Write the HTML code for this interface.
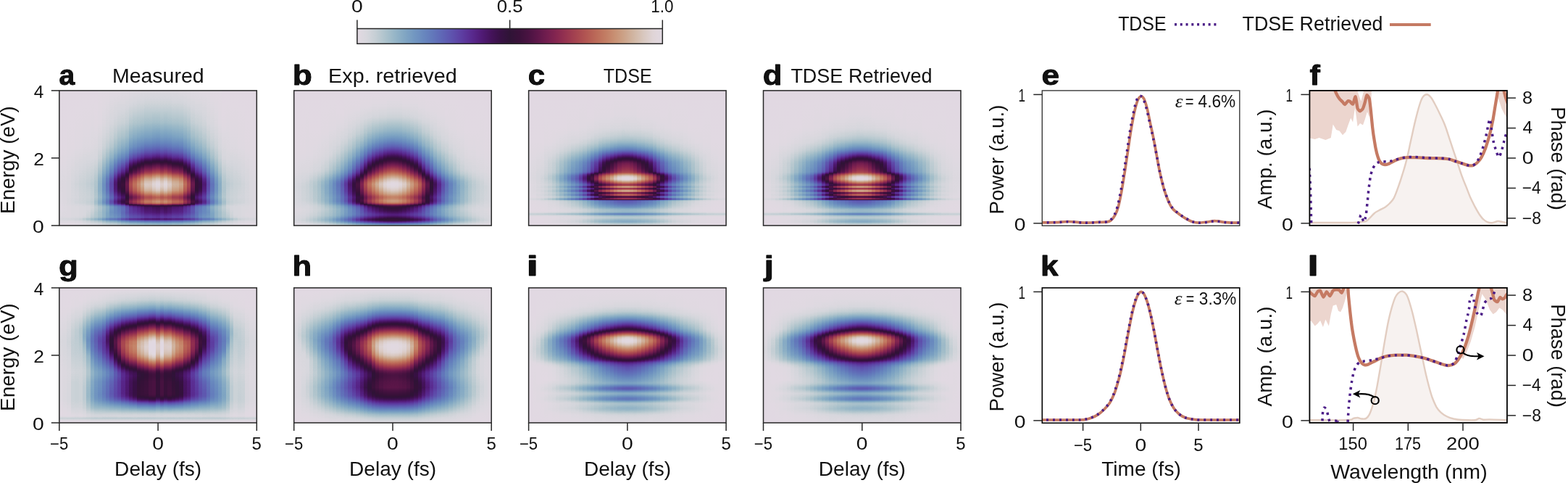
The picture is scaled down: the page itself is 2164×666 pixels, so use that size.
<!DOCTYPE html>
<html><head><meta charset="utf-8"><title>Figure</title>
<style>
html,body{margin:0;padding:0;background:#fff}
#fig{position:relative;width:2164px;height:666px;overflow:hidden;background:#fff;font-family:"Liberation Sans",sans-serif}
#fig svg{position:absolute;left:0;top:0}
.hm{position:absolute;overflow:hidden;background:#e2d9e2}
.hc{position:absolute;top:0;height:100%;filter:url(#tw)}
.hc i{position:absolute;top:0;height:100%;width:5.64px}
text{font-family:"Liberation Sans",sans-serif;fill:#111}
.p0{background:linear-gradient(#000,#010101 41.7%,#050505 69.1%,#040404 82.8%,#030303 86.8%,#050505 93.5%,#080808 95.2%,#040404 97%,#010101)}
.p1{background:linear-gradient(#000,#010101 41.7%,#050505 68.8%,#050505 83.3%,#040404 86.6%,#050505 93.5%,#090909 95.2%,#040404 97%,#010101)}
.p2{background:linear-gradient(#000,#020202 41.7%,#060606 67.5%,#060606 79%,#070707 82.5%,#050505 86%,#050505 93%,#060606 94.1%,#0a0a0a 95.2%,#040404 97%,#010101)}
.p3{background:linear-gradient(#000,#020202 42.2%,#090909 69.4%,#080808 79%,#090909 82.8%,#060606 86%,#060606 93%,#070707 94.1%,#0b0b0b 95.2%,#040404 97%,#010101)}
.p4{background:linear-gradient(#000,#030303 41.9%,#0b0b0b 69.1%,#090909 79%,#0b0b0b 82.8%,#060606 86%,#060606 93%,#080808 94.1%,#0c0c0c 95.2%,#0b0b0b 95.7%,#050505 97%,#020202)}
.p5{background:linear-gradient(#000,#030303 41.7%,#0d0d0d 69.1%,#0b0b0b 79%,#0c0c0c 82.8%,#070707 86%,#070707 93%,#090909 94.1%,#0e0e0e 95.2%,#0d0d0d 95.7%,#060606 97%,#020202)}
.p6{background:linear-gradient(#000,#040404 41.7%,#0e0e0e 69.1%,#0c0c0c 79%,#0d0d0d 82.8%,#080808 86%,#080808 91.9%,#0a0a0a 93.8%,#111 94.9%,#121212 95.4%,#090909 97%,#030303)}
.p7{background:linear-gradient(#000,#040404 41.7%,#101010 69.1%,#0d0d0d 79%,#0f0f0f 82.8%,#0e0e0e 83.9%,#090909 85.8%,#090909 87.9%,#0d0d0d 93.5%,#0f0f0f 94.1%,#161616 94.9%,#171717 95.4%,#0c0c0c 97%,#040404)}
.p8{background:linear-gradient(#000,#050505 41.7%,#080808 49.7%,#121212 69.1%,#0f0f0f 79%,#111 82.8%,#101010 83.9%,#0c0c0c 85.5%,#0b0b0b 86.6%,#121212 93.5%,#141414 94.1%,#1d1d1d 95.2%,#1b1b1b 95.7%,#131313 96.5%,#0e0e0e 97.3%,#050505)}
.p9{background:linear-gradient(#000,#020202 24.2%,#060606 41.7%,#090909 50.3%,#161616 67.5%,#171717 73.9%,#151515 79%,#1a1a1a 82.5%,#191919 83.9%,#121212 85.5%,#111 86.8%,#151515 90.6%,#161616 93.5%,#181818 94.1%,#222 95.2%,#202020 95.7%,#161616 96.5%,#101010 97.3%,#0b0b0b 98.4%,#060606)}
.p10{background:linear-gradient(#010101,#030303 24.2%,#090909 42.2%,#0e0e0e 50%,#191919 60.2%,#202020 65.3%,#232323 69.1%,#232323 74.2%,#1f1f1f 79%,#252525 82.8%,#232323 83.9%,#181818 85.8%,#171717 87.4%,#1a1a1a 90.3%,#1b1b1b 93.5%,#1d1d1d 94.1%,#282828 95.2%,#282828 95.4%,#252525 95.7%,#1a1a1a 96.5%,#131313 97.3%,#0d0d0d 98.4%,#070707)}
.p11{background:linear-gradient(#010101,#050505 24.2%,#0d0d0d 41.9%,#151515 49.7%,#252525 60.2%,#2f2f2f 65.3%,#333 69.9%,#323232 74.2%,#2c2c2c 79%,#323232 82%,#333 82.8%,#2f2f2f 83.9%,#212121 85.5%,#1f1f1f 86%,#1e1e1e 86.8%,#212121 90.3%,#212121 93.5%,#242424 94.1%,#303030 95.2%,#303030 95.4%,#2e2e2e 95.7%,#212121 96.5%,#181818 97.3%,#111 98.4%,#090909)}
.p12{background:linear-gradient(#010101,#070707 23.9%,#0c0c0c 34.7%,#111 41.7%,#1b1b1b 49.5%,#2f2f2f 60.2%,#3d3d3d 65.3%,#424242 69.6%,#404040 74.2%,#373737 79%,#3f3f3f 82%,#3f3f3f 82.8%,#3d3d3d 83.6%,#3b3b3b 83.9%,#292929 85.5%,#262626 86%,#252525 86.8%,#292929 90.9%,#292929 93.5%,#2b2b2b 94.1%,#363636 94.9%,#393939 95.2%,#383838 95.4%,#353535 95.7%,#262626 96.5%,#1c1c1c 97.3%,#131313 98.4%,#0a0a0a)}
.p13{background:linear-gradient(#020202,#090909 23.9%,#0f0f0f 34.7%,#151515 41.7%,#222 49.5%,#3c3c3c 60.2%,#4d4d4d 65.3%,#525252 68%,#535353 69.6%,#515151 74.2%,#464646 79%,#474747 79.8%,#505050 82%,#505050 82.8%,#4d4d4d 83.6%,#4b4b4b 83.9%,#343434 85.5%,#303030 86%,#2f2f2f 86.6%,#323232 90.3%,#2e2e2e 93.5%,#303030 94.1%,#3c3c3c 94.9%,#3e3e3e 95.2%,#3e3e3e 95.4%,#3b3b3b 95.7%,#2a2a2a 96.5%,#1f1f1f 97.3%,#151515 98.4%,#0b0b0b)}
.p14{background:linear-gradient(#020202,#0b0b0b 23.9%,#131313 34.7%,#1b1b1b 41.7%,#222 45.7%,#2b2b2b 49.5%,#4c4c4c 60.2%,#626262 65.3%,#696969 68%,#6a6a6a 69.6%,#676767 74.2%,#585858 79%,#595959 79.8%,#626262 82%,#626262 82.8%,#5e5e5e 83.6%,#5b5b5b 83.9%,#3e3e3e 85.5%,#393939 86%,#373737 86.6%,#373737 90.3%,#323232 93.5%,#333 94.1%,#3f3f3f 94.9%,#414141 95.2%,#414141 95.4%,#3e3e3e 95.7%,#2c2c2c 96.5%,#212121 97.3%,#161616 98.4%,#0b0b0b)}
.p15{background:linear-gradient(#020202,#0d0d0d 23.9%,#171717 34.7%,#202020 41.7%,#282828 45.7%,#333 49.5%,#595959 60.2%,#676767 62.9%,#727272 65.3%,#797979 67.7%,#7b7b7b 69.4%,#7a7a7a 71.5%,#757575 74.2%,#636363 79%,#646464 79.8%,#6e6e6e 82%,#6d6d6d 82.8%,#696969 83.6%,#656565 83.9%,#494949 85.2%,#444 85.5%,#3f3f3f 86%,#3d3d3d 86.6%,#3b3b3b 90.3%,#363636 93.5%,#383838 94.1%,#454545 94.9%,#484848 95.2%,#474747 95.4%,#444 95.7%,#2d2d2d 96.8%,#252525 97.3%,#191919 98.4%,#0d0d0d)}
.p16{background:linear-gradient(#030303,#060606 8.9%,#0e0e0e 23.9%,#191919 34.7%,#242424 41.7%,#2d2d2d 45.7%,#383838 49.5%,#636363 60.2%,#727272 62.9%,#7e7e7e 65.3%,#858585 67.7%,#888 69.4%,#868686 71.5%,#818181 74.2%,#6c6c6c 79%,#6e6e6e 79.8%,#787878 82%,#787878 82.8%,#737373 83.6%,#6f6f6f 83.9%,#505050 85.2%,#4b4b4b 85.5%,#454545 86%,#434343 86.6%,#424242 87.9%,#444 90.6%,#3f3f3f 93.5%,#414141 94.1%,#4e4e4e 94.9%,#515151 95.2%,#515151 95.4%,#4d4d4d 95.7%,#333 96.8%,#2b2b2b 97.3%,#1d1d1d 98.4%,#0f0f0f)}
.p17{background:linear-gradient(#030303,#070707 8.9%,#101010 23.9%,#1c1c1c 34.7%,#282828 41.7%,#323232 45.7%,#3f3f3f 49.5%,#595959 54.8%,#707070 60.2%,#828282 62.9%,#909090 65.3%,#999 68%,#9b9b9b 69.6%,#999 71.8%,#959595 74.2%,#8e8e8e 75.8%,#818181 78.2%,#7e7e7e 79%,#808080 79.8%,#8d8d8d 82%,#8c8c8c 82.8%,#878787 83.6%,#828282 83.9%,#5e5e5e 85.2%,#585858 85.5%,#515151 86%,#4f4f4f 86.6%,#4d4d4d 87.9%,#4e4e4e 90.3%,#464646 93.5%,#474747 94.1%,#545454 94.9%,#575757 95.2%,#575757 95.4%,#525252 95.7%,#373737 96.8%,#2a2a2a 97.6%,#1c1c1c 98.7%,#101010)}
.p18{background:linear-gradient(#040404,#080808 8.9%,#141414 23.9%,#232323 34.7%,#313131 41.7%,#3e3e3e 45.7%,#4e4e4e 49.5%,#6d6d6d 54.8%,#898989 60.2%,#8e8e8e 61%,#9f9f9f 62.9%,#afafaf 65.3%,#b9b9b9 67.7%,#bcbcbc 69.4%,#bababa 71.5%,#b3b3b3 74.2%,#ababab 75.8%,#9a9a9a 78.2%,#969696 79%,#989898 79.8%,#a7a7a7 82%,#a6a6a6 82.8%,#9f9f9f 83.6%,#999 83.9%,#919191 84.1%,#6e6e6e 85.2%,#676767 85.5%,#5f5f5f 86%,#5a5a5a 87.1%,#575757 90.3%,#4d4d4d 93.5%,#4e4e4e 94.1%,#525252 94.4%,#5c5c5c 94.9%,#5f5f5f 95.2%,#5e5e5e 95.4%,#5a5a5a 95.7%,#434343 96.5%,#3c3c3c 96.8%,#2e2e2e 97.6%,#1e1e1e 98.7%,#111)}
.p19{background:linear-gradient(#040404,#090909 8.9%,#161616 23.9%,#262626 34.7%,#353535 41.7%,#434343 45.7%,#545454 49.5%,#757575 54.8%,#949494 60.2%,#999 61%,#ababab 62.9%,#bcbcbc 65.3%,#c7c7c7 67.7%,#cacaca 69.4%,#c8c8c8 71.5%,#c0c0c0 74.2%,#b7b7b7 75.8%,#a4a4a4 78.2%,#a0a0a0 79%,#a2a2a2 79.8%,#b0b0b0 82%,#afafaf 82.8%,#a8a8a8 83.6%,#a1a1a1 83.9%,#999 84.1%,#737373 85.2%,#6c6c6c 85.5%,#646464 86%,#5f5f5f 87.1%,#5a5a5a 90.3%,#4f4f4f 93.5%,#505050 94.1%,#535353 94.4%,#5d5d5d 94.9%,#606060 95.2%,#5f5f5f 95.4%,#5b5b5b 95.7%,#444 96.5%,#3d3d3d 96.8%,#2e2e2e 97.6%,#1f1f1f 98.7%,#121212)}
.p20{background:linear-gradient(#040404,#0a0a0a 8.9%,#171717 23.9%,#282828 34.4%,#383838 41.4%,#474747 45.7%,#5a5a5a 49.5%,#7d7d7d 54.8%,#9d9d9d 60.2%,#a3a3a3 61%,#b5b5b5 62.9%,#c8c8c8 65.3%,#d3d3d3 67.7%,#d7d7d7 69.4%,#d4d4d4 71.5%,#ccc 74.2%,#c1c1c1 75.8%,#adadad 78.2%,#a9a9a9 79%,#ababab 79.8%,#bababa 82%,#b9b9b9 82.8%,#b0b0b0 83.6%,#aaa 83.9%,#a1a1a1 84.1%,#797979 85.2%,#727272 85.5%,#696969 86%,#636363 87.1%,#5e5e5e 90.3%,#515151 93.5%,#525252 94.1%,#555 94.4%,#5f5f5f 94.9%,#626262 95.2%,#626262 95.4%,#5d5d5d 95.7%,#464646 96.5%,#3f3f3f 96.8%,#303030 97.6%,#202020 98.7%,#121212)}
.p21{background:linear-gradient(#050505,#0a0a0a 8.9%,#181818 23.9%,#2a2a2a 34.4%,#323232 38.2%,#3b3b3b 41.4%,#4b4b4b 45.7%,#5f5f5f 49.5%,#848484 54.8%,#a6a6a6 60.2%,#acacac 61%,#c0c0c0 62.9%,#d3d3d3 65.3%,#dfdfdf 67.7%,#e3e3e3 69.4%,#e0e0e0 71.2%,#d8d8d8 73.9%,#ccc 75.8%,#b7b7b7 78.2%,#b2b2b2 79%,#b4b4b4 79.8%,#c4c4c4 82%,#c4c4c4 82.3%,#c2c2c2 82.8%,#bababa 83.6%,#b2b2b2 83.9%,#a9a9a9 84.1%,#7f7f7f 85.2%,#777 85.5%,#6e6e6e 86%,#6b6b6b 86.3%,#686868 87.1%,#626262 90.3%,#555 93.5%,#555 94.1%,#595959 94.4%,#636363 94.9%,#666 95.2%,#656565 95.4%,#606060 95.7%,#484848 96.5%,#424242 96.8%,#323232 97.6%,#212121 98.7%,#131313)}
.p22{background:linear-gradient(#050505,#0b0b0b 8.9%,#1a1a1a 23.9%,#2c2c2c 34.4%,#353535 38.2%,#3f3f3f 41.4%,#505050 45.7%,#646464 49.5%,#8c8c8c 54.8%,#afafaf 60.2%,#b6b6b6 61%,#cbcbcb 62.9%,#e0e0e0 65.3%,#ececec 67.7%,#f0f0f0 69.4%,#eee 71.2%,#e5e5e5 73.9%,#d8d8d8 75.8%,#c1c1c1 78.2%,#bcbcbc 79%,#bebebe 79.8%,#cfcfcf 82%,#cfcfcf 82.3%,#cdcdcd 82.8%,#c4c4c4 83.6%,#bdbdbd 83.9%,#b2b2b2 84.1%,#868686 85.2%,#7e7e7e 85.5%,#747474 86%,#717171 86.3%,#6e6e6e 87.1%,#676767 90.3%,#5e5e5e 92.2%,#595959 93.5%,#595959 94.1%,#5d5d5d 94.4%,#676767 94.9%,#6a6a6a 95.2%,#696969 95.4%,#646464 95.7%,#4c4c4c 96.5%,#454545 96.8%,#343434 97.6%,#232323 98.7%,#141414)}
.p23{background:linear-gradient(#050505,#0b0b0b 8.9%,#1a1a1a 23.9%,#2c2c2c 34.4%,#353535 38.2%,#3f3f3f 41.4%,#505050 45.7%,#626262 49.2%,#8b8b8b 54.8%,#afafaf 60.2%,#b6b6b6 61%,#cacaca 62.9%,#dfdfdf 65.3%,#ececec 67.7%,#efefef 69.4%,#ededed 71.2%,#e4e4e4 73.9%,#d7d7d7 75.8%,#c0c0c0 78.2%,#bbb 79%,#bdbdbd 79.8%,#cecece 82%,#cecece 82.3%,#ccc 82.8%,#c3c3c3 83.6%,#bcbcbc 83.9%,#b1b1b1 84.1%,#868686 85.2%,#7d7d7d 85.5%,#737373 86%,#717171 86.3%,#6d6d6d 87.1%,#676767 90.3%,#5d5d5d 92.2%,#585858 93.5%,#585858 94.1%,#5c5c5c 94.4%,#666 94.9%,#686868 95.2%,#686868 95.4%,#636363 95.7%,#4b4b4b 96.5%,#444 96.8%,#343434 97.6%,#222 98.7%,#131313)}
.p24{background:linear-gradient(#050505,#0b0b0b 8.9%,#1b1b1b 23.9%,#2e2e2e 34.4%,#373737 38.2%,#414141 41.4%,#525252 45.7%,#666 49.2%,#909090 54.8%,#b5b5b5 60.2%,#bcbcbc 61%,#d1d1d1 62.9%,#e6e6e6 65.3%,#f3f3f3 67.7%,#f7f7f7 69.4%,#f4f4f4 71.2%,#ebebeb 73.9%,#dedede 75.8%,#c6c6c6 78.2%,#c1c1c1 79%,#c1c1c1 79.3%,#c3c3c3 79.8%,#d4d4d4 82%,#d5d5d5 82.3%,#d2d2d2 82.8%,#c9c9c9 83.6%,#c1c1c1 83.9%,#b7b7b7 84.1%,#8a8a8a 85.2%,#818181 85.5%,#777 86%,#747474 86.3%,#707070 87.1%,#696969 90.3%,#606060 92.2%,#5a5a5a 93.5%,#5a5a5a 94.1%,#5e5e5e 94.4%,#686868 94.9%,#6b6b6b 95.2%,#6a6a6a 95.4%,#656565 95.7%,#4c4c4c 96.5%,#454545 96.8%,#353535 97.6%,#232323 98.7%,#141414)}
.p25{background:linear-gradient(#050505,#0b0b0b 8.9%,#1b1b1b 23.9%,#2f2f2f 34.4%,#383838 38.2%,#424242 41.4%,#545454 45.7%,#686868 49.2%,#7d7d7d 52.2%,#939393 54.8%,#b8b8b8 60.2%,#bfbfbf 61%,#d5d5d5 62.9%,#ebebeb 65.3%,#f8f8f8 67.7%,#fcfcfc 69.4%,#f9f9f9 71.2%,#f0f0f0 73.9%,#e2e2e2 75.8%,#cacaca 78.2%,#c5c5c5 79%,#c4c4c4 79.3%,#c7c7c7 79.8%,#d8d8d8 82%,#d9d9d9 82.3%,#d6d6d6 82.8%,#cdcdcd 83.6%,#c5c5c5 83.9%,#bababa 84.1%,#8c8c8c 85.2%,#838383 85.5%,#797979 86%,#767676 86.3%,#727272 87.1%,#6b6b6b 90.3%,#616161 92.2%,#5c5c5c 93.5%,#5c5c5c 94.1%,#5f5f5f 94.4%,#696969 94.9%,#6c6c6c 95.2%,#6b6b6b 95.4%,#666 95.7%,#4d4d4d 96.5%,#464646 96.8%,#363636 97.6%,#242424 98.7%,#141414)}
.p26{background:linear-gradient(#050505,#0b0b0b 8.9%,#1a1a1a 23.9%,#2d2d2d 34.4%,#363636 38.2%,#404040 41.4%,#515151 45.7%,#646464 49.2%,#8e8e8e 54.8%,#b2b2b2 60.2%,#b9b9b9 61%,#cecece 62.9%,#e3e3e3 65.3%,#efefef 67.7%,#f3f3f3 69.4%,#f1f1f1 71.2%,#e7e7e7 73.9%,#dadada 75.8%,#c3c3c3 78.2%,#bebebe 79%,#c0c0c0 79.8%,#d1d1d1 82%,#d1d1d1 82.3%,#cfcfcf 82.8%,#c6c6c6 83.6%,#bebebe 83.9%,#b4b4b4 84.1%,#878787 85.2%,#7f7f7f 85.5%,#757575 86%,#727272 86.3%,#6f6f6f 87.1%,#676767 90.3%,#5e5e5e 92.2%,#585858 93.5%,#595959 94.1%,#5c5c5c 94.4%,#656565 94.9%,#686868 95.2%,#676767 95.4%,#636363 95.7%,#4b4b4b 96.5%,#444 96.8%,#343434 97.6%,#222 98.7%,#131313)}
.p27{background:linear-gradient(#050505,#0b0b0b 8.9%,#1b1b1b 23.9%,#2e2e2e 34.4%,#373737 38.2%,#414141 41.4%,#535353 45.7%,#676767 49.2%,#919191 54.8%,#b7b7b7 60.2%,#bebebe 61%,#d3d3d3 62.9%,#e9e9e9 65.3%,#f6f6f6 67.7%,#fafafa 69.4%,#f7f7f7 71.2%,#eee 73.9%,#e0e0e0 75.8%,#c9c9c9 78.2%,#c3c3c3 79%,#c3c3c3 79.3%,#c5c5c5 79.8%,#d6d6d6 82%,#d7d7d7 82.3%,#d5d5d5 82.8%,#cbcbcb 83.6%,#c3c3c3 83.9%,#b9b9b9 84.1%,#8b8b8b 85.2%,#828282 85.5%,#787878 86%,#757575 86.3%,#727272 87.1%,#6b6b6b 90.3%,#616161 92.2%,#5b5b5b 93.5%,#5b5b5b 94.1%,#5f5f5f 94.4%,#696969 94.9%,#6c6c6c 95.2%,#6b6b6b 95.4%,#666 95.7%,#4d4d4d 96.5%,#464646 96.8%,#353535 97.6%,#232323 98.7%,#141414)}
.p28{background:linear-gradient(#050505,#0b0b0b 8.9%,#1a1a1a 23.9%,#2d2d2d 34.4%,#363636 38.2%,#3f3f3f 41.4%,#505050 45.7%,#636363 49.2%,#8c8c8c 54.8%,#b0b0b0 60.2%,#b7b7b7 61%,#ccc 62.9%,#e1e1e1 65.3%,#ededed 67.7%,#f1f1f1 69.4%,#efefef 71.2%,#e6e6e6 73.9%,#d9d9d9 75.8%,#c2c2c2 78.2%,#bdbdbd 79%,#bfbfbf 79.8%,#cfcfcf 82%,#d0d0d0 82.3%,#cecece 82.8%,#c5c5c5 83.6%,#bdbdbd 83.9%,#b3b3b3 84.1%,#878787 85.2%,#7e7e7e 85.5%,#747474 86%,#727272 86.3%,#6e6e6e 87.1%,#686868 90.3%,#5e5e5e 92.2%,#595959 93.5%,#595959 94.1%,#5c5c5c 94.4%,#666 94.9%,#696969 95.2%,#696969 95.4%,#646464 95.7%,#4b4b4b 96.5%,#444 96.8%,#343434 97.6%,#232323 98.7%,#141414)}
.p29{background:linear-gradient(#050505,#0a0a0a 8.9%,#191919 23.9%,#2b2b2b 34.4%,#333 38.2%,#3c3c3c 41.4%,#4d4d4d 45.7%,#606060 49.5%,#868686 54.8%,#a8a8a8 60.2%,#afafaf 61%,#c3c3c3 62.9%,#d7d7d7 65.3%,#e3e3e3 67.7%,#e6e6e6 69.4%,#e4e4e4 71.2%,#dcdcdc 73.9%,#cfcfcf 75.8%,#b9b9b9 78.2%,#b4b4b4 79%,#b7b7b7 79.8%,#c6c6c6 82%,#c7c7c7 82.3%,#c5c5c5 82.8%,#bcbcbc 83.6%,#b5b5b5 83.9%,#ababab 84.1%,#818181 85.2%,#797979 85.5%,#6f6f6f 86%,#6d6d6d 86.3%,#6a6a6a 87.1%,#636363 90.3%,#555 93.5%,#565656 94.1%,#595959 94.4%,#636363 94.9%,#666 95.2%,#656565 95.4%,#606060 95.7%,#494949 96.5%,#424242 96.8%,#323232 97.6%,#212121 98.7%,#131313)}
.p30{background:linear-gradient(#050505,#0a0a0a 8.9%,#191919 23.9%,#2a2a2a 34.4%,#333 38.2%,#3c3c3c 41.4%,#4c4c4c 45.7%,#606060 49.5%,#858585 54.8%,#a8a8a8 60.2%,#aeaeae 61%,#c2c2c2 62.9%,#d6d6d6 65.3%,#e2e2e2 67.7%,#e5e5e5 69.4%,#e3e3e3 71.2%,#dbdbdb 73.9%,#cecece 75.8%,#b9b9b9 78.2%,#b4b4b4 79%,#b6b6b6 79.8%,#c6c6c6 82%,#c6c6c6 82.3%,#c4c4c4 82.8%,#bcbcbc 83.6%,#b5b5b5 83.9%,#ababab 84.1%,#818181 85.2%,#797979 85.5%,#6f6f6f 86%,#6d6d6d 86.3%,#696969 87.1%,#636363 90.3%,#565656 93.5%,#565656 94.1%,#5a5a5a 94.4%,#646464 94.9%,#676767 95.2%,#666 95.4%,#616161 95.7%,#494949 96.5%,#424242 96.8%,#323232 97.6%,#222 98.7%,#131313)}
.p31{background:linear-gradient(#040404,#0a0a0a 8.9%,#181818 23.9%,#292929 34.4%,#3a3a3a 41.4%,#4a4a4a 45.7%,#5d5d5d 49.5%,#828282 54.8%,#a3a3a3 60.2%,#a9a9a9 61%,#bcbcbc 62.9%,#d0d0d0 65.3%,#dbdbdb 67.7%,#dfdfdf 69.4%,#dcdcdc 71.5%,#d3d3d3 74.2%,#c9c9c9 75.8%,#b4b4b4 78.2%,#afafaf 79%,#b1b1b1 79.8%,#c1c1c1 82%,#c2c2c2 82.3%,#c0c0c0 82.8%,#b7b7b7 83.6%,#b0b0b0 83.9%,#a7a7a7 84.1%,#7e7e7e 85.2%,#767676 85.5%,#6d6d6d 86%,#6a6a6a 86.3%,#676767 87.1%,#626262 90.3%,#545454 93.5%,#555 94.1%,#595959 94.4%,#636363 94.9%,#666 95.2%,#656565 95.4%,#616161 95.7%,#484848 96.5%,#424242 96.8%,#323232 97.6%,#212121 98.7%,#131313)}
.p32{background:linear-gradient(#040404,#090909 8.9%,#161616 23.9%,#262626 34.7%,#353535 41.7%,#434343 45.7%,#545454 49.5%,#757575 54.8%,#939393 60.2%,#999 61%,#aaa 62.9%,#bcbcbc 65.3%,#c7c7c7 67.7%,#cacaca 69.4%,#c7c7c7 71.5%,#c0c0c0 74.2%,#b6b6b6 75.8%,#a4a4a4 78.2%,#9f9f9f 79%,#a1a1a1 79.8%,#b0b0b0 82%,#afafaf 82.8%,#a7a7a7 83.6%,#a1a1a1 83.9%,#989898 84.1%,#737373 85.2%,#6c6c6c 85.5%,#636363 86%,#5f5f5f 87.1%,#5a5a5a 90.3%,#4e4e4e 93.5%,#4f4f4f 94.1%,#535353 94.4%,#5d5d5d 94.9%,#606060 95.2%,#5f5f5f 95.4%,#5a5a5a 95.7%,#434343 96.5%,#3d3d3d 96.8%,#2e2e2e 97.6%,#1f1f1f 98.7%,#111)}
.p33{background:linear-gradient(#040404,#080808 8.9%,#141414 23.9%,#222 34.7%,#303030 41.7%,#3d3d3d 45.7%,#4c4c4c 49.5%,#6b6b6b 54.8%,#868686 60.2%,#8c8c8c 61%,#9c9c9c 62.9%,#acacac 65.3%,#b6b6b6 67.7%,#b9b9b9 69.4%,#b7b7b7 71.5%,#b0b0b0 74.2%,#a8a8a8 75.8%,#979797 78.2%,#939393 79%,#959595 79.8%,#a3a3a3 82%,#a3a3a3 82.8%,#9c9c9c 83.6%,#969696 83.9%,#8e8e8e 84.1%,#6b6b6b 85.2%,#656565 85.5%,#5d5d5d 86%,#595959 87.1%,#565656 90.3%,#4b4b4b 93.5%,#4d4d4d 94.1%,#5a5a5a 94.9%,#5d5d5d 95.2%,#5c5c5c 95.4%,#585858 95.7%,#414141 96.5%,#3b3b3b 96.8%,#2d2d2d 97.6%,#1e1e1e 98.7%,#111)}
.p34{background:linear-gradient(#030303,#070707 8.9%,#101010 23.9%,#1c1c1c 34.7%,#292929 41.7%,#333 45.7%,#404040 49.5%,#5a5a5a 54.8%,#717171 60.2%,#838383 62.9%,#919191 65.3%,#9a9a9a 68%,#9c9c9c 69.6%,#9a9a9a 71.8%,#969696 74.2%,#8f8f8f 75.8%,#828282 78.2%,#7f7f7f 79%,#818181 79.8%,#8e8e8e 82%,#8e8e8e 82.8%,#888 83.6%,#838383 83.9%,#5e5e5e 85.2%,#595959 85.5%,#525252 86%,#505050 86.6%,#4e4e4e 87.9%,#4e4e4e 90.3%,#464646 93.5%,#484848 94.1%,#555 94.9%,#585858 95.2%,#575757 95.4%,#535353 95.7%,#383838 96.8%,#2a2a2a 97.6%,#1c1c1c 98.7%,#101010)}
.p35{background:linear-gradient(#030303,#060606 8.9%,#0e0e0e 23.9%,#191919 34.7%,#232323 41.7%,#2c2c2c 45.7%,#373737 49.5%,#606060 60.2%,#707070 62.9%,#7b7b7b 65.3%,#828282 67.7%,#848484 69.4%,#838383 71.5%,#7e7e7e 74.2%,#6a6a6a 79%,#6b6b6b 79.8%,#767676 82%,#757575 82.8%,#707070 83.6%,#6c6c6c 83.9%,#4e4e4e 85.2%,#494949 85.5%,#444 86%,#424242 86.6%,#414141 87.9%,#424242 90.6%,#3e3e3e 93.5%,#404040 94.1%,#4c4c4c 94.9%,#4f4f4f 95.2%,#4f4f4f 95.4%,#4b4b4b 95.7%,#323232 96.8%,#2a2a2a 97.3%,#1c1c1c 98.4%,#0f0f0f)}
.p36{background:linear-gradient(#020202,#0d0d0d 23.9%,#161616 34.7%,#202020 41.7%,#282828 45.7%,#323232 49.5%,#595959 60.2%,#676767 62.9%,#727272 65.3%,#787878 67.7%,#7a7a7a 69.4%,#797979 71.5%,#757575 74.2%,#626262 79%,#636363 79.8%,#6d6d6d 82%,#6d6d6d 82.8%,#686868 83.6%,#646464 83.9%,#484848 85.2%,#444 85.5%,#3f3f3f 86%,#3d3d3d 86.6%,#3b3b3b 90.3%,#363636 93.5%,#383838 94.1%,#444 94.9%,#474747 95.2%,#474747 95.4%,#434343 95.7%,#2d2d2d 96.8%,#252525 97.3%,#191919 98.4%,#0d0d0d)}
.p37{background:linear-gradient(#020202,#0b0b0b 23.9%,#131313 34.7%,#1b1b1b 41.7%,#222 45.7%,#2a2a2a 49.5%,#4b4b4b 60.2%,#616161 65.3%,#676767 68%,#696969 69.6%,#656565 74.2%,#575757 79%,#585858 79.8%,#616161 82%,#616161 82.8%,#5d5d5d 83.6%,#5a5a5a 83.9%,#3d3d3d 85.5%,#383838 86%,#373737 86.6%,#363636 90.3%,#313131 93.5%,#333 94.1%,#3e3e3e 94.9%,#414141 95.2%,#404040 95.4%,#3d3d3d 95.7%,#2c2c2c 96.5%,#212121 97.3%,#161616 98.4%,#0b0b0b)}
.p38{background:linear-gradient(#020202,#080808 23.9%,#0f0f0f 34.7%,#151515 41.7%,#222 49.5%,#3c3c3c 60.2%,#4d4d4d 65.3%,#525252 68%,#535353 69.6%,#505050 74.2%,#454545 79%,#474747 79.8%,#4f4f4f 82%,#4f4f4f 82.8%,#4d4d4d 83.6%,#4a4a4a 83.9%,#343434 85.5%,#303030 86%,#2f2f2f 86.6%,#323232 90.3%,#2e2e2e 93.5%,#303030 94.1%,#3c3c3c 94.9%,#3e3e3e 95.2%,#3e3e3e 95.4%,#3a3a3a 95.7%,#2a2a2a 96.5%,#1f1f1f 97.3%,#151515 98.4%,#0b0b0b)}
.p39{background:linear-gradient(#010101,#070707 23.9%,#0c0c0c 34.7%,#111 41.7%,#1a1a1a 49.5%,#2f2f2f 60.2%,#3c3c3c 65.3%,#414141 69.6%,#3f3f3f 74.2%,#373737 79%,#3e3e3e 82%,#3e3e3e 82.8%,#3c3c3c 83.6%,#3a3a3a 83.9%,#282828 85.5%,#252525 86%,#242424 86.8%,#292929 90.9%,#292929 93.5%,#2b2b2b 94.1%,#363636 94.9%,#383838 95.2%,#383838 95.4%,#353535 95.7%,#262626 96.5%,#1c1c1c 97.3%,#131313 98.4%,#0a0a0a)}
.p40{background:linear-gradient(#010101,#050505 24.2%,#0d0d0d 41.9%,#141414 49.7%,#242424 60.2%,#2e2e2e 65.3%,#323232 69.9%,#313131 74.2%,#2b2b2b 79%,#313131 82%,#313131 82.8%,#2e2e2e 83.9%,#202020 85.5%,#1e1e1e 86%,#1d1d1d 86.8%,#202020 90.3%,#202020 93.5%,#222 94.1%,#2f2f2f 95.2%,#2f2f2f 95.4%,#2c2c2c 95.7%,#202020 96.5%,#181818 97.3%,#101010 98.4%,#090909)}
.p41{background:linear-gradient(#010101,#030303 24.2%,#090909 42.2%,#0e0e0e 50%,#191919 60.2%,#212121 65.3%,#242424 69.1%,#242424 74.2%,#202020 79%,#262626 82.8%,#242424 83.9%,#191919 85.8%,#181818 87.4%,#1b1b1b 90.3%,#1b1b1b 93.5%,#1e1e1e 94.1%,#292929 95.2%,#282828 95.4%,#262626 95.7%,#1b1b1b 96.5%,#141414 97.3%,#0d0d0d 98.4%,#070707)}
.p42{background:linear-gradient(#000,#020202 24.2%,#060606 41.7%,#090909 50.3%,#161616 67.5%,#171717 73.9%,#151515 79%,#1a1a1a 82.5%,#191919 83.9%,#121212 85.5%,#111 86.8%,#151515 90.6%,#161616 93.5%,#181818 94.1%,#222 95.2%,#202020 95.7%,#161616 96.5%,#101010 97.3%,#0b0b0b 98.4%,#060606)}
.p43{background:linear-gradient(#000,#050505 41.7%,#070707 49.7%,#121212 69.1%,#0f0f0f 79%,#111 82.8%,#101010 83.9%,#0b0b0b 85.5%,#0b0b0b 86.6%,#121212 93.5%,#141414 94.1%,#1c1c1c 95.2%,#1b1b1b 95.7%,#121212 96.5%,#0d0d0d 97.3%,#050505)}
.p44{background:linear-gradient(#000,#040404 41.7%,#101010 69.1%,#0d0d0d 79%,#0f0f0f 82.8%,#0e0e0e 83.9%,#090909 85.8%,#090909 87.9%,#0d0d0d 93.5%,#0f0f0f 94.1%,#161616 94.9%,#171717 95.4%,#0c0c0c 97%,#040404)}
.p45{background:linear-gradient(#000,#040404 41.7%,#0e0e0e 69.1%,#0c0c0c 79%,#0d0d0d 82.8%,#080808 86%,#080808 91.9%,#0a0a0a 93.8%,#111 94.9%,#121212 95.4%,#090909 97%,#030303)}
.p46{background:linear-gradient(#000,#030303 41.7%,#0d0d0d 69.1%,#0a0a0a 79%,#0c0c0c 82.8%,#070707 86%,#070707 93%,#090909 94.1%,#0e0e0e 95.2%,#0d0d0d 95.7%,#060606 97%,#020202)}
.p47{background:linear-gradient(#000,#030303 41.9%,#0b0b0b 69.1%,#0a0a0a 79%,#0b0b0b 82.8%,#060606 86%,#060606 93%,#080808 94.1%,#0c0c0c 95.2%,#0b0b0b 95.7%,#050505 97%,#020202)}
.p48{background:linear-gradient(#000,#020202 42.2%,#090909 69.4%,#080808 79%,#090909 82.8%,#060606 86%,#050505 93%,#070707 94.1%,#0b0b0b 95.2%,#040404 97%,#010101)}
.p49{background:linear-gradient(#000,#020202 41.7%,#060606 67.5%,#060606 79%,#070707 82.5%,#050505 86%,#050505 93%,#060606 94.1%,#0a0a0a 95.2%,#040404 97%,#010101)}
.p50{background:linear-gradient(#000,#010101 41.7%,#050505 68.8%,#050505 83.3%,#040404 86.6%,#050505 93.5%,#090909 95.2%,#040404 97%,#010101)}
.q0{background:linear-gradient(#000,#020202 45.7%,#040404 58.6%,#090909 70.7%,#080808 82%,#050505 88.4%,#060606 92.5%,#090909 96%,#020202)}
.q1{background:linear-gradient(#000,#020202 46%,#050505 58.9%,#0a0a0a 71%,#090909 82%,#050505 88.4%,#070707 92.5%,#0a0a0a 96%,#020202)}
.q2{background:linear-gradient(#000,#020202 46.5%,#060606 59.7%,#0c0c0c 71%,#0b0b0b 81.7%,#060606 88.2%,#080808 92.5%,#0c0c0c 96%,#030303)}
.q3{background:linear-gradient(#000,#030303 47.3%,#060606 59.4%,#0e0e0e 70.4%,#0d0d0d 81.7%,#080808 85.8%,#070707 88.4%,#0a0a0a 92.7%,#0f0f0f 95.7%,#0d0d0d 96.8%,#030303)}
.q4{background:linear-gradient(#000,#010101 29.3%,#030303 47.8%,#070707 59.4%,#101010 67.7%,#111 70.4%,#0f0f0f 81.7%,#0a0a0a 85.8%,#090909 88.4%,#0c0c0c 92.5%,#121212 95.7%,#101010 96.8%,#040404)}
.q5{background:linear-gradient(#000,#010101 29.6%,#040404 48.1%,#090909 59.4%,#131313 67.7%,#151515 70.7%,#131313 81.7%,#0c0c0c 85.5%,#0b0b0b 88.2%,#0e0e0e 92.5%,#151515 95.7%,#131313 96.8%,#050505)}
.q6{background:linear-gradient(#000,#010101 29.8%,#050505 48.1%,#0a0a0a 59.1%,#181818 67.7%,#191919 70.7%,#171717 81.7%,#151515 83.3%,#0f0f0f 85.5%,#0d0d0d 88.2%,#111 92.5%,#191919 95.7%,#161616 96.8%,#050505)}
.q7{background:linear-gradient(#000,#020202 29.8%,#060606 48.4%,#0d0d0d 59.1%,#111 61.8%,#1d1d1d 67.5%,#202020 70.4%,#1c1c1c 81.7%,#191919 83.3%,#121212 85.5%,#101010 87.9%,#141414 92.5%,#1d1d1d 95.7%,#191919 96.8%,#060606)}
.q8{background:linear-gradient(#000,#020202 29.3%,#070707 47.6%,#101010 58.9%,#151515 61.3%,#232323 67.2%,#262626 70.4%,#252525 76.3%,#222 79.3%,#222 81.7%,#1f1f1f 83.3%,#171717 85.5%,#131313 87.9%,#171717 92.5%,#212121 95.7%,#1d1d1d 96.8%,#070707)}
.q9{background:linear-gradient(#000,#030303 29%,#090909 47%,#151515 58.6%,#1a1a1a 61.3%,#2b2b2b 67.2%,#2e2e2e 70.4%,#2c2c2c 76.1%,#292929 79%,#292929 82%,#252525 83.6%,#1b1b1b 85.5%,#171717 87.9%,#1a1a1a 92.5%,#262626 95.7%,#222 96.8%,#080808)}
.q10{background:linear-gradient(#000,#030303 28%,#070707 38.4%,#0b0b0b 46%,#111 52.2%,#191919 58.3%,#1f1f1f 61%,#333 67.2%,#363636 68.8%,#363636 70.4%,#343434 75.8%,#303030 79%,#313131 82%,#2c2c2c 83.6%,#202020 85.5%,#1b1b1b 87.9%,#1e1e1e 92.5%,#232323 93.8%,#2b2b2b 95.2%,#2c2c2c 95.7%,#2a2a2a 96.2%,#272727 96.8%,#090909)}
.q11{background:linear-gradient(#000,#010101 16.4%,#040404 27.2%,#080808 37.6%,#0d0d0d 45.2%,#151515 51.6%,#1f1f1f 58.3%,#262626 61%,#3c3c3c 67.2%,#3f3f3f 68.5%,#404040 70.2%,#3d3d3d 75.3%,#383838 79%,#393939 82%,#333 83.6%,#262626 85.5%,#202020 87.9%,#232323 92.5%,#292929 93.8%,#313131 95.2%,#333 95.7%,#313131 96.2%,#2d2d2d 96.8%,#232323 97.8%,#0b0b0b)}
.q12{background:linear-gradient(#000,#010101 16.1%,#040404 26.3%,#0a0a0a 36.8%,#101010 44.4%,#191919 51.1%,#262626 58.3%,#2e2e2e 61%,#474747 67.2%,#4a4a4a 68.5%,#4b4b4b 70.2%,#484848 75.3%,#424242 79%,#424242 82%,#3c3c3c 83.6%,#2c2c2c 85.5%,#282828 86.6%,#262626 87.9%,#272727 91.1%,#292929 92.5%,#303030 93.8%,#393939 95.2%,#3a3a3a 95.7%,#383838 96.2%,#333 96.8%,#272727 97.8%,#0c0c0c)}
.q13{background:linear-gradient(#000,#020202 15.9%,#050505 25.8%,#0b0b0b 36.3%,#131313 43.8%,#1e1e1e 50.8%,#2e2e2e 58.3%,#383838 61.3%,#545454 66.9%,#595959 68.5%,#5a5a5a 69.9%,#565656 75%,#4d4d4d 79%,#4e4e4e 82%,#464646 83.6%,#343434 85.5%,#2f2f2f 86.6%,#2c2c2c 87.9%,#2f2f2f 92.5%,#363636 93.8%,#404040 95.2%,#424242 95.7%,#3f3f3f 96.2%,#3a3a3a 96.8%,#2c2c2c 97.8%,#0e0e0e)}
.q14{background:linear-gradient(#000,#020202 13.7%,#050505 22.3%,#0c0c0c 33.9%,#161616 43%,#222 49.5%,#373737 58.1%,#424242 60.8%,#626262 66.4%,#696969 68.3%,#6b6b6b 69.9%,#666 74.7%,#636363 76.6%,#5c5c5c 79%,#5e5e5e 81.2%,#5d5d5d 82%,#5a5a5a 82.8%,#545454 83.6%,#3d3d3d 85.5%,#383838 86.6%,#343434 87.9%,#343434 92.2%,#383838 93%,#484848 95.2%,#494949 95.7%,#474747 96.2%,#414141 96.8%,#323232 97.8%,#0f0f0f)}
.q15{background:linear-gradient(#000,#020202 12.6%,#050505 21%,#0d0d0d 32.5%,#191919 41.7%,#272727 48.4%,#444 57.8%,#515151 60.8%,#727272 66.4%,#797979 68.3%,#7b7b7b 69.6%,#7a7a7a 71.2%,#767676 74.5%,#717171 76.6%,#696969 79%,#6c6c6c 81.2%,#6c6c6c 82%,#686868 82.8%,#626262 83.6%,#474747 85.5%,#404040 86.6%,#3c3c3c 87.9%,#3a3a3a 91.1%,#3b3b3b 92.2%,#434343 93.5%,#515151 95.2%,#535353 95.7%,#4f4f4f 96.2%,#494949 96.8%,#383838 97.8%,#111)}
.q16{background:linear-gradient(#000,#020202 12.6%,#060606 20.7%,#101010 32%,#1e1e1e 41.1%,#2f2f2f 48.1%,#525252 58.1%,#606060 61%,#848484 66.4%,#8c8c8c 68.3%,#8e8e8e 69.6%,#8d8d8d 71.2%,#878787 74.5%,#818181 76.6%,#787878 79%,#7b7b7b 81.5%,#7a7a7a 82.3%,#727272 83.3%,#6f6f6f 83.6%,#505050 85.5%,#494949 86.6%,#454545 87.9%,#424242 91.4%,#434343 92.2%,#454545 92.7%,#4d4d4d 93.8%,#5a5a5a 95.2%,#5c5c5c 95.7%,#5b5b5b 96%,#555 96.5%,#434343 97.6%,#131313)}
.q17{background:linear-gradient(#000,#030303 12.4%,#070707 20.4%,#121212 31.7%,#1a1a1a 36.8%,#232323 40.9%,#373737 47.8%,#5f5f5f 57.8%,#707070 60.8%,#979797 66.1%,#a2a2a2 68.3%,#a4a4a4 69.6%,#a2a2a2 71.5%,#9b9b9b 74.5%,#949494 76.6%,#898989 79%,#898989 79.8%,#8e8e8e 81.5%,#8c8c8c 82.3%,#868686 83.1%,#808080 83.6%,#606060 85.2%,#5c5c5c 85.5%,#555 86.3%,#4f4f4f 87.9%,#4a4a4a 91.4%,#4a4a4a 92.2%,#4d4d4d 92.7%,#555 93.8%,#636363 95.2%,#656565 95.7%,#646464 96%,#5d5d5d 96.5%,#494949 97.6%,#151515)}
.q18{background:linear-gradient(#000,#030303 12.1%,#080808 20.2%,#161616 31.5%,#1f1f1f 36.3%,#282828 40.3%,#414141 47.6%,#717171 57.8%,#838383 60.8%,#9b9b9b 63.7%,#adadad 66.1%,#b7b7b7 68%,#bababa 69.4%,#b8b8b8 71.2%,#b0b0b0 74.2%,#a7a7a7 76.6%,#9e9e9e 78.2%,#9b9b9b 79%,#9b9b9b 79.8%,#a1a1a1 81.5%,#9f9f9f 82.3%,#989898 83.1%,#929292 83.6%,#6d6d6d 85.2%,#686868 85.5%,#616161 86.3%,#5a5a5a 87.6%,#575757 89.5%,#515151 91.4%,#515151 92.2%,#535353 92.7%,#5c5c5c 93.8%,#6a6a6a 95.2%,#6c6c6c 95.7%,#6a6a6a 96%,#636363 96.5%,#4e4e4e 97.6%,#171717)}
.q19{background:linear-gradient(#000,#030303 11.8%,#090909 19.9%,#181818 30.6%,#222 35.2%,#2c2c2c 39.2%,#353535 41.9%,#454545 46%,#636363 51.9%,#8e8e8e 59.7%,#979797 61%,#adadad 63.7%,#bebebe 66.1%,#c9c9c9 68.3%,#cbcbcb 69.4%,#c9c9c9 71.2%,#c0c0c0 74.2%,#b6b6b6 76.6%,#acacac 78.2%,#a9a9a9 79%,#aaa 79.8%,#b0b0b0 81.5%,#afafaf 82.3%,#a8a8a8 83.1%,#a1a1a1 83.6%,#787878 85.2%,#737373 85.5%,#6d6d6d 86%,#656565 87.4%,#5e5e5e 89.5%,#575757 91.1%,#565656 91.9%,#585858 92.7%,#616161 93.8%,#6f6f6f 95.2%,#717171 95.7%,#707070 96%,#686868 96.5%,#525252 97.6%,#181818)}
.q20{background:linear-gradient(#000,#040404 11.8%,#0a0a0a 19.6%,#1b1b1b 30.4%,#242424 34.4%,#2f2f2f 38.4%,#3d3d3d 42.2%,#595959 48.1%,#9b9b9b 59.7%,#a4a4a4 61%,#bababa 63.7%,#cbcbcb 66.1%,#d5d5d5 68.3%,#d8d8d8 69.4%,#d5d5d5 71.2%,#ccc 74.2%,#c1c1c1 76.6%,#b6b6b6 78.2%,#b3b3b3 79%,#b4b4b4 79.8%,#bbb 81.5%,#bababa 82.3%,#b3b3b3 83.1%,#ababab 83.6%,#808080 85.2%,#7b7b7b 85.5%,#747474 86%,#6d6d6d 87.1%,#646464 89.5%,#5c5c5c 91.1%,#5a5a5a 91.9%,#5c5c5c 92.7%,#656565 93.8%,#747474 95.2%,#767676 95.7%,#747474 96%,#6d6d6d 96.5%,#565656 97.6%,#191919)}
.q21{background:linear-gradient(#000,#040404 11.8%,#0a0a0a 19.6%,#1c1c1c 30.1%,#262626 34.1%,#313131 37.9%,#3f3f3f 41.7%,#5d5d5d 47.6%,#a5a5a5 59.7%,#d4d4d4 65.9%,#dfdfdf 68%,#e3e3e3 69.4%,#e0e0e0 71.2%,#d6d6d6 74.2%,#cacaca 76.6%,#bfbfbf 78.2%,#bcbcbc 79%,#bdbdbd 79.8%,#c5c5c5 81.5%,#c3c3c3 82.3%,#bcbcbc 83.1%,#b4b4b4 83.6%,#878787 85.2%,#818181 85.5%,#7a7a7a 86%,#727272 87.1%,#696969 89.5%,#5f5f5f 91.4%,#5e5e5e 92.2%,#606060 92.7%,#696969 93.8%,#797979 95.2%,#7b7b7b 95.7%,#797979 96%,#717171 96.5%,#595959 97.6%,#1a1a1a)}
.q22{background:linear-gradient(#000,#040404 11.6%,#0b0b0b 19.4%,#1d1d1d 29.8%,#272727 33.6%,#333 37.6%,#434343 41.7%,#626262 47.6%,#b0b0b0 59.9%,#cfcfcf 63.7%,#dfdfdf 65.9%,#eaeaea 68%,#eee 69.4%,#ebebeb 71.2%,#e0e0e0 74.2%,#d4d4d4 76.6%,#c8c8c8 78.2%,#c4c4c4 79%,#c5c5c5 79.8%,#cecece 81.5%,#ccc 82.3%,#c5c5c5 83.1%,#c2c2c2 83.3%,#bcbcbc 83.6%,#8d8d8d 85.2%,#878787 85.5%,#808080 86%,#777 87.1%,#6f6f6f 89.2%,#626262 91.4%,#616161 92.2%,#646464 92.7%,#6d6d6d 93.8%,#7d7d7d 95.2%,#7f7f7f 95.7%,#7d7d7d 96%,#757575 96.5%,#5c5c5c 97.6%,#1b1b1b)}
.q23{background:linear-gradient(#000,#040404 11.6%,#0b0b0b 19.4%,#1f1f1f 29.8%,#292929 33.6%,#353535 37.4%,#464646 41.4%,#656565 47%,#b9b9b9 59.9%,#d8d8d8 63.7%,#e8e8e8 65.9%,#f3f3f3 68%,#f7f7f7 69.4%,#f4f4f4 71.2%,#e9e9e9 74.2%,#dcdcdc 76.6%,#cfcfcf 78.2%,#cbcbcb 79%,#cdcdcd 79.8%,#d6d6d6 81.5%,#d4d4d4 82.3%,#cdcdcd 83.1%,#c9c9c9 83.3%,#c4c4c4 83.6%,#929292 85.2%,#8c8c8c 85.5%,#848484 86%,#7c7c7c 87.1%,#737373 89.2%,#656565 91.4%,#646464 92.2%,#666 92.7%,#707070 93.8%,#808080 95.2%,#828282 95.7%,#808080 96%,#787878 96.5%,#5e5e5e 97.6%,#1b1b1b)}
.q24{background:linear-gradient(#000,#050505 11.6%,#0c0c0c 19.4%,#202020 29.8%,#2a2a2a 33.6%,#373737 37.4%,#484848 41.4%,#686868 47%,#bebebe 59.9%,#dbdbdb 63.4%,#ebebeb 65.6%,#f8f8f8 68%,#fcfcfc 69.4%,#f9f9f9 71.2%,#ededed 74.2%,#e0e0e0 76.6%,#d3d3d3 78.2%,#cfcfcf 79%,#d1d1d1 79.8%,#dadada 81.5%,#d9d9d9 82.3%,#d1d1d1 83.1%,#cecece 83.3%,#c8c8c8 83.6%,#959595 85.2%,#8f8f8f 85.5%,#878787 86%,#7f7f7f 87.1%,#757575 89.2%,#676767 91.4%,#666 92.2%,#686868 92.7%,#727272 93.8%,#828282 95.2%,#848484 95.7%,#828282 96%,#797979 96.5%,#606060 97.6%,#1c1c1c)}
.q25{background:linear-gradient(#000,#050505 11.6%,#0c0c0c 19.4%,#202020 29.6%,#2a2a2a 33.3%,#373737 37.1%,#484848 41.1%,#686868 46.8%,#c3c3c3 60.2%,#dedede 63.4%,#eee 65.6%,#fbfbfb 68%,#fff 69.4%,#fbfbfb 71.2%,#f0f0f0 74.2%,#e2e2e2 76.6%,#d5d5d5 78.2%,#d2d2d2 79%,#d3d3d3 79.8%,#dcdcdc 81.5%,#dbdbdb 82.3%,#d3d3d3 83.1%,#d0d0d0 83.3%,#cacaca 83.6%,#979797 85.2%,#919191 85.5%,#898989 86%,#808080 87.1%,#767676 89.2%,#686868 91.4%,#676767 92.2%,#696969 92.7%,#737373 93.8%,#838383 95.2%,#858585 95.7%,#838383 96%,#7a7a7a 96.5%,#616161 97.6%,#1c1c1c)}
.q26{background:linear-gradient(#000,#050505 11.6%,#0c0c0c 19.4%,#202020 29.6%,#2a2a2a 33.3%,#363636 37.1%,#474747 41.1%,#676767 46.8%,#c1c1c1 60.2%,#dcdcdc 63.4%,#ededed 65.6%,#fafafa 68%,#fdfdfd 69.4%,#fafafa 71.2%,#efefef 74.2%,#e1e1e1 76.6%,#d4d4d4 78.2%,#d1d1d1 79%,#d2d2d2 79.8%,#dbdbdb 81.5%,#dadada 82.3%,#d2d2d2 83.1%,#cfcfcf 83.3%,#c9c9c9 83.6%,#969696 85.2%,#909090 85.5%,#888 86%,#7f7f7f 87.1%,#767676 89.2%,#686868 91.4%,#666 92.2%,#696969 92.7%,#727272 93.8%,#838383 95.2%,#848484 95.7%,#838383 96%,#7a7a7a 96.5%,#606060 97.6%,#1c1c1c)}
.q27{background:linear-gradient(#000,#050505 11.6%,#0c0c0c 19.4%,#202020 29.8%,#2a2a2a 33.6%,#363636 37.4%,#474747 41.4%,#666 47%,#bbb 59.9%,#dadada 63.7%,#eaeaea 65.9%,#f5f5f5 68%,#f9f9f9 69.4%,#f6f6f6 71.2%,#ebebeb 74.2%,#ddd 76.6%,#d1d1d1 78.2%,#cdcdcd 79%,#cecece 79.8%,#d7d7d7 81.5%,#d6d6d6 82.3%,#cfcfcf 83.1%,#cbcbcb 83.3%,#c6c6c6 83.6%,#949494 85.2%,#8d8d8d 85.5%,#868686 86%,#7d7d7d 87.1%,#747474 89.2%,#666 91.4%,#656565 92.2%,#676767 92.7%,#717171 93.8%,#818181 95.2%,#838383 95.7%,#818181 96%,#787878 96.5%,#5f5f5f 97.6%,#1c1c1c)}
.q28{background:linear-gradient(#000,#040404 11.6%,#0b0b0b 19.4%,#1e1e1e 29.8%,#282828 33.6%,#343434 37.6%,#434343 41.4%,#636363 47.3%,#b4b4b4 59.9%,#d3d3d3 63.7%,#e3e3e3 65.9%,#eee 68%,#f2f2f2 69.4%,#efefef 71.2%,#e4e4e4 74.2%,#d7d7d7 76.6%,#cbcbcb 78.2%,#c7c7c7 79%,#c9c9c9 79.8%,#d1d1d1 81.5%,#d0d0d0 82.3%,#c8c8c8 83.1%,#c5c5c5 83.3%,#c0c0c0 83.6%,#8f8f8f 85.2%,#898989 85.5%,#828282 86%,#797979 87.1%,#707070 89.2%,#646464 91.4%,#636363 92.2%,#656565 92.7%,#6e6e6e 93.8%,#7f7f7f 95.2%,#808080 95.7%,#7f7f7f 96%,#767676 96.5%,#5d5d5d 97.6%,#1b1b1b)}
.q29{background:linear-gradient(#000,#040404 11.8%,#0b0b0b 19.6%,#1d1d1d 30.1%,#272727 34.1%,#323232 37.9%,#414141 41.7%,#5f5f5f 47.6%,#a9a9a9 59.7%,#d8d8d8 65.9%,#e3e3e3 68%,#e7e7e7 69.4%,#e4e4e4 71.2%,#dadada 74.2%,#cecece 76.6%,#c2c2c2 78.2%,#bfbfbf 79%,#c0c0c0 79.8%,#c8c8c8 81.5%,#c7c7c7 82.3%,#c0c0c0 83.1%,#bdbdbd 83.3%,#b7b7b7 83.6%,#898989 85.2%,#838383 85.5%,#7c7c7c 86%,#747474 87.1%,#6a6a6a 89.5%,#606060 91.4%,#5f5f5f 92.2%,#626262 92.7%,#6b6b6b 93.8%,#7b7b7b 95.2%,#7c7c7c 95.7%,#7b7b7b 96%,#737373 96.5%,#5a5a5a 97.6%,#1a1a1a)}
.q30{background:linear-gradient(#000,#040404 11.8%,#0a0a0a 19.6%,#1b1b1b 30.1%,#242424 34.1%,#303030 38.2%,#3e3e3e 41.9%,#5a5a5a 47.8%,#9f9f9f 59.7%,#a8a8a8 61%,#bebebe 63.7%,#cfcfcf 66.1%,#dadada 68.3%,#dcdcdc 69.4%,#dadada 71.2%,#d0d0d0 74.2%,#c5c5c5 76.6%,#bababa 78.2%,#b7b7b7 79%,#b8b8b8 79.8%,#bfbfbf 81.5%,#bebebe 82.3%,#b7b7b7 83.1%,#afafaf 83.6%,#838383 85.2%,#7d7d7d 85.5%,#767676 86%,#6f6f6f 87.1%,#666 89.5%,#5d5d5d 91.1%,#5b5b5b 91.9%,#5c5c5c 92.5%,#676767 93.8%,#767676 95.2%,#787878 95.7%,#767676 96%,#6e6e6e 96.5%,#575757 97.6%,#191919)}
.q31{background:linear-gradient(#000,#040404 11.8%,#090909 19.6%,#191919 30.4%,#222 34.7%,#2d2d2d 38.7%,#3b3b3b 42.7%,#575757 48.7%,#929292 59.4%,#c3c3c3 66.1%,#cecece 68.3%,#d0d0d0 69.4%,#cecece 71.2%,#c5c5c5 74.2%,#bbb 76.6%,#b0b0b0 78.2%,#adadad 79%,#aeaeae 79.8%,#b5b5b5 81.5%,#b3b3b3 82.3%,#adadad 83.1%,#a5a5a5 83.6%,#7c7c7c 85.2%,#767676 85.5%,#707070 86%,#676767 87.4%,#616161 89.5%,#595959 91.1%,#575757 91.9%,#5a5a5a 92.7%,#626262 93.8%,#717171 95.2%,#737373 95.7%,#727272 96%,#6a6a6a 96.5%,#545454 97.6%,#181818)}
.q32{background:linear-gradient(#000,#030303 12.1%,#080808 20.2%,#171717 31.2%,#202020 36%,#2a2a2a 40.1%,#343434 43%,#444 47.3%,#6d6d6d 55.6%,#7b7b7b 58.3%,#878787 60.2%,#a3a3a3 63.7%,#b5b5b5 66.1%,#bebebe 68%,#c2c2c2 69.4%,#c0c0c0 71.2%,#b8b8b8 74.2%,#aeaeae 76.6%,#a4a4a4 78.2%,#a1a1a1 79%,#a2a2a2 79.8%,#a8a8a8 81.5%,#a6a6a6 82.3%,#9f9f9f 83.1%,#989898 83.6%,#727272 85.2%,#6d6d6d 85.5%,#656565 86.3%,#5e5e5e 87.6%,#5a5a5a 89.5%,#535353 91.4%,#535353 92.2%,#555 92.7%,#5e5e5e 93.8%,#6c6c6c 95.2%,#6e6e6e 95.7%,#6d6d6d 96%,#656565 96.5%,#505050 97.6%,#171717)}
.q33{background:linear-gradient(#000,#030303 12.4%,#070707 20.4%,#131313 31.5%,#1c1c1c 36.6%,#242424 40.6%,#3b3b3b 47.8%,#666 57.8%,#777 60.8%,#a0a0a0 66.1%,#aaa 68.3%,#adadad 69.6%,#ababab 71.5%,#a3a3a3 74.5%,#9c9c9c 76.6%,#909090 79%,#909090 79.8%,#959595 81.5%,#939393 82.3%,#8d8d8d 83.1%,#878787 83.6%,#656565 85.2%,#616161 85.5%,#5a5a5a 86.3%,#545454 87.6%,#4d4d4d 91.4%,#4d4d4d 92.2%,#505050 92.7%,#585858 93.8%,#666 95.2%,#686868 95.7%,#646464 96.2%,#5b5b5b 96.8%,#464646 97.8%,#161616)}
.q34{background:linear-gradient(#000,#020202 12.4%,#060606 20.4%,#111 31.7%,#1f1f1f 40.9%,#323232 47.8%,#575757 58.1%,#676767 61%,#8c8c8c 66.4%,#959595 68.3%,#979797 69.6%,#969696 71.2%,#8f8f8f 74.5%,#898989 76.6%,#7e7e7e 79%,#7f7f7f 79.8%,#838383 81.5%,#818181 82.3%,#797979 83.3%,#767676 83.6%,#555 85.5%,#4d4d4d 86.6%,#494949 87.9%,#454545 91.4%,#464646 92.2%,#484848 92.7%,#505050 93.8%,#5e5e5e 95.2%,#606060 95.7%,#5e5e5e 96%,#585858 96.5%,#464646 97.6%,#141414)}
.q35{background:linear-gradient(#000,#020202 12.6%,#050505 20.7%,#0e0e0e 32.3%,#1b1b1b 41.4%,#2a2a2a 48.1%,#494949 57.8%,#565656 60.8%,#787878 66.4%,#808080 68.3%,#828282 69.6%,#818181 71.2%,#7c7c7c 74.5%,#777 76.6%,#6e6e6e 79%,#727272 81.2%,#717171 82%,#6d6d6d 82.8%,#676767 83.6%,#4a4a4a 85.5%,#444 86.6%,#404040 87.9%,#3d3d3d 91.4%,#3e3e3e 92.2%,#464646 93.5%,#545454 95.2%,#565656 95.7%,#535353 96.2%,#4c4c4c 96.8%,#3a3a3a 97.8%,#121212)}
.q36{background:linear-gradient(#000,#020202 13.2%,#050505 21.5%,#0c0c0c 33.3%,#171717 42.5%,#232323 48.9%,#3b3b3b 57.8%,#484848 60.8%,#686868 66.4%,#707070 68.3%,#727272 69.9%,#6c6c6c 74.7%,#686868 76.6%,#616161 79%,#646464 81.2%,#636363 82%,#606060 82.8%,#5a5a5a 83.6%,#414141 85.5%,#3b3b3b 86.6%,#383838 87.9%,#373737 92.2%,#3e3e3e 93.5%,#4b4b4b 95.2%,#4d4d4d 95.7%,#4c4c4c 96%,#474747 96.5%,#383838 97.6%,#101010)}
.q37{background:linear-gradient(#000,#020202 15.6%,#050505 25.3%,#0c0c0c 36%,#141414 43.5%,#202020 50.5%,#323232 58.3%,#3d3d3d 61.3%,#595959 66.7%,#5f5f5f 68.3%,#616161 69.9%,#5d5d5d 74.7%,#595959 76.6%,#535353 79%,#555 81.2%,#545454 82%,#4c4c4c 83.6%,#373737 85.5%,#323232 86.6%,#2f2f2f 87.9%,#303030 91.7%,#323232 92.5%,#393939 93.8%,#434343 95.2%,#454545 95.7%,#424242 96.2%,#3c3c3c 96.8%,#2e2e2e 97.8%,#0e0e0e)}
.q38{background:linear-gradient(#000,#020202 16.1%,#050505 26.3%,#0a0a0a 36.8%,#111 44.4%,#1c1c1c 51.3%,#2a2a2a 58.6%,#323232 61.3%,#4a4a4a 66.7%,#4f4f4f 68.3%,#515151 69.9%,#4d4d4d 75%,#464646 79%,#474747 82%,#404040 83.6%,#2f2f2f 85.5%,#2b2b2b 86.6%,#282828 87.9%,#2a2a2a 91.4%,#2c2c2c 92.5%,#323232 93.8%,#3c3c3c 95.2%,#3d3d3d 95.7%,#3b3b3b 96.2%,#363636 96.8%,#292929 97.8%,#0d0d0d)}
.q39{background:linear-gradient(#000,#010101 16.4%,#040404 26.9%,#090909 37.4%,#0f0f0f 44.9%,#171717 51.6%,#232323 58.6%,#2a2a2a 61.3%,#404040 67.2%,#434343 68.5%,#444 70.2%,#414141 75.3%,#3c3c3c 79%,#3c3c3c 82%,#373737 83.6%,#282828 85.5%,#222 87.9%,#242424 91.4%,#252525 92.5%,#2c2c2c 93.8%,#343434 95.2%,#363636 95.7%,#343434 96.2%,#303030 96.8%,#252525 97.8%,#0b0b0b)}
.q40{background:linear-gradient(#000,#030303 27.7%,#070707 38.2%,#0c0c0c 45.7%,#131313 51.9%,#1c1c1c 58.3%,#222 61%,#363636 67.2%,#393939 68.5%,#3a3a3a 70.2%,#383838 75.5%,#333 79%,#343434 82%,#2f2f2f 83.6%,#222 85.5%,#1d1d1d 87.9%,#202020 92.5%,#252525 93.8%,#2d2d2d 95.2%,#2e2e2e 95.7%,#2d2d2d 96.2%,#292929 96.8%,#0a0a0a)}
.q41{background:linear-gradient(#000,#030303 28.5%,#060606 39.2%,#0a0a0a 46.5%,#171717 58.6%,#1c1c1c 61.3%,#2e2e2e 67.2%,#313131 68.8%,#313131 70.4%,#2f2f2f 76.1%,#2c2c2c 79%,#2c2c2c 82%,#272727 83.6%,#1d1d1d 85.5%,#191919 87.9%,#1c1c1c 92.5%,#282828 95.7%,#232323 96.8%,#080808)}
.q42{background:linear-gradient(#000,#020202 29.3%,#080808 47.6%,#121212 58.6%,#171717 61.3%,#262626 67.2%,#292929 70.4%,#282828 76.3%,#252525 79%,#252525 82%,#212121 83.6%,#181818 85.5%,#151515 87.9%,#181818 92.5%,#232323 95.7%,#1f1f1f 96.8%,#070707)}
.q43{background:linear-gradient(#000,#020202 29.8%,#070707 48.1%,#0e0e0e 59.1%,#121212 61.6%,#202020 67.2%,#222 70.4%,#1e1e1e 81.7%,#1c1c1c 83.3%,#141414 85.5%,#111 87.9%,#151515 92.5%,#1e1e1e 95.7%,#1b1b1b 96.8%,#060606)}
.q44{background:linear-gradient(#000,#010101 29.8%,#050505 48.4%,#0b0b0b 59.1%,#1a1a1a 67.7%,#1c1c1c 70.7%,#191919 81.7%,#161616 83.3%,#101010 85.5%,#0e0e0e 87.9%,#121212 92.5%,#1a1a1a 95.7%,#171717 96.8%,#060606)}
.q45{background:linear-gradient(#000,#010101 29.6%,#040404 48.1%,#0a0a0a 59.7%,#151515 67.5%,#161616 70.7%,#141414 81.7%,#121212 83.3%,#0d0d0d 85.5%,#0b0b0b 88.2%,#0f0f0f 92.5%,#171717 95.7%,#141414 96.8%,#050505)}
.q46{background:linear-gradient(#000,#010101 29.3%,#040404 47.8%,#080808 59.4%,#111 67.7%,#121212 70.4%,#101010 81.7%,#0b0b0b 85.8%,#090909 88.4%,#0c0c0c 92.5%,#131313 95.7%,#111 96.8%,#040404)}
.q47{background:linear-gradient(#000,#010101 29%,#030303 47.6%,#070707 59.4%,#0e0e0e 67.7%,#0f0f0f 70.4%,#0e0e0e 81.7%,#090909 85.8%,#080808 88.4%,#0a0a0a 92.5%,#101010 95.7%,#0e0e0e 96.8%,#030303)}
.q48{background:linear-gradient(#000,#030303 46.8%,#060606 59.7%,#0c0c0c 67.7%,#0d0d0d 71%,#0c0c0c 81.7%,#070707 88.2%,#080808 92.5%,#0d0d0d 96%,#030303)}
.q49{background:linear-gradient(#000,#020202 46%,#050505 59.1%,#0b0b0b 71%,#0a0a0a 81.7%,#060606 88.2%,#070707 92.5%,#0b0b0b 96%,#020202)}
.q50{background:linear-gradient(#000,#020202 45.7%,#040404 58.6%,#090909 71%,#090909 82%,#050505 88.4%,#060606 92.5%,#090909 96%,#020202)}
.r0{background:linear-gradient(#000,#010101 38.2%,#050505 65.1%,#030303 69.9%,#040404 74.5%,#030303 78.8%,#070707 80.6%,#030303 81.5%,#020202 82%,#010101 89%,#030303 90.1%,#101010 91.4%,#0e0e0e 91.9%,#030303 93%,#010101 93.5%,#000)}
.r1{background:linear-gradient(#000,#010101 38.2%,#060606 65.1%,#040404 69.9%,#050505 74.5%,#030303 78.8%,#050505 79.6%,#090909 80.6%,#030303 81.5%,#020202 82%,#010101 89%,#030303 90.1%,#101010 91.4%,#0e0e0e 91.9%,#030303 93%,#010101 93.5%,#000)}
.r2{background:linear-gradient(#000,#010101 38.2%,#080808 65.1%,#060606 69.9%,#070707 71.5%,#060606 72.8%,#070707 74.5%,#050505 75.8%,#070707 77.4%,#050505 78.8%,#060606 79.6%,#0b0b0b 80.6%,#040404 81.5%,#030303 82%,#010101 89%,#030303 90.1%,#111 91.4%,#0e0e0e 91.9%,#030303 93%,#010101 93.5%,#000)}
.r3{background:linear-gradient(#000,#010101 38.2%,#080808 60.5%,#0b0b0b 65.1%,#080808 69.9%,#0a0a0a 71.5%,#080808 72.8%,#0a0a0a 74.5%,#070707 75.8%,#090909 77.4%,#060606 78.8%,#080808 79.6%,#0e0e0e 80.6%,#080808 81.2%,#040404 82%,#010101 89%,#040404 90.1%,#111 91.4%,#0f0f0f 91.9%,#030303 93%,#010101 93.5%,#000)}
.r4{background:linear-gradient(#000,#020202 38.2%,#090909 53.2%,#0b0b0b 60.5%,#0f0f0f 65.1%,#0a0a0a 69.9%,#0d0d0d 71.5%,#0a0a0a 72.8%,#0d0d0d 74.5%,#0a0a0a 75.8%,#0c0c0c 77.4%,#080808 78.8%,#0b0b0b 79.6%,#111 80.4%,#121212 80.6%,#0a0a0a 81.2%,#070707 81.5%,#040404 82.3%,#020202 89.5%,#060606 90.3%,#101010 91.1%,#121212 91.4%,#0f0f0f 91.9%,#030303 93%,#020202 93.5%,#020202 97%,#000)}
.r5{background:linear-gradient(#000,#010101 27.4%,#020202 38.2%,#050505 44.1%,#0c0c0c 53.2%,#0e0e0e 60.5%,#121212 63.2%,#131313 65.1%,#0d0d0d 69.9%,#111 71.5%,#0d0d0d 72.8%,#111 74.5%,#0d0d0d 75.8%,#0f0f0f 77.4%,#0a0a0a 78.8%,#0e0e0e 79.6%,#161616 80.4%,#171717 80.6%,#121212 80.9%,#0c0c0c 81.2%,#090909 81.5%,#060606 82.3%,#030303 89.5%,#070707 90.3%,#111 91.1%,#121212 91.4%,#101010 91.9%,#040404 93%,#020202 93.5%,#030303 97%,#010101)}
.r6{background:linear-gradient(#000,#010101 27.4%,#030303 38.2%,#060606 44.1%,#0f0f0f 53.2%,#111 60.5%,#171717 63.2%,#181818 65.1%,#171717 66.4%,#111 69.9%,#151515 71.5%,#101010 72.6%,#111 72.8%,#131313 73.4%,#161616 74.5%,#101010 75.8%,#131313 77.4%,#0d0d0d 78.8%,#111 79.6%,#1b1b1b 80.4%,#1c1c1c 80.6%,#161616 80.9%,#0f0f0f 81.2%,#0b0b0b 81.5%,#070707 82.3%,#030303 88.2%,#030303 89.5%,#070707 90.3%,#111 91.1%,#131313 91.4%,#111 91.9%,#040404 93%,#020202 93.5%,#040404 97%,#010101)}
.r7{background:linear-gradient(#000,#010101 27.4%,#040404 38.2%,#080808 44.1%,#131313 53.2%,#171717 60.5%,#1e1e1e 63.2%,#1f1f1f 65.1%,#1e1e1e 66.4%,#161616 69.9%,#1c1c1c 71.5%,#161616 72.6%,#161616 72.8%,#191919 73.4%,#1c1c1c 74.5%,#151515 75.8%,#191919 77.4%,#111 78.8%,#141414 79.3%,#212121 80.4%,#232323 80.6%,#1c1c1c 80.9%,#121212 81.2%,#0b0b0b 81.7%,#090909 82.3%,#040404 88.2%,#040404 89.5%,#080808 90.3%,#131313 91.1%,#151515 91.4%,#141414 91.7%,#121212 91.9%,#050505 93%,#030303 93.5%,#050505 97%,#010101)}
.r8{background:linear-gradient(#000,#010101 27.4%,#050505 38.2%,#0a0a0a 44.1%,#181818 53.2%,#1d1d1d 60.5%,#262626 63.2%,#282828 65.1%,#272727 66.4%,#1c1c1c 69.9%,#232323 71.2%,#232323 71.5%,#1c1c1c 72.6%,#1c1c1c 72.8%,#202020 73.4%,#242424 74.5%,#232323 74.7%,#1c1c1c 75.5%,#1b1b1b 75.8%,#202020 77.4%,#171717 78.5%,#161616 78.8%,#191919 79.3%,#292929 80.4%,#2a2a2a 80.6%,#222 80.9%,#161616 81.2%,#0e0e0e 81.7%,#0c0c0c 82.3%,#090909 85.5%,#050505 88.2%,#050505 89.5%,#0a0a0a 90.3%,#141414 91.1%,#161616 91.4%,#161616 91.7%,#131313 91.9%,#080808 92.7%,#060606 93%,#040404 93.5%,#060606 97%,#010101)}
.r9{background:linear-gradient(#000,#010101 27.4%,#060606 38.2%,#0c0c0c 44.1%,#1d1d1d 53.2%,#232323 60.2%,#2e2e2e 63.2%,#303030 65.1%,#2e2e2e 66.4%,#222 69.9%,#2a2a2a 71.2%,#2a2a2a 71.5%,#212121 72.6%,#212121 72.8%,#272727 73.4%,#2c2c2c 74.5%,#2b2b2b 74.7%,#212121 75.5%,#202020 75.8%,#272727 77.2%,#272727 77.4%,#1c1c1c 78.5%,#1b1b1b 78.8%,#1e1e1e 79.3%,#212121 79.6%,#303030 80.4%,#323232 80.6%,#282828 80.9%,#1a1a1a 81.2%,#141414 81.5%,#111 81.7%,#0e0e0e 82.3%,#0b0b0b 85.5%,#060606 88.2%,#060606 89.2%,#080808 90.1%,#151515 91.1%,#171717 91.4%,#171717 91.7%,#151515 91.9%,#090909 92.7%,#070707 93%,#050505 93.5%,#040404 94.4%,#070707 97%,#010101)}
.r10{background:linear-gradient(#000,#020202 27.4%,#070707 38.4%,#0e0e0e 44.1%,#222 53.2%,#292929 60.2%,#2a2a2a 60.8%,#373737 63.2%,#3a3a3a 65.1%,#373737 66.4%,#2a2a2a 69.4%,#292929 69.9%,#292929 70.2%,#333 71.2%,#333 71.5%,#282828 72.6%,#282828 72.8%,#2f2f2f 73.4%,#343434 74.5%,#333 74.7%,#282828 75.5%,#262626 75.8%,#2e2e2e 77.2%,#2e2e2e 77.4%,#212121 78.5%,#202020 78.8%,#242424 79.3%,#282828 79.6%,#383838 80.4%,#3a3a3a 80.6%,#2e2e2e 80.9%,#1e1e1e 81.2%,#181818 81.5%,#141414 81.7%,#111 82.3%,#0d0d0d 85.5%,#070707 88.2%,#070707 89.2%,#090909 90.1%,#171717 91.1%,#191919 91.4%,#191919 91.7%,#161616 91.9%,#0a0a0a 92.7%,#080808 93%,#050505 93.5%,#050505 94.4%,#090909 97%,#020202)}
.r11{background:linear-gradient(#000,#020202 27.4%,#080808 38.4%,#111 44.1%,#282828 53.2%,#2f2f2f 59.9%,#313131 60.8%,#404040 63.2%,#444 65.3%,#414141 66.4%,#313131 69.4%,#2f2f2f 69.9%,#303030 70.2%,#3b3b3b 71.2%,#3b3b3b 71.5%,#2e2e2e 72.6%,#2f2f2f 72.8%,#373737 73.4%,#3b3b3b 73.9%,#3d3d3d 74.5%,#3c3c3c 74.7%,#2f2f2f 75.5%,#2d2d2d 75.8%,#2e2e2e 76.1%,#363636 77.2%,#363636 77.4%,#343434 77.7%,#272727 78.5%,#262626 78.8%,#2a2a2a 79.3%,#2e2e2e 79.6%,#404040 80.4%,#424242 80.6%,#353535 80.9%,#222 81.2%,#1b1b1b 81.5%,#171717 81.7%,#141414 82.3%,#101010 85.5%,#090909 88.2%,#080808 89.2%,#0b0b0b 90.1%,#0d0d0d 90.3%,#191919 91.1%,#1b1b1b 91.4%,#1a1a1a 91.7%,#181818 91.9%,#0b0b0b 92.7%,#090909 93%,#060606 93.5%,#060606 94.4%,#0a0a0a 97%,#020202)}
.r12{background:linear-gradient(#000,#020202 27.4%,#050505 33.6%,#090909 38.4%,#131313 44.1%,#2c2c2c 53.2%,#343434 59.9%,#373737 60.8%,#484848 63.2%,#4c4c4c 65.3%,#494949 66.4%,#414141 68%,#373737 69.4%,#363636 69.9%,#373737 70.2%,#434343 71.2%,#434343 71.5%,#353535 72.6%,#353535 72.8%,#3e3e3e 73.4%,#434343 73.9%,#454545 74.5%,#444 74.7%,#353535 75.5%,#333 75.8%,#343434 76.1%,#3e3e3e 77.2%,#3e3e3e 77.4%,#3b3b3b 77.7%,#2c2c2c 78.5%,#2b2b2b 78.8%,#303030 79.3%,#353535 79.6%,#484848 80.4%,#4a4a4a 80.6%,#3b3b3b 80.9%,#262626 81.2%,#1f1f1f 81.5%,#1a1a1a 81.7%,#171717 82.3%,#121212 85.5%,#0a0a0a 88.2%,#0a0a0a 89.2%,#0c0c0c 90.1%,#0e0e0e 90.3%,#1a1a1a 91.1%,#1d1d1d 91.4%,#1c1c1c 91.7%,#191919 91.9%,#0d0d0d 92.7%,#0a0a0a 93%,#070707 93.5%,#070707 94.4%,#0c0c0c 97%,#020202)}
.r13{background:linear-gradient(#000,#030303 27.7%,#060606 34.1%,#0b0b0b 38.7%,#151515 44.1%,#313131 53.2%,#393939 59.7%,#3e3e3e 60.8%,#4c4c4c 62.1%,#555 63.2%,#585858 64.2%,#5a5a5a 65.3%,#565656 66.4%,#4c4c4c 68%,#414141 69.4%,#3f3f3f 69.9%,#404040 70.2%,#4f4f4f 71.2%,#4f4f4f 71.5%,#4c4c4c 71.8%,#414141 72.3%,#3e3e3e 72.6%,#3e3e3e 72.8%,#494949 73.4%,#4f4f4f 73.9%,#525252 74.5%,#505050 74.7%,#3e3e3e 75.5%,#3c3c3c 75.8%,#3d3d3d 76.1%,#494949 77.2%,#494949 77.4%,#454545 77.7%,#343434 78.5%,#333 78.8%,#343434 79%,#383838 79.3%,#525252 80.4%,#555 80.6%,#434343 80.9%,#2b2b2b 81.2%,#232323 81.5%,#1f1f1f 81.7%,#1c1c1c 82%,#151515 85.5%,#0c0c0c 88.2%,#0b0b0b 89%,#0e0e0e 90.1%,#101010 90.3%,#1d1d1d 91.1%,#1f1f1f 91.4%,#1f1f1f 91.7%,#1c1c1c 91.9%,#0e0e0e 92.7%,#080808 93.5%,#080808 94.4%,#0e0e0e 97%,#0d0d0d 97.6%,#050505 99.2%,#030303)}
.r14{background:linear-gradient(#000,#030303 27.7%,#070707 34.4%,#0d0d0d 39%,#181818 44.1%,#383838 53.2%,#424242 59.7%,#484848 60.8%,#5a5a5a 62.1%,#636363 63.2%,#686868 64.2%,#696969 65.3%,#656565 66.4%,#595959 68%,#4c4c4c 69.4%,#4a4a4a 69.9%,#4c4c4c 70.2%,#5a5a5a 71%,#5d5d5d 71.2%,#5d5d5d 71.5%,#595959 71.8%,#4d4d4d 72.3%,#494949 72.6%,#4a4a4a 72.8%,#565656 73.4%,#5d5d5d 73.9%,#606060 74.5%,#5e5e5e 74.7%,#4a4a4a 75.5%,#474747 75.8%,#484848 76.1%,#565656 77.2%,#565656 77.4%,#525252 77.7%,#3e3e3e 78.5%,#3c3c3c 78.8%,#3e3e3e 79%,#424242 79.3%,#5e5e5e 80.4%,#616161 80.6%,#4c4c4c 80.9%,#313131 81.2%,#292929 81.5%,#242424 81.7%,#212121 82%,#1b1b1b 84.9%,#161616 86.6%,#0f0f0f 87.9%,#0d0d0d 88.7%,#101010 90.1%,#131313 90.3%,#202020 91.1%,#222 91.4%,#222 91.7%,#1f1f1f 91.9%,#101010 92.7%,#0a0a0a 93.5%,#090909 94.4%,#101010 96.2%,#111 97%,#101010 97.6%,#060606 99.2%,#030303)}
.r15{background:linear-gradient(#000,#010101 18.3%,#040404 27.7%,#090909 34.9%,#101010 39.2%,#1d1d1d 44.1%,#404040 53.2%,#4b4b4b 59.7%,#4e4e4e 60.2%,#545454 60.8%,#676767 61.8%,#747474 62.9%,#7b7b7b 64%,#7e7e7e 65.3%,#787878 66.4%,#6a6a6a 68%,#5b5b5b 69.4%,#585858 69.9%,#5a5a5a 70.2%,#6b6b6b 71%,#6f6f6f 71.2%,#6f6f6f 71.5%,#6b6b6b 71.8%,#5c5c5c 72.3%,#575757 72.6%,#585858 72.8%,#666 73.4%,#6f6f6f 73.9%,#737373 74.5%,#717171 74.7%,#585858 75.5%,#555 75.8%,#565656 76.1%,#646464 76.9%,#676767 77.2%,#676767 77.4%,#626262 77.7%,#515151 78.2%,#4a4a4a 78.5%,#474747 78.8%,#494949 79%,#4f4f4f 79.3%,#6c6c6c 80.4%,#6f6f6f 80.6%,#575757 80.9%,#373737 81.2%,#2f2f2f 81.5%,#2a2a2a 81.7%,#282828 82%,#1f1f1f 85.2%,#101010 88.4%,#101010 89.5%,#121212 90.1%,#151515 90.3%,#232323 91.1%,#262626 91.4%,#252525 91.7%,#222 91.9%,#131313 92.7%,#0f0f0f 93%,#0c0c0c 93.5%,#0b0b0b 94.4%,#131313 96.2%,#141414 97%,#121212 97.6%,#070707 99.2%,#040404)}
.r16{background:linear-gradient(#000,#010101 18.3%,#040404 27.7%,#0a0a0a 34.4%,#121212 39%,#181818 41.4%,#212121 44.1%,#4c4c4c 53.2%,#585858 59.7%,#5c5c5c 60.2%,#626262 60.8%,#7a7a7a 62.1%,#878787 63.2%,#8d8d8d 64.2%,#8f8f8f 65.3%,#8d8d8d 65.9%,#898989 66.4%,#797979 68%,#686868 69.4%,#656565 69.9%,#676767 70.2%,#7a7a7a 71%,#7e7e7e 71.2%,#7f7f7f 71.5%,#7a7a7a 71.8%,#696969 72.3%,#636363 72.6%,#646464 72.8%,#757575 73.4%,#7e7e7e 73.9%,#838383 74.5%,#818181 74.7%,#646464 75.5%,#616161 75.8%,#636363 76.1%,#727272 76.9%,#757575 77.2%,#757575 77.4%,#707070 77.7%,#5c5c5c 78.2%,#545454 78.5%,#525252 78.8%,#545454 79%,#5a5a5a 79.3%,#727272 80.1%,#787878 80.4%,#7b7b7b 80.6%,#606060 80.9%,#3d3d3d 81.2%,#353535 81.5%,#303030 81.7%,#2d2d2d 82%,#292929 83.9%,#242424 85.2%,#1d1d1d 86.6%,#141414 87.9%,#121212 88.4%,#131313 89.5%,#151515 90.1%,#181818 90.3%,#262626 91.1%,#292929 91.4%,#292929 91.7%,#252525 91.9%,#151515 92.7%,#111 93%,#0e0e0e 93.5%,#0d0d0d 94.4%,#151515 96.2%,#171717 97%,#151515 97.6%,#080808 99.2%,#050505)}
.r17{background:linear-gradient(#000,#020202 18.3%,#050505 27.7%,#0c0c0c 34.4%,#141414 39%,#1b1b1b 41.4%,#262626 44.1%,#565656 53.2%,#646464 59.7%,#696969 60.2%,#707070 60.8%,#8d8d8d 62.1%,#9c9c9c 63.2%,#a3a3a3 64.2%,#a6a6a6 65.3%,#a4a4a4 65.9%,#9f9f9f 66.4%,#8c8c8c 68%,#787878 69.4%,#757575 69.9%,#777 70.2%,#7d7d7d 70.4%,#8d8d8d 71%,#929292 71.2%,#939393 71.5%,#8d8d8d 71.8%,#797979 72.3%,#737373 72.6%,#747474 72.8%,#878787 73.4%,#929292 73.9%,#969696 74.2%,#989898 74.5%,#959595 74.7%,#747474 75.5%,#707070 75.8%,#727272 76.1%,#848484 76.9%,#878787 77.2%,#878787 77.4%,#818181 77.7%,#6b6b6b 78.2%,#626262 78.5%,#5e5e5e 78.8%,#616161 79%,#676767 79.3%,#797979 79.8%,#878787 80.4%,#898989 80.6%,#6b6b6b 80.9%,#444 81.2%,#3b3b3b 81.5%,#343434 82%,#2f2f2f 83.9%,#292929 85.2%,#222 86.6%,#171717 87.9%,#151515 88.4%,#161616 89.5%,#181818 90.1%,#1b1b1b 90.3%,#2a2a2a 91.1%,#2d2d2d 91.4%,#2d2d2d 91.7%,#292929 91.9%,#171717 92.7%,#141414 93%,#101010 93.5%,#0f0f0f 94.4%,#191919 96.2%,#1b1b1b 97%,#181818 97.6%,#090909 99.2%,#050505)}
.r18{background:linear-gradient(#000,#020202 18.3%,#060606 27.7%,#0d0d0d 34.4%,#181818 39%,#202020 41.4%,#2c2c2c 44.1%,#646464 53.2%,#696969 54.6%,#757575 59.7%,#7a7a7a 60.2%,#828282 60.8%,#9c9c9c 61.8%,#a6a6a6 62.4%,#b2b2b2 63.2%,#bababa 64.2%,#bdbdbd 65.3%,#bababa 65.9%,#b5b5b5 66.4%,#9f9f9f 68%,#888 69.4%,#858585 69.9%,#878787 70.2%,#8e8e8e 70.4%,#a0a0a0 71%,#a6a6a6 71.2%,#a6a6a6 71.5%,#9f9f9f 71.8%,#898989 72.3%,#828282 72.6%,#838383 72.8%,#999 73.4%,#a5a5a5 73.9%,#aaa 74.2%,#acacac 74.5%,#a8a8a8 74.7%,#9d9d9d 75%,#8f8f8f 75.3%,#838383 75.5%,#7e7e7e 75.8%,#818181 76.1%,#949494 76.9%,#999 77.2%,#999 77.4%,#919191 77.7%,#787878 78.2%,#6e6e6e 78.5%,#6a6a6a 78.8%,#6d6d6d 79%,#747474 79.3%,#868686 79.8%,#8d8d8d 80.1%,#939393 80.4%,#969696 80.6%,#747474 80.9%,#494949 81.2%,#414141 81.5%,#3d3d3d 81.7%,#393939 82.3%,#343434 83.9%,#282828 86.3%,#181818 88.2%,#181818 89.2%,#1a1a1a 90.1%,#1d1d1d 90.3%,#2d2d2d 91.1%,#303030 91.4%,#303030 91.7%,#2c2c2c 91.9%,#191919 92.7%,#161616 93%,#111 93.5%,#101010 94.4%,#1b1b1b 96.2%,#1d1d1d 97%,#1b1b1b 97.6%,#0a0a0a 99.2%,#060606)}
.r19{background:linear-gradient(#000,#020202 18.3%,#060606 27.4%,#0d0d0d 33.6%,#181818 38.4%,#232323 41.4%,#313131 44.1%,#737373 53.2%,#787878 54.6%,#868686 59.7%,#8b8b8b 60.2%,#919191 60.8%,#a9a9a9 61.8%,#bfbfbf 63.2%,#c8c8c8 64.2%,#cbcbcb 65.3%,#c8c8c8 65.9%,#c2c2c2 66.4%,#ababab 68%,#929292 69.4%,#8e8e8e 69.9%,#919191 70.2%,#999 70.4%,#acacac 71%,#b2b2b2 71.2%,#b2b2b2 71.5%,#ababab 71.8%,#939393 72.3%,#8c8c8c 72.6%,#8d8d8d 72.8%,#a4a4a4 73.4%,#b1b1b1 73.9%,#b6b6b6 74.2%,#b8b8b8 74.5%,#b4b4b4 74.7%,#a8a8a8 75%,#999 75.3%,#8c8c8c 75.5%,#878787 75.8%,#8a8a8a 76.1%,#9e9e9e 76.9%,#a3a3a3 77.2%,#a3a3a3 77.4%,#9b9b9b 77.7%,#808080 78.2%,#757575 78.5%,#717171 78.8%,#747474 79%,#7b7b7b 79.3%,#8e8e8e 79.8%,#949494 80.1%,#9a9a9a 80.4%,#9c9c9c 80.6%,#787878 80.9%,#4c4c4c 81.2%,#444 81.5%,#3e3e3e 82%,#383838 83.9%,#2c2c2c 86%,#1a1a1a 88.2%,#191919 89.2%,#1b1b1b 90.1%,#1f1f1f 90.3%,#2f2f2f 91.1%,#323232 91.4%,#323232 91.7%,#2e2e2e 91.9%,#1b1b1b 92.7%,#171717 93%,#121212 93.5%,#111 94.4%,#1d1d1d 96.2%,#1f1f1f 97%,#1d1d1d 97.6%,#0b0b0b 99.2%,#060606)}
.r20{background:linear-gradient(#000,#020202 18.3%,#060606 27.4%,#0e0e0e 33.6%,#131313 36%,#1a1a1a 38.4%,#252525 41.4%,#343434 44.1%,#757575 52.2%,#7d7d7d 53.2%,#828282 54.6%,#8b8b8b 57.8%,#939393 59.9%,#9b9b9b 60.8%,#b3b3b3 61.8%,#cbcbcb 63.2%,#d3d3d3 64.2%,#d7d7d7 65.3%,#d4d4d4 65.9%,#cecece 66.4%,#b5b5b5 68%,#9b9b9b 69.4%,#979797 69.9%,#9a9a9a 70.2%,#a2a2a2 70.4%,#b6b6b6 71%,#bcbcbc 71.2%,#bdbdbd 71.5%,#b5b5b5 71.8%,#9c9c9c 72.3%,#949494 72.6%,#959595 72.8%,#adadad 73.4%,#bbb 73.9%,#c0c0c0 74.2%,#c2c2c2 74.5%,#bebebe 74.7%,#b1b1b1 75%,#a1a1a1 75.3%,#949494 75.5%,#8f8f8f 75.8%,#919191 76.1%,#a7a7a7 76.9%,#acacac 77.2%,#acacac 77.4%,#a4a4a4 77.7%,#878787 78.2%,#7c7c7c 78.5%,#777 78.8%,#7b7b7b 79%,#828282 79.3%,#949494 79.8%,#9b9b9b 80.1%,#9f9f9f 80.4%,#a1a1a1 80.6%,#7c7c7c 80.9%,#4e4e4e 81.2%,#474747 81.5%,#414141 82%,#3b3b3b 83.9%,#303030 85.8%,#2a2a2a 86.6%,#1b1b1b 88.2%,#1a1a1a 89.2%,#1d1d1d 90.1%,#202020 90.3%,#313131 91.1%,#343434 91.4%,#343434 91.7%,#303030 91.9%,#1c1c1c 92.7%,#181818 93%,#131313 93.5%,#121212 94.4%,#1e1e1e 96.2%,#212121 97%,#1e1e1e 97.6%,#0b0b0b 99.2%,#070707)}
.r21{background:linear-gradient(#000,#020202 18.3%,#070707 27.4%,#0f0f0f 33.6%,#141414 36%,#1c1c1c 38.4%,#282828 41.4%,#383838 44.1%,#505050 47%,#7b7b7b 51.9%,#858585 53.2%,#8b8b8b 54.6%,#939393 57.5%,#9d9d9d 59.9%,#a5a5a5 60.8%,#bdbdbd 61.8%,#d6d6d6 63.2%,#dfdfdf 64.2%,#e3e3e3 65.3%,#e0e0e0 65.9%,#d9d9d9 66.4%,#bfbfbf 68%,#a3a3a3 69.4%,#a0a0a0 69.6%,#9f9f9f 69.9%,#a2a2a2 70.2%,#ababab 70.4%,#c0c0c0 71%,#c6c6c6 71.2%,#c7c7c7 71.5%,#bfbfbf 71.8%,#a4a4a4 72.3%,#9c9c9c 72.6%,#9d9d9d 72.8%,#b7b7b7 73.4%,#c5c5c5 73.9%,#cacaca 74.2%,#cdcdcd 74.5%,#c8c8c8 74.7%,#bbb 75%,#aaa 75.3%,#9c9c9c 75.5%,#969696 75.8%,#999 76.1%,#b0b0b0 76.9%,#b5b5b5 77.2%,#b5b5b5 77.4%,#acacac 77.7%,#8e8e8e 78.2%,#828282 78.5%,#7e7e7e 78.8%,#818181 79%,#9b9b9b 79.8%,#a5a5a5 80.4%,#a6a6a6 80.6%,#808080 80.9%,#505050 81.2%,#494949 81.5%,#444 82%,#3e3e3e 83.9%,#343434 85.5%,#2d2d2d 86.6%,#212121 87.6%,#1c1c1c 88.2%,#1c1c1c 89.2%,#1e1e1e 90.1%,#212121 90.3%,#333 91.1%,#363636 91.4%,#363636 91.7%,#313131 91.9%,#1d1d1d 92.7%,#191919 93%,#141414 93.5%,#131313 94.4%,#202020 96.2%,#232323 97%,#202020 97.6%,#0c0c0c 99.2%,#070707)}
.r22{background:linear-gradient(#000,#030303 18.3%,#070707 27.4%,#0f0f0f 33.3%,#151515 36%,#1c1c1c 38.2%,#292929 41.1%,#3b3b3b 44.1%,#555 47%,#828282 51.9%,#8d8d8d 53.2%,#949494 54.6%,#9d9d9d 57.5%,#a7a7a7 59.9%,#afafaf 60.8%,#c7c7c7 61.8%,#e2e2e2 63.2%,#ebebeb 64.2%,#efefef 65.3%,#ececec 65.9%,#e5e5e5 66.4%,#cacaca 68%,#acacac 69.4%,#a9a9a9 69.6%,#a8a8a8 69.9%,#ababab 70.2%,#b4b4b4 70.4%,#cacaca 71%,#d1d1d1 71.2%,#d2d2d2 71.5%,#c9c9c9 71.8%,#adadad 72.3%,#a4a4a4 72.6%,#a6a6a6 72.8%,#c1c1c1 73.4%,#d0d0d0 73.9%,#d5d5d5 74.2%,#d8d8d8 74.5%,#d3d3d3 74.7%,#c5c5c5 75%,#b3b3b3 75.3%,#a5a5a5 75.5%,#9e9e9e 75.8%,#a1a1a1 76.1%,#a9a9a9 76.3%,#bababa 76.9%,#bfbfbf 77.2%,#bfbfbf 77.4%,#b6b6b6 77.7%,#969696 78.2%,#898989 78.5%,#848484 78.8%,#888 79%,#a2a2a2 79.8%,#ababab 80.4%,#acacac 80.6%,#848484 80.9%,#535353 81.2%,#4c4c4c 81.5%,#484848 82%,#414141 83.9%,#373737 85.5%,#2f2f2f 86.6%,#222 87.6%,#1e1e1e 88.2%,#1d1d1d 89.2%,#1f1f1f 90.1%,#232323 90.3%,#353535 91.1%,#383838 91.4%,#383838 91.7%,#333 91.9%,#1f1f1f 92.7%,#1a1a1a 93%,#151515 93.5%,#141414 94.4%,#222 96.2%,#242424 97%,#212121 97.6%,#0d0d0d 99.2%,#070707)}
.r23{background:linear-gradient(#000,#030303 18.3%,#070707 27.4%,#101010 33.3%,#161616 36%,#1e1e1e 38.2%,#2b2b2b 41.1%,#3e3e3e 44.1%,#595959 47%,#8a8a8a 51.9%,#969696 53.2%,#9d9d9d 54.6%,#acacac 59.1%,#b2b2b2 60.2%,#b8b8b8 60.8%,#bdbdbd 61%,#d0d0d0 61.8%,#ebebeb 63.2%,#f5f5f5 64.2%,#f8f8f8 64.8%,#f8f8f8 65.3%,#f5f5f5 65.9%,#eee 66.4%,#d1d1d1 68%,#b3b3b3 69.4%,#afafaf 69.6%,#aeaeae 69.9%,#b2b2b2 70.2%,#bbb 70.4%,#d2d2d2 71%,#d9d9d9 71.2%,#dadada 71.5%,#d1d1d1 71.8%,#b4b4b4 72.3%,#aaa 72.6%,#acacac 72.8%,#c8c8c8 73.4%,#d8d8d8 73.9%,#ddd 74.2%,#e0e0e0 74.5%,#dbdbdb 74.7%,#ccc 75%,#bababa 75.3%,#ababab 75.5%,#a4a4a4 75.8%,#a7a7a7 76.1%,#afafaf 76.3%,#c0c0c0 76.9%,#c6c6c6 77.2%,#c6c6c6 77.4%,#bcbcbc 77.7%,#9b9b9b 78.2%,#8e8e8e 78.5%,#898989 78.8%,#8d8d8d 79%,#a7a7a7 79.8%,#afafaf 80.4%,#b0b0b0 80.6%,#878787 80.9%,#545454 81.2%,#4e4e4e 81.5%,#4c4c4c 81.7%,#434343 83.9%,#3b3b3b 85.2%,#303030 86.6%,#242424 87.6%,#1f1f1f 88.2%,#1e1e1e 89.2%,#202020 90.1%,#242424 90.3%,#363636 91.1%,#393939 91.4%,#393939 91.7%,#343434 91.9%,#1f1f1f 92.7%,#1b1b1b 93%,#161616 93.5%,#141414 93.8%,#151515 94.4%,#232323 96.2%,#252525 97%,#222 97.6%,#0d0d0d 99.2%,#070707)}
.r24{background:linear-gradient(#000,#030303 18.3%,#080808 27.4%,#111 33.3%,#171717 36%,#1e1e1e 38.2%,#2c2c2c 41.1%,#3f3f3f 44.1%,#5c5c5c 47%,#8e8e8e 51.9%,#9a9a9a 53.2%,#a1a1a1 54.6%,#b1b1b1 59.1%,#b9b9b9 60.5%,#c1c1c1 61%,#d4d4d4 61.8%,#efefef 63.2%,#fafafa 64.2%,#fdfdfd 64.8%,#fdfdfd 65.3%,#fafafa 65.9%,#f3f3f3 66.4%,#d6d6d6 68%,#b7b7b7 69.4%,#b3b3b3 69.6%,#b1b1b1 69.9%,#b5b5b5 70.2%,#bfbfbf 70.4%,#d6d6d6 71%,#dedede 71.2%,#dedede 71.5%,#d5d5d5 71.8%,#b7b7b7 72.3%,#aeaeae 72.6%,#afafaf 72.8%,#ccc 73.4%,#dcdcdc 73.9%,#e2e2e2 74.2%,#e4e4e4 74.5%,#dfdfdf 74.7%,#d0d0d0 75%,#bebebe 75.3%,#aeaeae 75.5%,#a7a7a7 75.8%,#ababab 76.1%,#b2b2b2 76.3%,#c4c4c4 76.9%,#cacaca 77.2%,#cacaca 77.4%,#c0c0c0 77.7%,#9e9e9e 78.2%,#919191 78.5%,#8c8c8c 78.8%,#8f8f8f 79%,#aaa 79.8%,#b1b1b1 80.4%,#b2b2b2 80.6%,#888 80.9%,#555 81.2%,#4f4f4f 81.5%,#4d4d4d 81.7%,#464646 83.6%,#3c3c3c 85.2%,#313131 86.6%,#242424 87.6%,#1f1f1f 88.2%,#1f1f1f 89.2%,#212121 90.1%,#242424 90.3%,#373737 91.1%,#3a3a3a 91.4%,#3a3a3a 91.7%,#353535 91.9%,#202020 92.7%,#1b1b1b 93%,#161616 93.5%,#151515 93.8%,#151515 94.4%,#232323 96.2%,#262626 97%,#232323 97.6%,#0d0d0d 99.2%,#080808)}
.r25{background:linear-gradient(#000,#030303 18.3%,#080808 27.4%,#0b0b0b 30.1%,#111 33.3%,#171717 36%,#1e1e1e 38.2%,#2c2c2c 41.1%,#404040 44.1%,#5c5c5c 47%,#8f8f8f 51.9%,#9b9b9b 53.2%,#a2a2a2 54.6%,#b2b2b2 59.1%,#bababa 60.5%,#c2c2c2 61%,#d5d5d5 61.8%,#f0f0f0 63.2%,#fbfbfb 64.2%,#fefefe 64.8%,#fff 65.3%,#fbfbfb 65.9%,#f4f4f4 66.4%,#d7d7d7 68%,#b8b8b8 69.4%,#b4b4b4 69.6%,#b2b2b2 69.9%,#b6b6b6 70.2%,#c0c0c0 70.4%,#d7d7d7 71%,#dfdfdf 71.2%,#dfdfdf 71.5%,#d6d6d6 71.8%,#b8b8b8 72.3%,#aeaeae 72.6%,#b0b0b0 72.8%,#cdcdcd 73.4%,#ddd 73.9%,#e3e3e3 74.2%,#e5e5e5 74.5%,#e0e0e0 74.7%,#d1d1d1 75%,#bebebe 75.3%,#afafaf 75.5%,#a8a8a8 75.8%,#ababab 76.1%,#b3b3b3 76.3%,#c5c5c5 76.9%,#cbcbcb 77.2%,#cbcbcb 77.4%,#c1c1c1 77.7%,#9f9f9f 78.2%,#919191 78.5%,#8c8c8c 78.8%,#909090 79%,#aaa 79.8%,#b1b1b1 80.4%,#b2b2b2 80.6%,#888 80.9%,#555 81.2%,#4f4f4f 81.5%,#4d4d4d 81.7%,#464646 83.6%,#3c3c3c 85.2%,#323232 86.6%,#242424 87.6%,#202020 88.2%,#1f1f1f 89.2%,#212121 90.1%,#252525 90.3%,#373737 91.1%,#3a3a3a 91.4%,#3a3a3a 91.7%,#353535 91.9%,#202020 92.7%,#1b1b1b 93%,#161616 93.5%,#151515 93.8%,#151515 94.4%,#232323 96.2%,#262626 97%,#232323 97.6%,#0d0d0d 99.2%,#080808)}
.r26{background:linear-gradient(#000,#030303 18.3%,#070707 27.4%,#101010 33.3%,#171717 36%,#1e1e1e 38.2%,#2b2b2b 41.1%,#3f3f3f 44.1%,#5b5b5b 47%,#8c8c8c 51.9%,#989898 53.2%,#9f9f9f 54.6%,#afafaf 59.1%,#b7b7b7 60.5%,#bfbfbf 61%,#d2d2d2 61.8%,#ededed 63.2%,#f7f7f7 64.2%,#fafafa 64.8%,#fbfbfb 65.3%,#f8f8f8 65.9%,#f1f1f1 66.4%,#d4d4d4 68%,#b5b5b5 69.4%,#b1b1b1 69.6%,#b0b0b0 69.9%,#b4b4b4 70.2%,#bdbdbd 70.4%,#d4d4d4 71%,#dcdcdc 71.2%,#dcdcdc 71.5%,#d3d3d3 71.8%,#b6b6b6 72.3%,#acacac 72.6%,#aeaeae 72.8%,#cacaca 73.4%,#dadada 73.9%,#e0e0e0 74.2%,#e2e2e2 74.5%,#ddd 74.7%,#cecece 75%,#bcbcbc 75.3%,#acacac 75.5%,#a6a6a6 75.8%,#a9a9a9 76.1%,#b1b1b1 76.3%,#c3c3c3 76.9%,#c8c8c8 77.2%,#c8c8c8 77.4%,#bebebe 77.7%,#9d9d9d 78.2%,#909090 78.5%,#8a8a8a 78.8%,#8e8e8e 79%,#a8a8a8 79.8%,#afafaf 80.4%,#b0b0b0 80.6%,#878787 80.9%,#545454 81.2%,#4f4f4f 81.5%,#4c4c4c 81.7%,#454545 83.6%,#3b3b3b 85.2%,#313131 86.6%,#242424 87.6%,#1f1f1f 88.2%,#1e1e1e 89.2%,#212121 90.1%,#242424 90.3%,#363636 91.1%,#3a3a3a 91.4%,#393939 91.7%,#353535 91.9%,#202020 92.7%,#1b1b1b 93%,#161616 93.5%,#151515 93.8%,#151515 94.4%,#232323 96.2%,#262626 97%,#232323 97.6%,#0d0d0d 99.2%,#080808)}
.r27{background:linear-gradient(#000,#030303 18.3%,#070707 27.4%,#101010 33.3%,#161616 36%,#1d1d1d 38.2%,#2a2a2a 41.1%,#3d3d3d 44.1%,#575757 47%,#878787 51.9%,#929292 53.2%,#999 54.6%,#a8a8a8 59.1%,#aeaeae 60.2%,#b4b4b4 60.8%,#ccc 61.8%,#e7e7e7 63.2%,#f1f1f1 64.2%,#f4f4f4 64.8%,#f5f5f5 65.3%,#f2f2f2 65.9%,#ebebeb 66.4%,#cecece 68%,#b1b1b1 69.4%,#adadad 69.6%,#acacac 69.9%,#afafaf 70.2%,#b8b8b8 70.4%,#cfcfcf 71%,#d6d6d6 71.2%,#d7d7d7 71.5%,#cecece 71.8%,#b1b1b1 72.3%,#a8a8a8 72.6%,#a9a9a9 72.8%,#c5c5c5 73.4%,#d5d5d5 73.9%,#dadada 74.2%,#ddd 74.5%,#d8d8d8 74.7%,#c9c9c9 75%,#b7b7b7 75.3%,#a8a8a8 75.5%,#a2a2a2 75.8%,#a5a5a5 76.1%,#acacac 76.3%,#bebebe 76.9%,#c4c4c4 77.2%,#c3c3c3 77.4%,#bababa 77.7%,#999 78.2%,#8c8c8c 78.5%,#878787 78.8%,#8b8b8b 79%,#a5a5a5 79.8%,#adadad 80.4%,#aeaeae 80.6%,#858585 80.9%,#535353 81.2%,#4d4d4d 81.5%,#484848 82.3%,#424242 83.9%,#3a3a3a 85.2%,#303030 86.6%,#232323 87.6%,#1e1e1e 88.2%,#1e1e1e 89.2%,#202020 90.1%,#232323 90.3%,#363636 91.1%,#393939 91.4%,#383838 91.7%,#343434 91.9%,#1f1f1f 92.7%,#1b1b1b 93%,#151515 93.5%,#141414 94.4%,#222 96.2%,#252525 97%,#222 97.6%,#0d0d0d 99.2%,#070707)}
.r28{background:linear-gradient(#000,#020202 18.3%,#070707 27.4%,#101010 33.6%,#151515 36%,#1c1c1c 38.4%,#292929 41.4%,#393939 44.1%,#525252 47%,#7f7f7f 51.9%,#898989 53.2%,#8f8f8f 54.6%,#989898 57.5%,#a2a2a2 59.9%,#aaa 60.8%,#c2c2c2 61.8%,#dcdcdc 63.2%,#e5e5e5 64.2%,#e9e9e9 65.3%,#e6e6e6 65.9%,#dfdfdf 66.4%,#c4c4c4 68%,#a8a8a8 69.4%,#a4a4a4 69.6%,#a3a3a3 69.9%,#a6a6a6 70.2%,#afafaf 70.4%,#c5c5c5 71%,#ccc 71.2%,#ccc 71.5%,#c4c4c4 71.8%,#a9a9a9 72.3%,#a0a0a0 72.6%,#a1a1a1 72.8%,#bbb 73.4%,#cacaca 73.9%,#d0d0d0 74.2%,#d2d2d2 74.5%,#cdcdcd 74.7%,#c0c0c0 75%,#afafaf 75.3%,#a0a0a0 75.5%,#9a9a9a 75.8%,#9d9d9d 76.1%,#b5b5b5 76.9%,#bababa 77.2%,#bababa 77.4%,#b1b1b1 77.7%,#929292 78.2%,#868686 78.5%,#818181 78.8%,#848484 79%,#9e9e9e 79.8%,#a6a6a6 80.4%,#a8a8a8 80.6%,#818181 80.9%,#515151 81.2%,#4a4a4a 81.5%,#464646 82%,#3f3f3f 83.9%,#363636 85.5%,#2e2e2e 86.6%,#222 87.6%,#1d1d1d 88.2%,#1c1c1c 89.2%,#1f1f1f 90.1%,#222 90.3%,#343434 91.1%,#373737 91.4%,#373737 91.7%,#323232 91.9%,#1e1e1e 92.7%,#1a1a1a 93%,#151515 93.5%,#141414 94.4%,#212121 96.2%,#232323 97%,#202020 97.6%,#0c0c0c 99.2%,#070707)}
.r29{background:linear-gradient(#000,#020202 18.3%,#060606 27.4%,#0f0f0f 33.6%,#141414 36%,#1b1b1b 38.4%,#272727 41.4%,#363636 44.1%,#4e4e4e 47%,#777 51.9%,#818181 53.2%,#868686 54.6%,#8f8f8f 57.8%,#989898 59.9%,#a0a0a0 60.8%,#b8b8b8 61.8%,#d0d0d0 63.2%,#d9d9d9 64.2%,#ddd 65.3%,#dadada 65.9%,#d4d4d4 66.4%,#bababa 68%,#9f9f9f 69.4%,#9b9b9b 69.9%,#9e9e9e 70.2%,#a6a6a6 70.4%,#bbb 71%,#c1c1c1 71.2%,#c2c2c2 71.5%,#bababa 71.8%,#a0a0a0 72.3%,#989898 72.6%,#999 72.8%,#b2b2b2 73.4%,#c0c0c0 73.9%,#c5c5c5 74.2%,#c8c8c8 74.5%,#c3c3c3 74.7%,#b6b6b6 75%,#a6a6a6 75.3%,#989898 75.5%,#929292 75.8%,#959595 76.1%,#acacac 76.9%,#b1b1b1 77.2%,#b1b1b1 77.4%,#a8a8a8 77.7%,#8b8b8b 78.2%,#7f7f7f 78.5%,#7a7a7a 78.8%,#7e7e7e 79%,#979797 79.8%,#a1a1a1 80.4%,#a2a2a2 80.6%,#7d7d7d 80.9%,#4e4e4e 81.2%,#484848 81.5%,#424242 82%,#3c3c3c 83.9%,#333 85.5%,#2b2b2b 86.6%,#202020 87.6%,#1c1c1c 88.2%,#1b1b1b 89.2%,#1d1d1d 90.1%,#212121 90.3%,#323232 91.1%,#353535 91.4%,#353535 91.7%,#303030 91.9%,#1d1d1d 92.7%,#181818 93%,#141414 93.5%,#131313 94.4%,#1f1f1f 96.2%,#222 97%,#1f1f1f 97.6%,#0c0c0c 99.2%,#070707)}
.r30{background:linear-gradient(#000,#020202 18.3%,#060606 27.4%,#0e0e0e 33.6%,#131313 36%,#191919 38.4%,#242424 41.4%,#333 44.1%,#787878 53.2%,#7e7e7e 54.6%,#8a8a8a 59.1%,#8e8e8e 59.9%,#969696 60.8%,#adadad 61.8%,#c5c5c5 63.2%,#cdcdcd 64.2%,#d1d1d1 65.3%,#cecece 65.9%,#c8c8c8 66.4%,#b0b0b0 68%,#979797 69.4%,#929292 69.9%,#959595 70.2%,#9d9d9d 70.4%,#b1b1b1 71%,#b7b7b7 71.2%,#b7b7b7 71.5%,#b0b0b0 71.8%,#979797 72.3%,#8f8f8f 72.6%,#919191 72.8%,#a8a8a8 73.4%,#b6b6b6 73.9%,#bbb 74.2%,#bdbdbd 74.5%,#b9b9b9 74.7%,#acacac 75%,#9d9d9d 75.3%,#909090 75.5%,#8b8b8b 75.8%,#8d8d8d 76.1%,#a3a3a3 76.9%,#a8a8a8 77.2%,#a7a7a7 77.4%,#9f9f9f 77.7%,#848484 78.2%,#787878 78.5%,#747474 78.8%,#777 79%,#7e7e7e 79.3%,#909090 79.8%,#969696 80.1%,#9b9b9b 80.4%,#9d9d9d 80.6%,#797979 80.9%,#4c4c4c 81.2%,#454545 81.5%,#3f3f3f 82%,#393939 83.9%,#2f2f2f 85.8%,#292929 86.6%,#1a1a1a 88.2%,#1a1a1a 89.2%,#1c1c1c 90.1%,#1f1f1f 90.3%,#303030 91.1%,#333 91.4%,#333 91.7%,#2f2f2f 91.9%,#1b1b1b 92.7%,#171717 93%,#131313 93.5%,#121212 94.4%,#1e1e1e 96.2%,#202020 97%,#1d1d1d 97.6%,#0b0b0b 99.2%,#060606)}
.r31{background:linear-gradient(#000,#020202 18.3%,#060606 27.7%,#0e0e0e 34.1%,#181818 38.7%,#222 41.4%,#2f2f2f 44.1%,#6c6c6c 53.2%,#717171 54.6%,#7e7e7e 59.7%,#838383 60.2%,#8b8b8b 60.8%,#a3a3a3 61.8%,#b1b1b1 62.6%,#b9b9b9 63.2%,#c1c1c1 64.2%,#c4c4c4 65.3%,#c2c2c2 65.9%,#bcbcbc 66.4%,#a6a6a6 68%,#8e8e8e 69.4%,#8a8a8a 69.9%,#8d8d8d 70.2%,#949494 70.4%,#a6a6a6 71%,#acacac 71.2%,#adadad 71.5%,#a6a6a6 71.8%,#8f8f8f 72.3%,#878787 72.6%,#888 72.8%,#9f9f9f 73.4%,#acacac 73.9%,#b0b0b0 74.2%,#b2b2b2 74.5%,#aeaeae 74.7%,#a3a3a3 75%,#949494 75.3%,#888 75.5%,#838383 75.8%,#868686 76.1%,#9a9a9a 76.9%,#9e9e9e 77.2%,#9e9e9e 77.4%,#969696 77.7%,#7c7c7c 78.2%,#727272 78.5%,#6e6e6e 78.8%,#717171 79%,#787878 79.3%,#8a8a8a 79.8%,#909090 80.1%,#969696 80.4%,#989898 80.6%,#757575 80.9%,#4a4a4a 81.2%,#424242 81.5%,#3c3c3c 82%,#363636 83.9%,#2b2b2b 86%,#191919 88.2%,#181818 89.2%,#1b1b1b 90.1%,#1e1e1e 90.3%,#2e2e2e 91.1%,#313131 91.4%,#313131 91.7%,#2d2d2d 91.9%,#1a1a1a 92.7%,#161616 93%,#121212 93.5%,#111 94.4%,#1c1c1c 96.2%,#1e1e1e 97%,#1c1c1c 97.6%,#0b0b0b 99.2%,#060606)}
.r32{background:linear-gradient(#000,#020202 18.3%,#050505 27.7%,#0c0c0c 34.4%,#161616 39%,#1e1e1e 41.4%,#292929 44.1%,#5d5d5d 53.2%,#6c6c6c 59.7%,#717171 60.2%,#797979 60.8%,#979797 62.1%,#a8a8a8 63.2%,#afafaf 64.2%,#b2b2b2 65.3%,#afafaf 65.9%,#aaa 66.4%,#969696 68%,#808080 69.4%,#7d7d7d 69.9%,#808080 70.2%,#868686 70.4%,#979797 71%,#9d9d9d 71.2%,#9d9d9d 71.5%,#979797 71.8%,#828282 72.3%,#7b7b7b 72.6%,#7c7c7c 72.8%,#919191 73.4%,#9c9c9c 73.9%,#a0a0a0 74.2%,#a3a3a3 74.5%,#9f9f9f 74.7%,#949494 75%,#878787 75.3%,#7c7c7c 75.5%,#787878 75.8%,#7a7a7a 76.1%,#8d8d8d 76.9%,#919191 77.2%,#919191 77.4%,#8a8a8a 77.7%,#727272 78.2%,#686868 78.5%,#656565 78.8%,#686868 79%,#6e6e6e 79.3%,#808080 79.8%,#878787 80.1%,#8d8d8d 80.4%,#8f8f8f 80.6%,#6f6f6f 80.9%,#464646 81.2%,#3e3e3e 81.5%,#373737 82%,#323232 83.9%,#2c2c2c 85.2%,#242424 86.6%,#191919 87.9%,#161616 88.4%,#171717 89.5%,#191919 90.1%,#1c1c1c 90.3%,#2c2c2c 91.1%,#2f2f2f 91.4%,#2e2e2e 91.7%,#2b2b2b 91.9%,#191919 92.7%,#151515 93%,#101010 93.5%,#101010 94.4%,#1a1a1a 96.2%,#1c1c1c 97%,#1a1a1a 97.6%,#0a0a0a 99.2%,#060606)}
.r33{background:linear-gradient(#000,#020202 18.3%,#040404 27.7%,#0b0b0b 34.4%,#131313 39%,#191919 41.4%,#232323 44.1%,#515151 53.2%,#5e5e5e 59.7%,#626262 60.2%,#686868 60.8%,#838383 62.1%,#929292 63.2%,#989898 64.2%,#9a9a9a 65.3%,#989898 65.9%,#949494 66.4%,#828282 68%,#707070 69.4%,#6d6d6d 69.9%,#6f6f6f 70.2%,#838383 71%,#888 71.2%,#898989 71.5%,#838383 71.8%,#717171 72.3%,#6b6b6b 72.6%,#6c6c6c 72.8%,#7e7e7e 73.4%,#888 73.9%,#8e8e8e 74.5%,#8b8b8b 74.7%,#6c6c6c 75.5%,#686868 75.8%,#6a6a6a 76.1%,#7b7b7b 76.9%,#7e7e7e 77.2%,#7e7e7e 77.4%,#787878 77.7%,#646464 78.2%,#5b5b5b 78.5%,#585858 78.8%,#5a5a5a 79%,#606060 79.3%,#717171 79.8%,#7f7f7f 80.4%,#818181 80.6%,#656565 80.9%,#404040 81.2%,#383838 81.5%,#313131 82%,#2c2c2c 83.9%,#262626 85.2%,#202020 86.6%,#161616 87.9%,#141414 88.4%,#141414 89.5%,#161616 90.1%,#191919 90.3%,#282828 91.1%,#2b2b2b 91.4%,#2b2b2b 91.7%,#272727 91.9%,#161616 92.7%,#121212 93%,#0f0f0f 93.5%,#0e0e0e 94.4%,#171717 96.2%,#191919 97%,#171717 97.6%,#090909 99.2%,#050505)}
.r34{background:linear-gradient(#000,#010101 18.3%,#040404 27.7%,#090909 34.4%,#111 39%,#161616 41.4%,#1f1f1f 44.1%,#464646 53.2%,#515151 59.7%,#585858 60.5%,#727272 62.1%,#7f7f7f 63.2%,#848484 64.2%,#868686 65.3%,#848484 65.9%,#818181 66.4%,#717171 68%,#616161 69.4%,#5e5e5e 69.9%,#606060 70.2%,#727272 71%,#767676 71.2%,#777 71.5%,#727272 71.8%,#626262 72.3%,#5d5d5d 72.6%,#5e5e5e 72.8%,#6d6d6d 73.4%,#767676 73.9%,#7b7b7b 74.5%,#787878 74.7%,#5e5e5e 75.5%,#5a5a5a 75.8%,#5c5c5c 76.1%,#6a6a6a 76.9%,#6d6d6d 77.2%,#6d6d6d 77.4%,#686868 77.7%,#565656 78.2%,#4f4f4f 78.5%,#4c4c4c 78.8%,#4e4e4e 79%,#545454 79.3%,#717171 80.4%,#747474 80.6%,#5a5a5a 80.9%,#3a3a3a 81.2%,#313131 81.5%,#2d2d2d 81.7%,#2a2a2a 82%,#212121 85.2%,#1b1b1b 86.6%,#131313 87.9%,#111 88.4%,#111 89.5%,#131313 90.1%,#161616 90.3%,#252525 91.1%,#272727 91.4%,#272727 91.7%,#232323 91.9%,#141414 92.7%,#101010 93%,#0d0d0d 93.5%,#0c0c0c 94.4%,#141414 96.2%,#161616 97%,#141414 97.6%,#070707 99.2%,#040404)}
.r35{background:linear-gradient(#000,#010101 18.3%,#030303 27.7%,#080808 34.4%,#0e0e0e 39%,#1a1a1a 44.1%,#3c3c3c 53.2%,#464646 59.7%,#494949 60.2%,#4e4e4e 60.8%,#626262 62.1%,#6d6d6d 63.2%,#717171 64.2%,#737373 65.3%,#6e6e6e 66.4%,#616161 68%,#535353 69.4%,#515151 69.9%,#535353 70.2%,#626262 71%,#666 71.2%,#666 71.5%,#626262 71.8%,#545454 72.3%,#505050 72.6%,#515151 72.8%,#5e5e5e 73.4%,#666 73.9%,#6a6a6a 74.5%,#686868 74.7%,#515151 75.5%,#4e4e4e 75.8%,#505050 76.1%,#5f5f5f 77.2%,#5e5e5e 77.4%,#5a5a5a 77.7%,#444 78.5%,#424242 78.8%,#444 79%,#494949 79.3%,#656565 80.4%,#686868 80.6%,#525252 80.9%,#343434 81.2%,#2c2c2c 81.5%,#272727 81.7%,#252525 82%,#1d1d1d 85.2%,#0f0f0f 88.4%,#0f0f0f 89.5%,#111 90.1%,#141414 90.3%,#222 91.1%,#242424 91.4%,#242424 91.7%,#202020 91.9%,#121212 92.7%,#0b0b0b 93.5%,#0a0a0a 94.4%,#111 96.2%,#131313 97%,#111 97.6%,#070707 99.2%,#040404)}
.r36{background:linear-gradient(#000,#030303 27.7%,#070707 34.1%,#0c0c0c 38.7%,#171717 44.1%,#343434 53.2%,#3d3d3d 59.7%,#434343 60.8%,#535353 62.1%,#5c5c5c 63.2%,#606060 64.2%,#616161 65.3%,#5d5d5d 66.4%,#525252 68%,#464646 69.4%,#444 69.9%,#464646 70.2%,#555 71.2%,#565656 71.5%,#525252 71.8%,#474747 72.3%,#434343 72.6%,#444 72.8%,#4f4f4f 73.4%,#555 73.9%,#595959 74.5%,#575757 74.7%,#444 75.5%,#414141 75.8%,#434343 76.1%,#4f4f4f 77.2%,#4f4f4f 77.4%,#4b4b4b 77.7%,#393939 78.5%,#373737 78.8%,#393939 79%,#3d3d3d 79.3%,#585858 80.4%,#5a5a5a 80.6%,#474747 80.9%,#2e2e2e 81.2%,#262626 81.5%,#212121 81.7%,#1f1f1f 82%,#181818 85.2%,#141414 86.6%,#0d0d0d 87.9%,#0c0c0c 88.7%,#0f0f0f 90.1%,#111 90.3%,#1e1e1e 91.1%,#202020 91.4%,#202020 91.7%,#1d1d1d 91.9%,#0f0f0f 92.7%,#090909 93.5%,#090909 94.4%,#101010 97%,#0e0e0e 97.6%,#050505 99.2%,#030303)}
.r37{background:linear-gradient(#000,#020202 27.7%,#060606 34.1%,#0a0a0a 38.7%,#141414 44.1%,#2e2e2e 53.2%,#373737 59.9%,#3a3a3a 60.8%,#474747 62.1%,#4e4e4e 63.2%,#515151 64.2%,#535353 65.3%,#4f4f4f 66.4%,#464646 68%,#3c3c3c 69.4%,#3a3a3a 69.9%,#3b3b3b 70.2%,#494949 71.2%,#494949 71.5%,#393939 72.6%,#393939 72.8%,#434343 73.4%,#484848 73.9%,#4b4b4b 74.5%,#4a4a4a 74.7%,#393939 75.5%,#373737 75.8%,#383838 76.1%,#434343 77.2%,#434343 77.4%,#404040 77.7%,#303030 78.5%,#2e2e2e 78.8%,#303030 79%,#343434 79.3%,#393939 79.6%,#4d4d4d 80.4%,#4f4f4f 80.6%,#3f3f3f 80.9%,#282828 81.2%,#212121 81.5%,#1c1c1c 81.7%,#191919 82.3%,#131313 85.5%,#0b0b0b 88.2%,#0a0a0a 89.2%,#0d0d0d 90.1%,#0f0f0f 90.3%,#1b1b1b 91.1%,#1e1e1e 91.4%,#1d1d1d 91.7%,#1b1b1b 91.9%,#0d0d0d 92.7%,#080808 93.5%,#070707 94.4%,#0d0d0d 97%,#030303)}
.r38{background:linear-gradient(#000,#020202 27.4%,#050505 33.6%,#090909 38.4%,#121212 44.1%,#2a2a2a 53.2%,#313131 59.9%,#343434 60.8%,#444 63.2%,#484848 65.3%,#454545 66.4%,#343434 69.4%,#323232 69.9%,#333 70.2%,#3f3f3f 71.2%,#3f3f3f 71.5%,#313131 72.6%,#323232 72.8%,#3a3a3a 73.4%,#3f3f3f 73.9%,#414141 74.5%,#404040 74.7%,#323232 75.5%,#303030 75.8%,#313131 76.1%,#3a3a3a 77.2%,#3a3a3a 77.4%,#373737 77.7%,#292929 78.5%,#282828 78.8%,#2c2c2c 79.3%,#313131 79.6%,#444 80.4%,#474747 80.6%,#383838 80.9%,#242424 81.2%,#1d1d1d 81.5%,#191919 81.7%,#151515 82.3%,#111 85.5%,#090909 88.2%,#090909 89.2%,#0b0b0b 90.1%,#0e0e0e 90.3%,#191919 91.1%,#1c1c1c 91.4%,#1b1b1b 91.7%,#191919 91.9%,#0c0c0c 92.7%,#090909 93%,#070707 93.5%,#060606 94.4%,#0b0b0b 97%,#020202)}
.r39{background:linear-gradient(#000,#020202 27.4%,#080808 38.4%,#0f0f0f 44.1%,#252525 53.2%,#2c2c2c 59.9%,#2e2e2e 60.8%,#3b3b3b 63.2%,#3f3f3f 65.3%,#3c3c3c 66.4%,#2d2d2d 69.4%,#2c2c2c 69.9%,#2d2d2d 70.2%,#373737 71.2%,#373737 71.5%,#2b2b2b 72.6%,#2c2c2c 72.8%,#333 73.4%,#393939 74.5%,#383838 74.7%,#2b2b2b 75.5%,#2a2a2a 75.8%,#323232 77.2%,#323232 77.4%,#303030 77.7%,#242424 78.5%,#232323 78.8%,#272727 79.3%,#2b2b2b 79.6%,#3d3d3d 80.4%,#3f3f3f 80.6%,#323232 80.9%,#202020 81.2%,#1a1a1a 81.5%,#161616 81.7%,#131313 82.3%,#0f0f0f 85.5%,#080808 88.2%,#080808 89.2%,#0a0a0a 90.1%,#0d0d0d 90.3%,#181818 91.1%,#1a1a1a 91.4%,#1a1a1a 91.7%,#171717 91.9%,#0b0b0b 92.7%,#080808 93%,#060606 93.5%,#050505 94.4%,#0a0a0a 97%,#020202)}
.r40{background:linear-gradient(#000,#020202 27.4%,#060606 38.2%,#0d0d0d 44.1%,#1f1f1f 53.2%,#262626 60.2%,#323232 63.2%,#353535 65.1%,#333 66.4%,#262626 69.4%,#252525 69.9%,#262626 70.2%,#2e2e2e 71.2%,#2e2e2e 71.5%,#242424 72.6%,#252525 72.8%,#2b2b2b 73.4%,#303030 74.5%,#2f2f2f 74.7%,#242424 75.5%,#232323 75.8%,#2a2a2a 77.2%,#2a2a2a 77.4%,#1e1e1e 78.5%,#1d1d1d 78.8%,#212121 79.3%,#252525 79.6%,#353535 80.4%,#373737 80.6%,#2c2c2c 80.9%,#1c1c1c 81.2%,#161616 81.5%,#121212 81.7%,#101010 82.3%,#0c0c0c 85.5%,#070707 88.2%,#070707 89.2%,#090909 90.1%,#161616 91.1%,#181818 91.4%,#181818 91.7%,#151515 91.9%,#0a0a0a 92.7%,#070707 93%,#050505 93.5%,#040404 94.4%,#080808 97%,#020202)}
.r41{background:linear-gradient(#000,#010101 27.4%,#050505 38.2%,#0b0b0b 44.1%,#1b1b1b 53.2%,#202020 60.2%,#2a2a2a 63.2%,#2c2c2c 65.1%,#2a2a2a 66.4%,#1f1f1f 69.9%,#272727 71.2%,#272727 71.5%,#1e1e1e 72.6%,#1f1f1f 72.8%,#242424 73.4%,#282828 74.5%,#272727 74.7%,#1e1e1e 75.5%,#1d1d1d 75.8%,#232323 77.2%,#232323 77.4%,#191919 78.5%,#181818 78.8%,#1b1b1b 79.3%,#1f1f1f 79.6%,#2d2d2d 80.4%,#2f2f2f 80.6%,#262626 80.9%,#181818 81.2%,#131313 81.5%,#101010 81.7%,#0d0d0d 82.3%,#0a0a0a 85.5%,#060606 88.2%,#060606 89.2%,#080808 90.1%,#151515 91.1%,#171717 91.4%,#161616 91.7%,#141414 91.9%,#090909 92.7%,#060606 93%,#040404 93.5%,#040404 94.4%,#070707 97%,#010101)}
.r42{background:linear-gradient(#000,#010101 27.4%,#040404 38.2%,#090909 44.1%,#161616 53.2%,#1a1a1a 60.5%,#222 63.2%,#242424 65.1%,#232323 66.4%,#191919 69.9%,#202020 71.5%,#191919 72.6%,#191919 72.8%,#1d1d1d 73.4%,#202020 74.5%,#202020 74.7%,#191919 75.5%,#181818 75.8%,#1d1d1d 77.4%,#151515 78.5%,#141414 78.8%,#161616 79.3%,#191919 79.6%,#262626 80.4%,#272727 80.6%,#202020 80.9%,#151515 81.2%,#0d0d0d 81.7%,#0b0b0b 82.3%,#040404 88.2%,#050505 89.5%,#090909 90.3%,#131313 91.1%,#151515 91.4%,#151515 91.7%,#131313 91.9%,#080808 92.7%,#060606 93%,#030303 93.5%,#050505 97%,#010101)}
.r43{background:linear-gradient(#000,#010101 27.4%,#030303 38.2%,#070707 44.1%,#111 53.2%,#141414 60.5%,#1a1a1a 63.2%,#1b1b1b 65.1%,#1a1a1a 66.4%,#131313 69.9%,#181818 71.5%,#131313 72.6%,#131313 72.8%,#161616 73.4%,#191919 74.5%,#121212 75.8%,#161616 77.4%,#0f0f0f 78.8%,#131313 79.6%,#1e1e1e 80.4%,#202020 80.6%,#1a1a1a 80.9%,#111 81.2%,#0d0d0d 81.5%,#0a0a0a 81.7%,#080808 82.3%,#030303 88.2%,#040404 89.5%,#080808 90.3%,#121212 91.1%,#141414 91.4%,#141414 91.7%,#111 91.9%,#050505 93%,#030303 93.5%,#040404 97%,#010101)}
.r44{background:linear-gradient(#000,#010101 27.4%,#030303 38.2%,#050505 44.1%,#0d0d0d 53.2%,#101010 60.5%,#141414 63.2%,#151515 65.1%,#0f0f0f 69.9%,#131313 71.5%,#0f0f0f 72.8%,#131313 74.5%,#0e0e0e 75.8%,#111 77.4%,#0c0c0c 78.8%,#0f0f0f 79.6%,#191919 80.4%,#1a1a1a 80.6%,#151515 80.9%,#0e0e0e 81.2%,#0a0a0a 81.5%,#060606 82.3%,#030303 89.5%,#070707 90.3%,#111 91.1%,#131313 91.4%,#101010 91.9%,#040404 93%,#020202 93.5%,#030303 97%,#010101)}
.r45{background:linear-gradient(#000,#020202 38.2%,#040404 44.1%,#0a0a0a 53.2%,#0c0c0c 60.5%,#111 65.1%,#0c0c0c 69.9%,#0f0f0f 71.5%,#0c0c0c 72.8%,#0f0f0f 74.5%,#0b0b0b 75.8%,#0d0d0d 77.4%,#090909 78.8%,#0c0c0c 79.6%,#141414 80.4%,#151515 80.6%,#0b0b0b 81.2%,#080808 81.5%,#050505 82.3%,#020202 89.5%,#070707 90.3%,#101010 91.1%,#121212 91.4%,#101010 91.9%,#040404 93%,#020202 93.5%,#030303 97%,#010101)}
.r46{background:linear-gradient(#000,#020202 38.2%,#090909 60.5%,#0d0d0d 65.1%,#090909 69.9%,#0b0b0b 71.5%,#090909 72.8%,#0b0b0b 74.5%,#080808 75.8%,#0a0a0a 77.4%,#070707 78.8%,#090909 79.6%,#101010 80.4%,#111 80.6%,#090909 81.2%,#040404 82%,#020202 89%,#040404 90.1%,#111 91.4%,#0f0f0f 91.9%,#030303 93%,#010101 93.5%,#020202 97%,#000)}
.r47{background:linear-gradient(#000,#010101 38.2%,#070707 60.5%,#0a0a0a 65.1%,#070707 69.9%,#080808 71.5%,#070707 72.8%,#090909 74.5%,#060606 75.8%,#080808 77.4%,#050505 78.8%,#070707 79.6%,#0d0d0d 80.6%,#050505 81.5%,#030303 82%,#010101 89%,#040404 90.1%,#111 91.4%,#0e0e0e 91.9%,#030303 93%,#010101 93.5%,#000)}
.r48{background:linear-gradient(#000,#010101 38.2%,#070707 65.1%,#050505 69.9%,#060606 74.5%,#040404 78.8%,#050505 79.6%,#0b0b0b 80.6%,#040404 81.5%,#020202 82%,#010101 89%,#030303 90.1%,#101010 91.4%,#0e0e0e 91.9%,#030303 93%,#010101 93.5%,#000)}
.r49{background:linear-gradient(#000,#010101 38.2%,#050505 65.1%,#040404 69.9%,#050505 74.5%,#030303 78.8%,#040404 79.6%,#080808 80.6%,#030303 81.5%,#020202 82%,#010101 89%,#030303 90.1%,#101010 91.4%,#0e0e0e 91.9%,#030303 93%,#010101 93.5%,#000)}
.r50{background:linear-gradient(#000,#010101 38.2%,#050505 65.1%,#030303 78.8%,#070707 80.6%,#030303 81.5%,#020202 82%,#010101 89%,#030303 90.1%,#101010 91.4%,#0e0e0e 91.9%,#020202 93%,#010101 93.5%,#000)}
.s0{background:linear-gradient(#000,#010101 14%,#070707 39.5%,#040404 62.4%,#040404 82.5%,#010101 94.4%,#040404 95.4%,#0b0b0b 96.2%,#0e0e0e 96.8%,#0d0d0d 97%,#050505 97.8%,#010101 98.4%,#000)}
.s1{background:linear-gradient(#000,#010101 13.7%,#080808 39.8%,#050505 62.4%,#060606 82.5%,#010101 94.4%,#040404 95.4%,#0b0b0b 96.2%,#0d0d0d 96.8%,#020202 98.4%,#000)}
.s2{background:linear-gradient(#000,#010101 13.4%,#090909 31.7%,#0b0b0b 39.8%,#060606 62.4%,#080808 82.5%,#020202 94.6%,#040404 95.4%,#0d0d0d 96.5%,#0e0e0e 96.8%,#020202 98.4%,#000)}
.s3{background:linear-gradient(#000,#020202 13.2%,#0e0e0e 31.2%,#101010 40.1%,#0f0f0f 49.2%,#0a0a0a 62.4%,#0d0d0d 70.2%,#0d0d0d 82.8%,#0a0a0a 89%,#030303 94.6%,#050505 95.4%,#0e0e0e 96.5%,#0f0f0f 96.8%,#020202 98.4%,#000)}
.s4{background:linear-gradient(#000,#030303 13.4%,#111 30.9%,#121212 36%,#101010 48.4%,#0b0b0b 62.4%,#0e0e0e 70.4%,#0e0e0e 82.8%,#0a0a0a 89%,#040404 94.6%,#060606 95.4%,#0e0e0e 96.5%,#0f0f0f 96.8%,#020202 98.4%,#000)}
.s5{background:linear-gradient(#000,#010101 8.9%,#040404 14.2%,#090909 20.2%,#151515 30.4%,#161616 33.1%,#151515 37.9%,#0b0b0b 62.1%,#0d0d0d 72.8%,#0d0d0d 82.8%,#0a0a0a 89%,#030303 94.6%,#050505 95.4%,#0e0e0e 96.5%,#0f0f0f 96.8%,#020202 98.4%,#000)}
.s6{background:linear-gradient(#000,#020202 8.9%,#060606 14.2%,#0e0e0e 20.2%,#212121 31.5%,#242424 35.8%,#232323 37.9%,#1c1c1c 42.5%,#151515 49.5%,#0e0e0e 60.8%,#0e0e0e 64%,#121212 73.9%,#121212 82.5%,#0d0d0d 89%,#040404 94.6%,#060606 95.4%,#0f0f0f 96.5%,#0f0f0f 96.8%,#020202 98.4%,#000)}
.s7{background:linear-gradient(#000,#030303 8.9%,#080808 14%,#121212 19.9%,#2c2c2c 31.7%,#313131 35.8%,#333 38.7%,#2e2e2e 43.8%,#202020 50.5%,#161616 61%,#161616 64%,#1b1b1b 69.4%,#1d1d1d 74.5%,#1e1e1e 79.6%,#1c1c1c 83.1%,#141414 89%,#070707 94.6%,#080808 95.4%,#101010 96.5%,#101010 96.8%,#030303 98.4%,#010101)}
.s8{background:linear-gradient(#000,#040404 8.6%,#0a0a0a 13.7%,#161616 19.6%,#383838 31.7%,#3f3f3f 36%,#414141 39.5%,#3b3b3b 46.2%,#2b2b2b 54.6%,#212121 62.1%,#212121 64.2%,#262626 69.4%,#282828 74.2%,#292929 79.6%,#272727 82.8%,#1a1a1a 89%,#0e0e0e 92.5%,#090909 94.6%,#0a0a0a 95.4%,#111 96.5%,#121212 96.8%,#040404 98.4%,#010101)}
.s9{background:linear-gradient(#000,#040404 8.6%,#0c0c0c 13.7%,#1a1a1a 19.6%,#414141 31.7%,#484848 35.5%,#4a4a4a 38.7%,#474747 43.5%,#424242 47.3%,#2b2b2b 59.9%,#282828 62.4%,#282828 64.5%,#2e2e2e 69.6%,#303030 74.5%,#313131 79.6%,#2f2f2f 82.5%,#1d1d1d 89%,#111 92.2%,#0a0a0a 94.4%,#0a0a0a 95.4%,#121212 96.5%,#121212 96.8%,#040404 98.4%,#010101)}
.s10{background:linear-gradient(#000,#050505 8.6%,#0d0d0d 14%,#1d1d1d 19.9%,#474747 32.3%,#515151 36.6%,#545454 39.8%,#4f4f4f 44.9%,#313131 59.1%,#2c2c2c 62.1%,#2c2c2c 64.5%,#323232 69.6%,#343434 73.9%,#363636 79%,#343434 81.5%,#303030 83.6%,#1d1d1d 89.2%,#111 92.2%,#0a0a0a 94.4%,#0a0a0a 95.4%,#111 96.5%,#121212 96.8%,#040404 98.4%,#010101)}
.s11{background:linear-gradient(#000,#060606 8.6%,#0e0e0e 13.7%,#202020 19.9%,#4f4f4f 32%,#595959 36.6%,#5c5c5c 40.3%,#5a5a5a 44.1%,#555 48.1%,#373737 59.9%,#323232 62.4%,#323232 64.5%,#393939 69.6%,#3b3b3b 73.4%,#3d3d3d 78.5%,#3b3b3b 80.9%,#363636 83.3%,#0b0b0b 93.8%,#090909 95.2%,#121212 96.5%,#121212 96.8%,#040404 98.4%,#010101)}
.s12{background:linear-gradient(#000,#070707 8.6%,#131313 14.2%,#292929 20.4%,#606060 32.3%,#6b6b6b 36%,#6e6e6e 38.7%,#6d6d6d 40.3%,#686868 43%,#5d5d5d 48.4%,#535353 52.4%,#3c3c3c 60.5%,#393939 62.4%,#383838 64.5%,#404040 69.6%,#424242 73.4%,#444 78.5%,#434343 80.6%,#3c3c3c 83.1%,#2a2a2a 86.8%,#0c0c0c 93.5%,#090909 95.2%,#121212 96.5%,#121212 96.8%,#040404 98.4%,#010101)}
.s13{background:linear-gradient(#000,#080808 8.6%,#0e0e0e 11.3%,#171717 14.5%,#232323 17.7%,#303030 20.7%,#636363 30.1%,#707070 32.8%,#7d7d7d 36.6%,#828282 39.8%,#7e7e7e 43.3%,#787878 46.2%,#717171 48.4%,#585858 54.6%,#444 60.5%,#404040 62.4%,#404040 64.8%,#474747 69.6%,#4a4a4a 73.7%,#4c4c4c 78.5%,#4a4a4a 80.6%,#424242 83.1%,#2b2b2b 87.1%,#0d0d0d 93.3%,#0a0a0a 94.4%,#090909 95.2%,#121212 96.5%,#121212 96.8%,#040404 98.4%,#010101)}
.s14{background:linear-gradient(#000,#0a0a0a 8.9%,#101010 11.6%,#1b1b1b 14.8%,#363636 20.7%,#727272 30.6%,#818181 33.3%,#8f8f8f 36.8%,#949494 39%,#959595 40.3%,#929292 44.1%,#888 48.1%,#7b7b7b 51.3%,#525252 60.5%,#4c4c4c 62.6%,#4b4b4b 64.8%,#505050 69.6%,#525252 73.9%,#535353 78.5%,#525252 80.4%,#484848 83.1%,#393939 85.2%,#2c2c2c 87.4%,#161616 91.4%,#0d0d0d 93.3%,#0a0a0a 94.4%,#090909 95.2%,#121212 96.5%,#121212 96.8%,#040404 98.4%,#010101)}
.s15{background:linear-gradient(#000,#0b0b0b 8.9%,#121212 11.6%,#1d1d1d 14.8%,#2b2b2b 17.7%,#3a3a3a 20.7%,#818181 31.7%,#969696 35.5%,#9e9e9e 37.1%,#a3a3a3 39%,#a6a6a6 41.4%,#a3a3a3 44.6%,#979797 48.9%,#8a8a8a 51.9%,#5d5d5d 60.8%,#555 62.9%,#535353 65.1%,#585858 69.9%,#595959 77.7%,#575757 80.4%,#4d4d4d 82.8%,#3b3b3b 85.2%,#2d2d2d 87.4%,#101010 92.7%,#0a0a0a 94.1%,#090909 94.9%,#0a0a0a 95.4%,#111 96.5%,#121212 96.8%,#040404 98.4%,#010101)}
.s16{background:linear-gradient(#000,#0b0b0b 8.6%,#131313 11.3%,#202020 14.8%,#303030 18%,#424242 21%,#8f8f8f 32%,#a9a9a9 36%,#afafaf 37.4%,#b7b7b7 39.5%,#b9b9b9 42.5%,#b8b8b8 44.1%,#b4b4b4 46.2%,#b0b0b0 48.1%,#a9a9a9 50%,#9c9c9c 52.7%,#696969 61%,#616161 63.2%,#5f5f5f 65.1%,#626262 69.9%,#636363 78%,#606060 80.4%,#555 82.8%,#404040 85.2%,#323232 87.1%,#121212 92.5%,#0c0c0c 93.8%,#090909 94.9%,#0a0a0a 95.4%,#121212 96.5%,#121212 96.8%,#040404 98.4%,#010101)}
.s17{background:linear-gradient(#000,#0c0c0c 8.6%,#131313 11.3%,#212121 14.8%,#323232 18%,#454545 21%,#989898 32.3%,#b3b3b3 36.3%,#c1c1c1 39.5%,#c5c5c5 42.7%,#c3c3c3 44.9%,#bebebe 47.6%,#b9b9b9 49.2%,#b1b1b1 51.1%,#949494 55.9%,#727272 61%,#6c6c6c 62.1%,#696969 63.2%,#666 65.3%,#696969 69.9%,#6a6a6a 78%,#696969 79.6%,#666 80.4%,#5a5a5a 82.8%,#434343 85.2%,#323232 87.4%,#1b1b1b 90.9%,#121212 92.5%,#0c0c0c 93.8%,#090909 94.9%,#0a0a0a 95.4%,#121212 96.5%,#121212 96.8%,#040404 98.4%,#010101)}
.s18{background:linear-gradient(#000,#0c0c0c 8.6%,#141414 11.3%,#222 14.8%,#343434 18%,#474747 21%,#9e9e9e 32.3%,#bcbcbc 36.6%,#cbcbcb 39.8%,#cfcfcf 43%,#cdcdcd 45.2%,#c8c8c8 47.8%,#bcbcbc 51.1%,#aeaeae 53.5%,#797979 61%,#737373 62.1%,#707070 63.2%,#6d6d6d 65.3%,#717171 69.9%,#727272 78%,#707070 80.1%,#616161 82.8%,#484848 85.2%,#373737 87.1%,#1c1c1c 90.9%,#141414 92.2%,#0c0c0c 93.8%,#090909 94.9%,#0a0a0a 95.4%,#121212 96.5%,#121212 96.8%,#040404 98.4%,#010101)}
.s19{background:linear-gradient(#000,#0d0d0d 8.9%,#181818 12.1%,#252525 15.1%,#393939 18.5%,#4b4b4b 21.2%,#a3a3a3 32.5%,#c0c0c0 36.6%,#cfcfcf 39.8%,#d3d3d3 43%,#d2d2d2 45.2%,#cdcdcd 47.8%,#c1c1c1 51.1%,#b2b2b2 53.5%,#7d7d7d 61%,#777 62.1%,#737373 63.2%,#717171 65.1%,#777 69.9%,#787878 77.7%,#767676 80.1%,#717171 81.2%,#666 82.8%,#4b4b4b 85.2%,#363636 87.4%,#1e1e1e 90.6%,#141414 92.2%,#0b0b0b 93.8%,#090909 94.9%,#0a0a0a 95.4%,#111 96.5%,#121212 96.8%,#040404 98.4%,#010101)}
.s20{background:linear-gradient(#000,#0e0e0e 8.9%,#1b1b1b 12.4%,#282828 15.1%,#3e3e3e 18.5%,#515151 21.2%,#b1b1b1 32.5%,#d1d1d1 36.6%,#dcdcdc 38.4%,#e2e2e2 39.8%,#e5e5e5 41.7%,#e7e7e7 43.3%,#e5e5e5 45.2%,#e0e0e0 47.8%,#dcdcdc 49.2%,#d3d3d3 51.1%,#c3c3c3 53.5%,#888 61%,#828282 62.1%,#7e7e7e 63.2%,#7c7c7c 65.1%,#828282 69.9%,#858585 77.7%,#848484 79%,#828282 80.1%,#7c7c7c 81.2%,#707070 82.8%,#676767 83.6%,#515151 85.2%,#3e3e3e 87.1%,#222 90.3%,#161616 91.9%,#0c0c0c 93.8%,#090909 94.9%,#0a0a0a 95.4%,#121212 96.5%,#121212 96.8%,#040404 98.4%,#010101)}
.s21{background:linear-gradient(#000,#0f0f0f 8.9%,#1c1c1c 12.4%,#292929 15.1%,#3f3f3f 18.5%,#535353 21.2%,#b7b7b7 32.8%,#d8d8d8 36.8%,#e3e3e3 38.7%,#e9e9e9 40.1%,#ededed 43.3%,#ececec 45.2%,#e7e7e7 47.8%,#e3e3e3 49.2%,#dadada 51.1%,#c9c9c9 53.5%,#8d8d8d 61%,#868686 62.1%,#828282 63.2%,#7f7f7f 65.1%,#858585 69.9%,#878787 77.7%,#878787 79%,#848484 80.1%,#7e7e7e 81.2%,#727272 82.8%,#696969 83.6%,#525252 85.2%,#3e3e3e 87.1%,#323232 88.4%,#181818 91.7%,#0d0d0d 93.5%,#090909 94.6%,#0a0a0a 95.4%,#121212 96.5%,#121212 96.8%,#040404 98.4%,#010101)}
.s22{background:linear-gradient(#000,#0f0f0f 8.9%,#1d1d1d 12.4%,#2a2a2a 15.1%,#414141 18.5%,#555 21.2%,#bfbfbf 33.1%,#dfdfdf 36.8%,#eaeaea 38.7%,#f0f0f0 40.1%,#f5f5f5 43.3%,#f4f4f4 45.2%,#efefef 47.8%,#ebebeb 49.2%,#e2e2e2 51.1%,#d1d1d1 53.5%,#929292 61%,#8a8a8a 62.1%,#868686 63.2%,#838383 64.2%,#838383 65.3%,#888 69.9%,#898989 78%,#868686 80.1%,#808080 81.2%,#737373 82.8%,#696969 83.6%,#535353 85.2%,#3e3e3e 87.1%,#323232 88.4%,#181818 91.7%,#0d0d0d 93.5%,#090909 94.6%,#0a0a0a 95.4%,#121212 96.5%,#121212 96.8%,#040404 98.4%,#010101)}
.s23{background:linear-gradient(#000,#101010 8.9%,#1e1e1e 12.4%,#2d2d2d 15.3%,#464646 18.8%,#595959 21.2%,#c8c8c8 33.1%,#e7e7e7 36.6%,#fafafa 39.5%,#fff 41.4%,#fff 46.5%,#fafafa 48.7%,#f0f0f0 50.8%,#eaeaea 51.9%,#ddd 53.5%,#979797 61.3%,#909090 62.4%,#8b8b8b 63.7%,#898989 65.3%,#8d8d8d 69.9%,#8e8e8e 78%,#8d8d8d 79.3%,#8a8a8a 80.1%,#848484 81.2%,#777 82.8%,#6d6d6d 83.6%,#565656 85.2%,#404040 87.1%,#333 88.4%,#191919 91.7%,#0d0d0d 93.5%,#0a0a0a 94.6%,#0a0a0a 95.4%,#121212 96.5%,#121212 96.8%,#040404 98.4%,#010101)}
.s24{background:linear-gradient(#000,#101010 8.9%,#1e1e1e 12.4%,#2e2e2e 15.3%,#474747 18.8%,#5d5d5d 21.5%,#e8e8e8 36.3%,#f9f9f9 38.7%,#fff 39.8%,#fff 40.1%,#fff 48.4%,#f8f8f8 50%,#f0f0f0 51.6%,#e5e5e5 53%,#c9c9c9 56.2%,#9a9a9a 61.3%,#929292 62.4%,#8d8d8d 63.7%,#8b8b8b 65.3%,#8f8f8f 69.9%,#8f8f8f 78%,#8e8e8e 79.3%,#8b8b8b 80.1%,#858585 81.2%,#787878 82.8%,#6e6e6e 83.6%,#565656 85.2%,#414141 87.1%,#343434 88.4%,#191919 91.7%,#0d0d0d 93.5%,#0a0a0a 94.6%,#0a0a0a 95.4%,#121212 96.5%,#121212 96.8%,#040404 98.4%,#010101)}
.s25{background:linear-gradient(#000,#0f0f0f 8.9%,#1c1c1c 12.4%,#292929 15.1%,#404040 18.5%,#545454 21.2%,#bcbcbc 33.1%,#dbdbdb 36.8%,#e7e7e7 38.7%,#ededed 40.1%,#f2f2f2 41.9%,#f3f3f3 43.5%,#f1f1f1 45.7%,#ededed 48.1%,#e8e8e8 49.7%,#e0e0e0 51.3%,#d5d5d5 53%,#bdbdbd 55.9%,#8f8f8f 61.3%,#888 62.4%,#848484 63.4%,#818181 65.3%,#858585 69.9%,#858585 78%,#818181 80.1%,#7b7b7b 81.2%,#6f6f6f 82.8%,#666 83.6%,#505050 85.2%,#3c3c3c 87.1%,#303030 88.4%,#171717 91.7%,#0c0c0c 93.5%,#090909 94.6%,#0a0a0a 95.4%,#111 96.5%,#111 96.8%,#040404 98.4%,#010101)}
.s26{background:linear-gradient(#000,#101010 8.9%,#1e1e1e 12.4%,#2e2e2e 15.3%,#464646 18.8%,#5c5c5c 21.5%,#e6e6e6 36.3%,#f9f9f9 39%,#fff 40.6%,#fff 47.6%,#fbfbfb 48.9%,#f5f5f5 50.3%,#ededed 51.6%,#e1e1e1 53.2%,#989898 61.3%,#919191 62.4%,#8c8c8c 63.7%,#8a8a8a 65.3%,#8e8e8e 69.9%,#8e8e8e 78%,#8d8d8d 79.3%,#8b8b8b 80.1%,#848484 81.2%,#777 82.8%,#6d6d6d 83.6%,#565656 85.2%,#414141 87.1%,#333 88.4%,#191919 91.7%,#0d0d0d 93.5%,#0a0a0a 94.6%,#0a0a0a 95.4%,#121212 96.5%,#121212 96.8%,#040404 98.4%,#010101)}
.s27{background:linear-gradient(#000,#0f0f0f 8.9%,#1c1c1c 12.4%,#292929 15.1%,#404040 18.5%,#545454 21.2%,#bdbdbd 33.1%,#dcdcdc 36.8%,#e8e8e8 38.7%,#eee 40.1%,#f2f2f2 41.9%,#f3f3f3 43.5%,#f1f1f1 45.7%,#ededed 48.1%,#e8e8e8 49.5%,#dfdfdf 51.3%,#d4d4d4 53%,#bcbcbc 55.9%,#8e8e8e 61.3%,#888 62.4%,#848484 63.4%,#828282 65.3%,#868686 69.9%,#878787 78%,#838383 80.1%,#7d7d7d 81.2%,#717171 82.8%,#676767 83.6%,#515151 85.2%,#3d3d3d 87.1%,#313131 88.4%,#171717 91.7%,#0d0d0d 93.5%,#090909 94.6%,#0a0a0a 95.4%,#111 96.5%,#111 96.8%,#040404 98.4%,#010101)}
.s28{background:linear-gradient(#000,#0f0f0f 8.9%,#1d1d1d 12.4%,#2a2a2a 15.1%,#414141 18.5%,#555 21.2%,#bdbdbd 32.8%,#dedede 36.8%,#eaeaea 38.7%,#f0f0f0 40.1%,#f4f4f4 43.3%,#f3f3f3 45.2%,#eee 47.8%,#eaeaea 49.2%,#e1e1e1 51.1%,#d0d0d0 53.5%,#919191 61%,#8a8a8a 62.1%,#868686 63.2%,#848484 64.2%,#838383 65.3%,#898989 69.9%,#8b8b8b 77.7%,#8b8b8b 79%,#888 80.1%,#828282 81.2%,#757575 82.8%,#6b6b6b 83.6%,#545454 85.2%,#3f3f3f 87.1%,#333 88.4%,#181818 91.7%,#0d0d0d 93.5%,#090909 94.6%,#0a0a0a 95.4%,#121212 96.5%,#121212 96.8%,#040404 98.4%,#010101)}
.s29{background:linear-gradient(#000,#0e0e0e 8.9%,#1b1b1b 12.4%,#282828 15.1%,#3d3d3d 18.5%,#515151 21.2%,#b3b3b3 32.8%,#d0d0d0 36.6%,#dbdbdb 38.4%,#e1e1e1 39.8%,#e5e5e5 41.7%,#e6e6e6 43.3%,#e5e5e5 45.2%,#e0e0e0 47.8%,#dcdcdc 49.2%,#d3d3d3 51.1%,#c3c3c3 53.5%,#898989 61%,#828282 62.1%,#7f7f7f 63.2%,#7d7d7d 65.1%,#838383 69.9%,#868686 77.7%,#868686 79%,#838383 80.1%,#7d7d7d 81.2%,#717171 82.8%,#686868 83.6%,#525252 85.2%,#3e3e3e 87.1%,#222 90.3%,#161616 91.9%,#0d0d0d 93.5%,#090909 94.6%,#0a0a0a 95.4%,#121212 96.5%,#121212 96.8%,#040404 98.4%,#010101)}
.s30{background:linear-gradient(#000,#0d0d0d 8.9%,#191919 12.1%,#262626 15.1%,#3b3b3b 18.5%,#4d4d4d 21.2%,#a8a8a8 32.5%,#c7c7c7 36.6%,#d1d1d1 38.4%,#d6d6d6 39.8%,#dadada 41.7%,#dbdbdb 43.3%,#d9d9d9 45.2%,#d4d4d4 47.8%,#c8c8c8 51.1%,#bababa 53.2%,#828282 61%,#7c7c7c 62.1%,#787878 63.2%,#777 65.1%,#7e7e7e 69.9%,#808080 73.9%,#818181 78.2%,#7e7e7e 80.1%,#797979 81.2%,#6d6d6d 82.8%,#646464 83.6%,#4f4f4f 85.2%,#3c3c3c 87.1%,#212121 90.3%,#161616 91.9%,#0c0c0c 93.8%,#090909 94.9%,#0a0a0a 95.4%,#111 96.5%,#121212 96.8%,#040404 98.4%,#010101)}
.s31{background:linear-gradient(#000,#0d0d0d 8.9%,#181818 12.1%,#252525 15.1%,#393939 18.5%,#4b4b4b 21.2%,#a3a3a3 32.3%,#c2c2c2 36.6%,#d1d1d1 39.8%,#d5d5d5 43%,#d4d4d4 45.2%,#cfcfcf 47.8%,#c3c3c3 51.1%,#b4b4b4 53.5%,#7e7e7e 61%,#787878 62.1%,#757575 63.2%,#737373 65.1%,#797979 69.9%,#7c7c7c 77.7%,#7c7c7c 79%,#797979 80.1%,#747474 81.2%,#696969 82.8%,#4d4d4d 85.2%,#383838 87.4%,#1f1f1f 90.6%,#141414 92.2%,#0c0c0c 93.8%,#090909 94.9%,#0a0a0a 95.4%,#121212 96.5%,#121212 96.8%,#040404 98.4%,#010101)}
.s32{background:linear-gradient(#000,#0c0c0c 8.6%,#131313 11.3%,#212121 14.8%,#323232 18%,#444 21%,#989898 32.3%,#b4b4b4 36.6%,#c2c2c2 39.8%,#c6c6c6 43%,#c4c4c4 45.2%,#bfbfbf 47.8%,#b3b3b3 51.1%,#a7a7a7 53.2%,#747474 61%,#6e6e6e 62.1%,#6b6b6b 63.2%,#696969 65.1%,#6e6e6e 69.9%,#6f6f6f 77.7%,#6d6d6d 80.1%,#5f5f5f 82.8%,#464646 85.2%,#343434 87.4%,#131313 92.2%,#0b0b0b 93.8%,#090909 94.9%,#0a0a0a 95.4%,#111 96.5%,#111 96.8%,#040404 98.4%,#010101)}
.s33{background:linear-gradient(#000,#0b0b0b 8.6%,#131313 11.3%,#202020 14.8%,#313131 18%,#434343 21%,#939393 32%,#afafaf 36.3%,#bdbdbd 39.5%,#c0c0c0 42.7%,#bebebe 44.9%,#b9b9b9 47.6%,#aeaeae 50.5%,#a1a1a1 53%,#6e6e6e 61%,#676767 62.9%,#646464 65.1%,#696969 69.9%,#6a6a6a 78%,#696969 79.6%,#676767 80.4%,#5b5b5b 82.8%,#444 85.2%,#333 87.4%,#1b1b1b 90.9%,#121212 92.5%,#0c0c0c 93.8%,#090909 94.9%,#0a0a0a 95.4%,#121212 96.5%,#121212 96.8%,#040404 98.4%,#010101)}
.s34{background:linear-gradient(#000,#0b0b0b 8.9%,#121212 11.6%,#1e1e1e 14.8%,#2d2d2d 18%,#3e3e3e 21%,#858585 31.7%,#9d9d9d 35.8%,#a4a4a4 37.4%,#aaa 39.2%,#acacac 41.9%,#a9a9a9 45.4%,#a3a3a3 47.8%,#9d9d9d 49.5%,#919191 52.2%,#616161 61%,#5a5a5a 62.9%,#595959 65.1%,#5e5e5e 69.9%,#5f5f5f 77.7%,#5f5f5f 79.3%,#5d5d5d 80.4%,#525252 82.8%,#3e3e3e 85.2%,#313131 87.1%,#111 92.5%,#0b0b0b 93.8%,#090909 94.9%,#0a0a0a 95.4%,#111 96.5%,#111 96.8%,#040404 98.4%,#010101)}
.s35{background:linear-gradient(#000,#0a0a0a 8.9%,#111 11.6%,#1c1c1c 14.8%,#2b2b2b 18%,#3a3a3a 21%,#797979 30.9%,#888 33.6%,#989898 37.1%,#9d9d9d 39%,#9e9e9e 40.3%,#9c9c9c 44.1%,#919191 48.1%,#838383 51.6%,#585858 60.8%,#525252 62.6%,#505050 64.8%,#565656 69.6%,#585858 73.9%,#5a5a5a 78.5%,#575757 80.4%,#4e4e4e 82.8%,#3c3c3c 85.2%,#2e2e2e 87.4%,#161616 91.4%,#0f0f0f 93%,#0a0a0a 94.4%,#090909 95.2%,#111 96.5%,#121212 96.8%,#040404 98.4%,#010101)}
.s36{background:linear-gradient(#000,#090909 8.6%,#0e0e0e 11%,#181818 14.5%,#252525 17.7%,#333 20.7%,#696969 30.4%,#777 33.1%,#858585 36.8%,#8a8a8a 40.1%,#878787 43.8%,#7d7d7d 47.6%,#4c4c4c 60.2%,#464646 62.4%,#464646 64.8%,#4d4d4d 69.6%,#505050 73.7%,#525252 78.2%,#505050 80.4%,#474747 83.1%,#383838 85.2%,#2b2b2b 87.4%,#161616 91.4%,#0d0d0d 93.3%,#0a0a0a 94.4%,#090909 95.2%,#111 96.5%,#121212 96.8%,#040404 98.4%,#010101)}
.s37{background:linear-gradient(#000,#080808 8.6%,#0c0c0c 11%,#151515 14.2%,#1e1e1e 16.9%,#2d2d2d 20.4%,#6a6a6a 32.5%,#767676 36.3%,#7a7a7a 39.5%,#787878 41.9%,#727272 44.6%,#525252 54.6%,#414141 60.2%,#3d3d3d 62.1%,#3d3d3d 64.5%,#474747 69.6%,#4a4a4a 73.1%,#4d4d4d 78.2%,#4c4c4c 80.4%,#434343 83.1%,#2a2a2a 87.4%,#151515 91.7%,#0d0d0d 93.5%,#090909 95.2%,#121212 96.5%,#121212 96.8%,#040404 98.4%,#010101)}
.s38{background:linear-gradient(#000,#060606 8.6%,#111 14%,#252525 20.2%,#595959 32%,#626262 35.8%,#646464 39%,#616161 43.8%,#5a5a5a 48.4%,#525252 51.9%,#3b3b3b 60.2%,#383838 62.4%,#383838 64.5%,#404040 69.6%,#424242 72.8%,#454545 78.2%,#444 80.4%,#3d3d3d 83.1%,#141414 91.7%,#0c0c0c 93.8%,#0a0a0a 95.2%,#121212 96.5%,#121212 96.8%,#040404 98.4%,#010101)}
.s39{background:linear-gradient(#000,#050505 8.6%,#0e0e0e 14%,#1e1e1e 19.9%,#4a4a4a 32.3%,#555 36.8%,#585858 40.3%,#575757 43.5%,#545454 46%,#363636 58.3%,#2f2f2f 62.1%,#303030 64.5%,#373737 69.6%,#3a3a3a 73.4%,#3c3c3c 78.5%,#3b3b3b 80.9%,#353535 83.3%,#0b0b0b 93.8%,#090909 95.2%,#121212 96.5%,#121212 96.8%,#040404 98.4%,#010101)}
.s40{background:linear-gradient(#000,#050505 8.6%,#0d0d0d 14%,#1c1c1c 19.9%,#464646 32.3%,#4e4e4e 36%,#505050 39%,#4d4d4d 43%,#464646 47.6%,#2e2e2e 59.9%,#2b2b2b 62.1%,#2b2b2b 64.5%,#323232 69.4%,#353535 73.4%,#373737 78.8%,#353535 81.2%,#313131 83.6%,#1e1e1e 89.2%,#111 92.2%,#0a0a0a 94.4%,#0a0a0a 95.4%,#121212 96.5%,#121212 96.8%,#040404 98.4%,#010101)}
.s41{background:linear-gradient(#000,#040404 8.6%,#0a0a0a 13.4%,#181818 19.6%,#3c3c3c 31.7%,#434343 35.8%,#454545 39.5%,#414141 45.7%,#292929 59.4%,#262626 62.4%,#262626 64.2%,#2c2c2c 69.4%,#2f2f2f 73.9%,#303030 79.3%,#2e2e2e 82.3%,#2c2c2c 83.6%,#1d1d1d 89%,#101010 92.2%,#0a0a0a 94.4%,#0a0a0a 95.4%,#121212 96.5%,#121212 96.8%,#040404 98.4%,#010101)}
.s42{background:linear-gradient(#000,#030303 8.6%,#090909 13.7%,#151515 19.6%,#353535 31.7%,#3b3b3b 36%,#3d3d3d 39.2%,#393939 45.2%,#353535 47.3%,#272727 53%,#1d1d1d 61.6%,#1e1e1e 64%,#242424 69.4%,#272727 73.9%,#292929 79.6%,#272727 82.8%,#1a1a1a 89%,#0e0e0e 92.5%,#090909 94.6%,#0a0a0a 95.4%,#111 96.5%,#121212 96.8%,#040404 98.4%,#010101)}
.s43{background:linear-gradient(#000,#030303 8.9%,#080808 14%,#111 19.9%,#2a2a2a 31.5%,#2e2e2e 34.9%,#303030 37.6%,#2e2e2e 40.1%,#232323 46.2%,#1e1e1e 50.3%,#151515 61%,#151515 64%,#1b1b1b 69.4%,#1d1d1d 73.9%,#1e1e1e 79.6%,#1d1d1d 82.8%,#141414 89%,#070707 94.6%,#080808 95.4%,#101010 96.5%,#101010 96.8%,#030303 98.4%,#010101)}
.s44{background:linear-gradient(#000,#020202 8.9%,#050505 14.2%,#0c0c0c 20.2%,#1c1c1c 30.6%,#1e1e1e 33.9%,#131313 48.9%,#0d0d0d 61.3%,#121212 73.7%,#121212 82.8%,#0c0c0c 89%,#040404 94.6%,#060606 95.4%,#0e0e0e 96.5%,#0f0f0f 96.8%,#020202 98.4%,#000)}
.s45{background:linear-gradient(#000,#030303 13.7%,#111 30.9%,#131313 35.2%,#0a0a0a 62.1%,#0d0d0d 72.8%,#0d0d0d 82.8%,#090909 89%,#030303 94.6%,#050505 95.4%,#0e0e0e 96.5%,#0e0e0e 96.8%,#020202 98.4%,#000)}
.s46{background:linear-gradient(#000,#020202 12.9%,#101010 31.2%,#121212 40.1%,#101010 49.5%,#0b0b0b 62.4%,#0e0e0e 70.4%,#0f0f0f 82.8%,#0b0b0b 89%,#040404 94.6%,#060606 95.4%,#0e0e0e 96.5%,#0f0f0f 96.8%,#020202 98.4%,#000)}
.s47{background:linear-gradient(#000,#020202 13.2%,#0e0e0e 31.5%,#101010 40.1%,#0f0f0f 49.2%,#0a0a0a 62.4%,#0d0d0d 70.4%,#0e0e0e 82.8%,#0a0a0a 89%,#040404 94.6%,#060606 95.4%,#0e0e0e 96.5%,#0f0f0f 96.8%,#0e0e0e 97%,#060606 97.8%,#020202 98.4%,#000)}
.s48{background:linear-gradient(#000,#010101 13.4%,#090909 31.7%,#0b0b0b 39.8%,#060606 62.4%,#080808 82.5%,#020202 94.6%,#040404 95.4%,#0d0d0d 96.5%,#0e0e0e 96.8%,#020202 98.4%,#000)}
.s49{background:linear-gradient(#000,#010101 13.7%,#080808 39.5%,#040404 62.4%,#060606 82.5%,#010101 94.4%,#040404 95.4%,#0b0b0b 96.2%,#0d0d0d 96.8%,#020202 98.4%,#000)}
.s50{background:linear-gradient(#000,#010101 14%,#070707 39.5%,#040404 62.4%,#050505 82.5%,#010101 94.4%,#040404 95.4%,#0b0b0b 96.2%,#0e0e0e 96.8%,#0d0d0d 97%,#050505 97.8%,#010101 98.4%,#000)}
.t0{background:linear-gradient(#000,#020202 15.3%,#090909 33.1%,#040404 57%,#050505 80.1%,#000)}
.t1{background:linear-gradient(#000,#030303 15.3%,#0d0d0d 34.9%,#080808 43.8%,#060606 53.2%,#050505 62.9%,#060606 79.8%,#000)}
.t2{background:linear-gradient(#000,#040404 15.3%,#111 31.7%,#131313 35.8%,#111 39.8%,#080808 48.7%,#070707 51.9%,#060606 62.4%,#090909 73.4%,#090909 79.8%,#000)}
.t3{background:linear-gradient(#000,#020202 8.6%,#050505 15.3%,#0b0b0b 21.8%,#171717 32%,#191919 36.3%,#141414 43.5%,#080808 53.8%,#080808 62.6%,#0d0d0d 73.4%,#0c0c0c 79.6%,#030303 93.8%,#000)}
.t4{background:linear-gradient(#000,#020202 8.6%,#060606 15.3%,#0d0d0d 21.8%,#1d1d1d 32.5%,#202020 37.1%,#1b1b1b 43.5%,#0e0e0e 54%,#0c0c0c 62.9%,#111 73.4%,#111 79.8%,#040404 93.8%,#010101)}
.t5{background:linear-gradient(#000,#030303 8.9%,#080808 15.6%,#101010 21.8%,#242424 33.3%,#282828 38.4%,#232323 44.1%,#171717 51.6%,#141414 54.3%,#111 63.2%,#171717 73.4%,#161616 79.8%,#050505 93.8%,#010101)}
.t6{background:linear-gradient(#000,#030303 8.9%,#090909 15.6%,#121212 21.8%,#2a2a2a 33.6%,#2e2e2e 36.6%,#2f2f2f 39.2%,#2b2b2b 44.9%,#1c1c1c 53.8%,#171717 61.6%,#171717 64.8%,#1d1d1d 73.7%,#1b1b1b 80.1%,#060606 93.8%,#010101)}
.t7{background:linear-gradient(#000,#040404 8.9%,#0a0a0a 15.6%,#151515 21.8%,#323232 34.7%,#353535 37.1%,#373737 39.8%,#333 45.2%,#232323 54.3%,#1c1c1c 62.1%,#1c1c1c 64.8%,#232323 73.7%,#212121 80.1%,#070707 93.8%,#010101)}
.t8{background:linear-gradient(#000,#040404 8.9%,#0c0c0c 15.9%,#181818 22%,#393939 35.5%,#3d3d3d 37.4%,#3f3f3f 40.1%,#3b3b3b 44.9%,#2a2a2a 54%,#222 62.4%,#222 65.1%,#292929 73.7%,#262626 79.8%,#212121 82.8%,#090909 93.8%,#010101)}
.t9{background:linear-gradient(#000,#040404 8.9%,#0d0d0d 15.6%,#1a1a1a 21.8%,#3e3e3e 34.7%,#434343 37.1%,#464646 40.3%,#454545 43.3%,#424242 46%,#313131 54.3%,#272727 62.4%,#282828 65.1%,#303030 73.7%,#2c2c2c 79.8%,#262626 82.8%,#0a0a0a 93.8%,#020202)}
.t10{background:linear-gradient(#000,#050505 8.9%,#0f0f0f 15.6%,#1e1e1e 21.8%,#494949 34.7%,#4f4f4f 37.1%,#505050 39.8%,#4b4b4b 45.4%,#454545 48.7%,#393939 54.3%,#2d2d2d 62.4%,#2d2d2d 65.1%,#343434 69.9%,#373737 73.7%,#333 79.8%,#2c2c2c 82.8%,#0b0b0b 93.8%,#020202)}
.t11{background:linear-gradient(#000,#060606 8.9%,#121212 15.9%,#232323 22%,#4c4c4c 32.5%,#565656 35.5%,#5b5b5b 37.4%,#5e5e5e 40.1%,#5a5a5a 44.6%,#535353 47.8%,#414141 54%,#333 62.4%,#343434 65.1%,#3b3b3b 69.9%,#3f3f3f 73.7%,#3a3a3a 79.8%,#323232 82.8%,#0d0d0d 93.8%,#070707 96.5%,#020202)}
.t12{background:linear-gradient(#000,#070707 8.9%,#141414 15.6%,#282828 21.8%,#595959 32.5%,#626262 34.9%,#686868 37.1%,#6c6c6c 40.1%,#6a6a6a 43.3%,#656565 46.2%,#5e5e5e 48.9%,#4c4c4c 54.6%,#3c3c3c 62.4%,#3c3c3c 65.1%,#434343 69.9%,#464646 73.7%,#414141 79.8%,#383838 82.8%,#0e0e0e 93.8%,#080808 96.5%,#020202)}
.t13{background:linear-gradient(#000,#080808 8.9%,#171717 15.9%,#252525 19.9%,#2f2f2f 22.3%,#737373 36%,#7b7b7b 38.7%,#7e7e7e 40.6%,#7c7c7c 43.3%,#787878 45.7%,#6f6f6f 48.4%,#595959 54.3%,#444 62.6%,#434343 65.1%,#4a4a4a 69.9%,#4d4d4d 73.7%,#464646 80.1%,#3c3c3c 82.8%,#101010 93.8%,#090909 96.5%,#030303)}
.t14{background:linear-gradient(#000,#080808 8.9%,#111 13.2%,#191919 15.9%,#272727 19.9%,#323232 22.3%,#7e7e7e 36.6%,#888 39.5%,#8a8a8a 42.2%,#888 44.9%,#818181 48.4%,#676767 54.8%,#515151 61.6%,#4d4d4d 62.9%,#4c4c4c 65.3%,#525252 69.9%,#545454 73.7%,#4c4c4c 80.1%,#424242 82.8%,#111 93.8%,#090909 96.5%,#030303)}
.t15{background:linear-gradient(#000,#090909 8.9%,#121212 13.2%,#1a1a1a 15.9%,#2a2a2a 19.9%,#353535 22.3%,#878787 36.8%,#919191 39.8%,#949494 42.7%,#919191 45.7%,#8a8a8a 48.9%,#6a6a6a 57%,#585858 61.8%,#555 63.2%,#535353 65.3%,#595959 69.9%,#5c5c5c 73.7%,#535353 79.8%,#474747 82.8%,#393939 85.5%,#121212 93.8%,#0a0a0a 96.5%,#030303)}
.t16{background:linear-gradient(#000,#090909 8.9%,#141414 13.2%,#1c1c1c 15.9%,#2d2d2d 19.9%,#3a3a3a 22.3%,#919191 36.6%,#9d9d9d 39.8%,#9f9f9f 42.5%,#9d9d9d 45.2%,#959595 48.7%,#727272 57%,#5f5f5f 61.8%,#5b5b5b 63.2%,#5a5a5a 65.3%,#616161 69.9%,#636363 73.7%,#5a5a5a 79.8%,#4d4d4d 82.8%,#3e3e3e 85.5%,#141414 93.8%,#0b0b0b 96.5%,#030303)}
.t17{background:linear-gradient(#000,#0a0a0a 8.9%,#151515 13.2%,#1e1e1e 15.9%,#303030 19.9%,#3f3f3f 22.6%,#676767 28.8%,#9e9e9e 36.8%,#aaa 39.8%,#adadad 42.7%,#aaa 45.4%,#a3a3a3 48.7%,#7c7c7c 57%,#676767 61.8%,#646464 63.2%,#636363 65.3%,#6a6a6a 69.9%,#6d6d6d 73.7%,#636363 79.8%,#555 82.8%,#444 85.5%,#161616 93.8%,#0c0c0c 96.5%,#040404)}
.t18{background:linear-gradient(#000,#0b0b0b 8.9%,#161616 13.2%,#202020 15.9%,#333 19.9%,#434343 22.6%,#6d6d6d 28.8%,#8f8f8f 33.3%,#a7a7a7 36.8%,#b4b4b4 39.8%,#b8b8b8 43%,#b5b5b5 46%,#adadad 49.2%,#717171 61.6%,#6c6c6c 63.2%,#6b6b6b 65.3%,#737373 69.9%,#777 73.7%,#6c6c6c 79.8%,#676767 80.9%,#5c5c5c 82.8%,#4a4a4a 85.5%,#181818 93.8%,#0d0d0d 96.5%,#040404)}
.t19{background:linear-gradient(#000,#0c0c0c 8.9%,#191919 13.2%,#232323 15.9%,#383838 19.9%,#484848 22.3%,#787878 28.8%,#aaa 34.9%,#b7b7b7 36.8%,#c4c4c4 39.8%,#c7c7c7 42.7%,#c4c4c4 45.4%,#bababa 48.9%,#b0b0b0 51.1%,#909090 57%,#787878 61.8%,#757575 62.9%,#737373 64%,#737373 65.3%,#7c7c7c 69.9%,#808080 73.7%,#7f7f7f 74.7%,#757575 79.8%,#707070 80.9%,#646464 82.8%,#505050 85.5%,#1a1a1a 93.8%,#0e0e0e 96.5%,#040404)}
.t20{background:linear-gradient(#000,#0d0d0d 8.9%,#1b1b1b 13.2%,#262626 15.9%,#3d3d3d 19.9%,#505050 22.6%,#858585 29%,#bebebe 35.5%,#cbcbcb 37.1%,#d6d6d6 39%,#dadada 40.1%,#dedede 43%,#dadada 46%,#d5d5d5 47.8%,#d0d0d0 49.2%,#c6c6c6 51.1%,#adadad 54.8%,#868686 61.6%,#808080 63.2%,#7e7e7e 65.3%,#868686 69.9%,#898989 73.7%,#878787 74.7%,#7a7a7a 80.1%,#6a6a6a 82.8%,#555 85.5%,#1b1b1b 93.8%,#0f0f0f 96.5%,#050505)}
.t21{background:linear-gradient(#000,#0d0d0d 8.9%,#1c1c1c 13.2%,#282828 15.9%,#404040 19.9%,#545454 22.6%,#8e8e8e 29.3%,#c8c8c8 35.5%,#d6d6d6 37.1%,#e2e2e2 39%,#e7e7e7 40.1%,#ebebeb 41.9%,#ececec 43.3%,#eaeaea 45.2%,#e5e5e5 47.6%,#ddd 49.7%,#d4d4d4 51.3%,#909090 61.6%,#888 63.4%,#868686 65.6%,#8c8c8c 69.9%,#8e8e8e 73.9%,#7f7f7f 80.1%,#6e6e6e 82.8%,#585858 85.5%,#1c1c1c 93.8%,#101010 96.5%,#050505)}
.t22{background:linear-gradient(#000,#0e0e0e 8.9%,#1e1e1e 13.4%,#2b2b2b 16.1%,#444 20.2%,#595959 22.8%,#959595 29.6%,#cfcfcf 35.5%,#ddd 37.1%,#eaeaea 39%,#efefef 40.1%,#f3f3f3 41.9%,#f5f5f5 43.3%,#f4f4f4 45.2%,#efefef 47.6%,#e7e7e7 49.7%,#dcdcdc 51.6%,#949494 61.8%,#8d8d8d 63.4%,#8b8b8b 65.6%,#919191 69.9%,#929292 73.9%,#828282 80.1%,#707070 82.8%,#5a5a5a 85.5%,#1d1d1d 93.8%,#101010 96.5%,#050505)}
.t23{background:linear-gradient(#000,#0e0e0e 8.9%,#1f1f1f 13.4%,#2c2c2c 16.1%,#454545 20.2%,#5a5a5a 22.8%,#959595 29.3%,#d5d5d5 35.8%,#e3e3e3 37.4%,#efefef 39%,#f4f4f4 40.1%,#f9f9f9 41.9%,#fbfbfb 43.5%,#f5f5f5 47.6%,#ececec 50%,#e0e0e0 51.9%,#989898 61.8%,#909090 63.4%,#8e8e8e 64.5%,#8e8e8e 65.6%,#939393 69.9%,#959595 73.9%,#848484 80.1%,#727272 82.8%,#5b5b5b 85.5%,#1d1d1d 93.8%,#101010 96.5%,#050505)}
.t24{background:linear-gradient(#000,#0e0e0e 8.9%,#1f1f1f 13.4%,#2c2c2c 16.1%,#464646 20.2%,#5b5b5b 22.8%,#999 29.6%,#d7d7d7 35.8%,#e6e6e6 37.4%,#f1f1f1 39%,#f7f7f7 40.1%,#fcfcfc 41.9%,#fdfdfd 43.5%,#fcfcfc 45.4%,#f7f7f7 47.8%,#ededed 50.3%,#e1e1e1 52.2%,#9a9a9a 61.8%,#929292 63.4%,#8f8f8f 64.5%,#8f8f8f 65.6%,#949494 69.9%,#969696 73.9%,#858585 80.1%,#727272 82.8%,#5c5c5c 85.5%,#323232 90.9%,#1d1d1d 93.8%,#101010 96.5%,#050505)}
.t25{background:linear-gradient(#000,#0e0e0e 8.9%,#1f1f1f 13.4%,#2c2c2c 16.1%,#464646 20.2%,#5c5c5c 22.8%,#9a9a9a 29.6%,#d9d9d9 35.8%,#e7e7e7 37.4%,#f2f2f2 39%,#f8f8f8 40.1%,#fdfdfd 41.9%,#fff 43.5%,#fdfdfd 45.4%,#f9f9f9 47.8%,#efefef 50.3%,#e3e3e3 52.2%,#9b9b9b 61.8%,#939393 63.4%,#909090 64.5%,#909090 65.6%,#959595 69.9%,#969696 73.9%,#858585 80.1%,#737373 82.8%,#5c5c5c 85.5%,#333 90.9%,#1d1d1d 93.8%,#101010 96.5%,#050505)}
.t26{background:linear-gradient(#000,#0e0e0e 8.9%,#1f1f1f 13.4%,#2c2c2c 16.1%,#464646 20.2%,#5c5c5c 22.8%,#9a9a9a 29.6%,#d8d8d8 35.8%,#e7e7e7 37.4%,#f2f2f2 39%,#f8f8f8 40.1%,#fdfdfd 41.9%,#fefefe 43.5%,#fdfdfd 45.4%,#f8f8f8 47.8%,#eee 50.3%,#e2e2e2 52.2%,#9a9a9a 61.8%,#929292 63.4%,#909090 64.5%,#909090 65.6%,#959595 69.9%,#969696 73.9%,#858585 80.1%,#727272 82.8%,#5c5c5c 85.5%,#333 90.9%,#1d1d1d 93.8%,#101010 96.5%,#050505)}
.t27{background:linear-gradient(#000,#0e0e0e 8.9%,#1f1f1f 13.4%,#2c2c2c 16.1%,#464646 20.2%,#5b5b5b 22.8%,#989898 29.6%,#d6d6d6 35.8%,#e5e5e5 37.4%,#f0f0f0 39%,#f6f6f6 40.1%,#fafafa 41.9%,#fcfcfc 43.5%,#f7f7f7 47.6%,#ededed 50%,#e2e2e2 51.9%,#999 61.8%,#919191 63.4%,#8f8f8f 64.5%,#8e8e8e 65.6%,#949494 69.9%,#959595 73.9%,#848484 80.1%,#727272 82.8%,#5b5b5b 85.5%,#323232 90.9%,#1d1d1d 93.8%,#101010 96.5%,#050505)}
.t28{background:linear-gradient(#000,#0e0e0e 8.9%,#1e1e1e 13.4%,#2b2b2b 16.1%,#454545 20.2%,#5a5a5a 22.8%,#949494 29.3%,#d4d4d4 35.8%,#e1e1e1 37.4%,#ececec 39%,#f2f2f2 40.1%,#f7f7f7 41.9%,#f8f8f8 43.3%,#f7f7f7 45.2%,#f2f2f2 47.6%,#e9e9e9 50%,#dedede 51.9%,#969696 61.8%,#8f8f8f 63.4%,#8d8d8d 64.5%,#8d8d8d 65.6%,#929292 69.9%,#949494 73.9%,#838383 80.1%,#717171 82.8%,#5b5b5b 85.5%,#1d1d1d 93.8%,#101010 96.5%,#050505)}
.t29{background:linear-gradient(#000,#0e0e0e 8.9%,#1e1e1e 13.4%,#2a2a2a 16.1%,#434343 20.2%,#585858 22.8%,#909090 29.3%,#ccc 35.5%,#dadada 37.1%,#e6e6e6 39%,#ebebeb 40.1%,#f0f0f0 41.9%,#f1f1f1 43.3%,#f0f0f0 45.2%,#ebebeb 47.6%,#e3e3e3 49.7%,#d8d8d8 51.6%,#929292 61.8%,#8b8b8b 63.4%,#898989 65.6%,#8f8f8f 69.9%,#919191 73.9%,#818181 80.1%,#6f6f6f 82.8%,#595959 85.5%,#1d1d1d 93.8%,#101010 96.5%,#050505)}
.t30{background:linear-gradient(#000,#0d0d0d 8.9%,#1c1c1c 13.2%,#272727 15.9%,#3f3f3f 19.9%,#525252 22.6%,#898989 29%,#c4c4c4 35.5%,#d1d1d1 37.1%,#dcdcdc 39%,#e1e1e1 40.1%,#e6e6e6 43.3%,#e1e1e1 46.8%,#ddd 48.1%,#d8d8d8 49.5%,#cdcdcd 51.3%,#b6b6b6 54.8%,#8c8c8c 61.6%,#858585 63.2%,#838383 64.2%,#828282 65.3%,#8a8a8a 69.9%,#8c8c8c 73.9%,#7d7d7d 80.1%,#6c6c6c 82.8%,#575757 85.5%,#1c1c1c 93.8%,#0f0f0f 96.5%,#050505)}
.t31{background:linear-gradient(#000,#0c0c0c 8.9%,#1a1a1a 13.2%,#252525 15.9%,#3b3b3b 19.9%,#4b4b4b 22.3%,#7e7e7e 28.8%,#a6a6a6 33.3%,#c1c1c1 36.8%,#d0d0d0 39.8%,#d3d3d3 42.7%,#d0d0d0 45.4%,#c5c5c5 48.9%,#bababa 51.1%,#a6a6a6 54.3%,#979797 57%,#7e7e7e 61.8%,#797979 63.2%,#787878 65.3%,#818181 69.9%,#848484 73.7%,#838383 74.7%,#787878 79.8%,#737373 80.9%,#676767 82.8%,#535353 85.5%,#1b1b1b 93.8%,#0f0f0f 96.5%,#050505)}
.t32{background:linear-gradient(#000,#0b0b0b 8.9%,#171717 13.2%,#212121 15.9%,#353535 19.9%,#444 22.3%,#727272 28.8%,#a1a1a1 34.9%,#adadad 36.8%,#bbb 39.8%,#bebebe 43%,#bbb 46%,#b2b2b2 49.2%,#757575 61.6%,#707070 63.2%,#6f6f6f 65.3%,#787878 69.9%,#7c7c7c 73.7%,#7b7b7b 74.7%,#707070 79.8%,#6c6c6c 80.9%,#606060 82.8%,#4d4d4d 85.5%,#191919 93.8%,#0e0e0e 96.5%,#040404)}
.t33{background:linear-gradient(#000,#0a0a0a 8.9%,#161616 13.2%,#1f1f1f 15.9%,#323232 19.9%,#414141 22.6%,#6e6e6e 29.3%,#9a9a9a 35.5%,#a4a4a4 37.1%,#b0b0b0 40.1%,#b3b3b3 43%,#b0b0b0 45.7%,#a8a8a8 48.9%,#9f9f9f 51.1%,#828282 57%,#6c6c6c 61.8%,#686868 63.2%,#676767 65.3%,#6f6f6f 69.9%,#727272 73.7%,#676767 79.8%,#585858 82.8%,#474747 85.5%,#171717 93.8%,#0d0d0d 96.5%,#040404)}
.t34{background:linear-gradient(#000,#0a0a0a 8.9%,#151515 13.2%,#1d1d1d 15.9%,#2f2f2f 19.9%,#3c3c3c 22.3%,#999 36.8%,#a4a4a4 39.8%,#a6a6a6 42.5%,#a4a4a4 45.2%,#9b9b9b 48.7%,#777 56.7%,#636363 61.8%,#606060 62.9%,#5e5e5e 65.3%,#656565 69.9%,#686868 73.7%,#5e5e5e 79.8%,#515151 82.8%,#414141 85.5%,#151515 93.8%,#0c0c0c 96.5%,#040404)}
.t35{background:linear-gradient(#000,#090909 8.9%,#131313 13.2%,#1b1b1b 15.9%,#2b2b2b 19.9%,#373737 22.3%,#8b8b8b 36.6%,#979797 39.8%,#999 42.5%,#969696 45.4%,#8f8f8f 48.9%,#6e6e6e 57%,#5b5b5b 61.8%,#585858 63.2%,#575757 65.3%,#5d5d5d 69.9%,#5f5f5f 73.7%,#565656 79.8%,#4a4a4a 82.8%,#3b3b3b 85.5%,#131313 93.8%,#0b0b0b 96.5%,#030303)}
.t36{background:linear-gradient(#000,#080808 8.9%,#121212 13.2%,#191919 15.9%,#282828 19.9%,#333 22.3%,#838383 36.8%,#8d8d8d 39.8%,#8f8f8f 42.5%,#8d8d8d 45.2%,#868686 48.7%,#6d6d6d 54.8%,#555 61.6%,#515151 62.9%,#505050 65.3%,#565656 69.9%,#585858 73.9%,#4f4f4f 80.1%,#444 82.8%,#373737 85.5%,#121212 93.8%,#0a0a0a 96.5%,#030303)}
.t37{background:linear-gradient(#000,#080808 8.9%,#181818 15.9%,#262626 19.9%,#303030 22.3%,#7a7a7a 36.6%,#838383 39.5%,#848484 41.9%,#828282 44.6%,#7b7b7b 47.8%,#606060 54.6%,#494949 62.6%,#484848 65.3%,#4e4e4e 69.9%,#505050 73.7%,#494949 80.1%,#3f3f3f 82.8%,#101010 93.8%,#090909 96.5%,#030303)}
.t38{background:linear-gradient(#000,#070707 8.9%,#161616 15.9%,#2c2c2c 22%,#6c6c6c 35.8%,#727272 37.6%,#757575 40.1%,#737373 43%,#6e6e6e 45.7%,#666 48.7%,#525252 54.6%,#404040 62.6%,#3f3f3f 65.1%,#464646 69.9%,#494949 73.7%,#434343 79.8%,#3a3a3a 82.8%,#0f0f0f 93.8%,#080808 96.5%,#030303)}
.t39{background:linear-gradient(#000,#060606 8.9%,#131313 15.6%,#252525 21.8%,#515151 32.3%,#5b5b5b 35.2%,#616161 37.4%,#656565 40.3%,#636363 43.3%,#606060 45.7%,#595959 48.4%,#464646 54.3%,#383838 62.4%,#383838 65.1%,#3f3f3f 69.9%,#424242 73.7%,#3d3d3d 79.8%,#353535 82.8%,#0e0e0e 93.8%,#080808 96.5%,#020202)}
.t40{background:linear-gradient(#000,#060606 8.9%,#101010 15.6%,#212121 21.8%,#505050 35.2%,#555 37.4%,#585858 39.8%,#535353 44.4%,#3d3d3d 54%,#303030 62.4%,#303030 65.1%,#373737 69.9%,#3b3b3b 73.7%,#363636 79.8%,#2f2f2f 82.8%,#0c0c0c 93.8%,#020202)}
.t41{background:linear-gradient(#000,#050505 8.9%,#0e0e0e 15.6%,#1c1c1c 21.8%,#414141 33.6%,#484848 36.8%,#4a4a4a 40.1%,#494949 43.3%,#464646 46%,#414141 48.7%,#353535 54.3%,#2a2a2a 62.4%,#2a2a2a 65.1%,#303030 69.9%,#333 73.7%,#2f2f2f 79.8%,#292929 82.8%,#0b0b0b 93.8%,#020202)}
.t42{background:linear-gradient(#000,#040404 8.9%,#0c0c0c 15.6%,#181818 21.8%,#3d3d3d 35.5%,#404040 37.6%,#424242 40.3%,#3f3f3f 45.2%,#2e2e2e 54.3%,#252525 62.4%,#252525 65.1%,#2c2c2c 73.7%,#292929 79.8%,#242424 82.8%,#090909 93.8%,#020202)}
.t43{background:linear-gradient(#000,#040404 8.9%,#0b0b0b 15.6%,#161616 21.8%,#363636 35.2%,#393939 37.1%,#3b3b3b 39.8%,#383838 44.6%,#272727 54%,#1f1f1f 62.1%,#1f1f1f 64.8%,#262626 73.7%,#242424 79.8%,#1f1f1f 82.8%,#080808 93.8%,#010101)}
.t44{background:linear-gradient(#000,#030303 8.9%,#0a0a0a 15.6%,#131313 21.8%,#2e2e2e 34.1%,#323232 36.8%,#333 39.5%,#2f2f2f 44.9%,#1f1f1f 54%,#1a1a1a 61.8%,#1a1a1a 64.8%,#202020 73.7%,#1e1e1e 80.1%,#070707 93.8%,#010101)}
.t45{background:linear-gradient(#000,#030303 8.9%,#080808 15.6%,#111 21.8%,#272727 33.3%,#2a2a2a 36.3%,#2b2b2b 39%,#282828 44.1%,#191919 52.7%,#161616 57%,#141414 63.4%,#1a1a1a 73.7%,#191919 80.1%,#060606 93.8%,#010101)}
.t46{background:linear-gradient(#000,#030303 8.9%,#070707 15.6%,#0e0e0e 21.8%,#202020 32.8%,#242424 37.6%,#232323 40.1%,#202020 43.5%,#131313 51.6%,#111 54.3%,#0f0f0f 62.9%,#141414 73.4%,#131313 79.8%,#040404 93.8%,#010101)}
.t47{background:linear-gradient(#000,#020202 8.6%,#060606 15.3%,#0c0c0c 21.8%,#1a1a1a 32.3%,#1c1c1c 36.6%,#181818 43.5%,#0b0b0b 54%,#0a0a0a 62.9%,#0f0f0f 73.4%,#0e0e0e 79.8%,#030303 93.8%,#010101)}
.t48{background:linear-gradient(#000,#020202 8.6%,#050505 15.3%,#090909 21.5%,#141414 32%,#161616 36%,#141414 40.3%,#070707 53%,#070707 62.6%,#0b0b0b 73.4%,#0a0a0a 79.6%,#020202 93.8%,#000)}
.t49{background:linear-gradient(#000,#030303 15.3%,#0f0f0f 31.7%,#101010 35.2%,#0e0e0e 39.5%,#080808 46.8%,#060606 52.4%,#050505 62.6%,#080808 73.4%,#070707 79.8%,#000)}
.t50{background:linear-gradient(#000,#020202 15.3%,#0b0b0b 33.9%,#080808 41.1%,#050505 53.8%,#050505 79.8%,#000)}
.u0{background:linear-gradient(#000,#010101 22.8%,#070707 47%,#050505 52.4%,#020202 54.8%,#010101 59.1%,#000)}
.u1{background:linear-gradient(#000,#000 18%,#020202 29.8%,#090909 39%,#0b0b0b 45.7%,#080808 52.7%,#020202 55.6%,#010101 58.6%,#020202 74.7%,#000)}
.u2{background:linear-gradient(#000,#010101 18%,#040404 29.3%,#060606 32.5%,#0d0d0d 38.7%,#101010 45.4%,#0f0f0f 48.7%,#0b0b0b 52.7%,#030303 56.2%,#010101 57.8%,#010101 70.2%,#030303 74.7%,#020202 78.2%,#030303 82.3%,#010101 85.8%,#000)}
.u3{background:linear-gradient(#000,#010101 16.9%,#050505 27.4%,#080808 32%,#141414 38.7%,#161616 43.8%,#151515 48.1%,#0f0f0f 52.7%,#050505 55.9%,#020202 57.8%,#010101 69.6%,#050505 74.7%,#020202 78.2%,#040404 82.3%,#020202 85.8%,#000)}
.u4{background:linear-gradient(#000,#010101 15.3%,#050505 23.7%,#0a0a0a 30.9%,#1b1b1b 38.4%,#1d1d1d 42.7%,#1b1b1b 47.8%,#141414 52.4%,#121212 53.5%,#060606 56.5%,#020202 58.9%,#010101 68.5%,#070707 74.7%,#030303 78.2%,#060606 82.3%,#020202 85.8%,#030303 89.5%,#000)}
.u5{background:linear-gradient(#000,#010101 14.8%,#060606 22.8%,#0e0e0e 30.6%,#222 37.6%,#252525 39.2%,#252525 41.9%,#232323 46.8%,#1d1d1d 50.5%,#171717 53.2%,#0c0c0c 55.6%,#060606 57.3%,#030303 59.4%,#020202 68.3%,#090909 74.7%,#050505 78.2%,#080808 82.3%,#030303 85.8%,#040404 89.5%,#010101 94.1%,#010101)}
.u6{background:linear-gradient(#000,#010101 14.8%,#070707 22.6%,#131313 30.6%,#191919 32.8%,#292929 36.6%,#2d2d2d 38.4%,#2e2e2e 40.3%,#2c2c2c 45.2%,#252525 49.7%,#1d1d1d 53%,#0b0b0b 56.7%,#040404 59.4%,#030303 68.3%,#0c0c0c 74.7%,#060606 78.2%,#0a0a0a 82.3%,#040404 85.8%,#050505 89.5%,#020202 94.1%,#010101)}
.u7{background:linear-gradient(#000,#020202 14.5%,#040404 18.5%,#090909 22.3%,#171717 30.4%,#1f1f1f 32.5%,#313131 36.6%,#363636 38.4%,#373737 39.8%,#343434 44.1%,#2b2b2b 49.5%,#202020 53.2%,#0c0c0c 57.3%,#070707 59.7%,#050505 68.3%,#070707 70.7%,#0e0e0e 73.4%,#0f0f0f 74.7%,#080808 78.2%,#0d0d0d 82.3%,#050505 85.8%,#060606 89.5%,#020202 94.1%,#010101)}
.u8{background:linear-gradient(#000,#020202 14%,#040404 18%,#080808 20.7%,#131313 26.6%,#1c1c1c 30.4%,#242424 32.5%,#393939 36.6%,#3e3e3e 38.2%,#3f3f3f 39.5%,#3b3b3b 43.5%,#303030 49.2%,#242424 53.2%,#181818 55.4%,#0f0f0f 57.5%,#0a0a0a 59.7%,#070707 68.3%,#090909 70.7%,#111 73.7%,#121212 74.7%,#090909 78.2%,#0f0f0f 82.3%,#060606 85.8%,#080808 89.5%,#030303 94.1%,#010101)}
.u9{background:linear-gradient(#000,#020202 13.7%,#050505 18%,#090909 20.4%,#141414 26.1%,#1f1f1f 30.1%,#282828 32.3%,#404040 36.3%,#454545 38.2%,#474747 39.5%,#434343 43.3%,#373737 48.9%,#292929 53%,#1b1b1b 55.4%,#141414 57%,#0d0d0d 59.7%,#090909 68.5%,#0a0a0a 70.7%,#131313 73.7%,#141414 74.7%,#0a0a0a 78.2%,#111 82.3%,#0f0f0f 83.1%,#080808 84.9%,#070707 85.8%,#090909 89.5%,#030303 94.1%,#010101)}
.u10{background:linear-gradient(#000,#020202 13.7%,#060606 18%,#0a0a0a 20.4%,#171717 26.1%,#232323 30.1%,#2d2d2d 32.3%,#494949 36.6%,#4e4e4e 38.2%,#505050 39.5%,#4c4c4c 43.3%,#404040 48.7%,#2f2f2f 53%,#1f1f1f 55.4%,#191919 56.5%,#141414 58.1%,#101010 59.7%,#0b0b0b 67.7%,#0b0b0b 69.9%,#0c0c0c 71%,#151515 73.7%,#161616 74.7%,#0b0b0b 78.2%,#131313 82.3%,#111 83.1%,#090909 84.9%,#080808 85.8%,#0a0a0a 89.5%,#030303 94.1%,#020202)}
.u11{background:linear-gradient(#000,#030303 14%,#070707 18%,#0c0c0c 20.7%,#1c1c1c 26.6%,#292929 30.4%,#363636 32.5%,#555 36.6%,#5b5b5b 38.2%,#5d5d5d 39.5%,#585858 43.3%,#4a4a4a 48.7%,#373737 53%,#313131 53.8%,#242424 55.4%,#1c1c1c 56.7%,#141414 59.4%,#0d0d0d 67.7%,#0d0d0d 69.9%,#0e0e0e 71%,#191919 73.7%,#1a1a1a 74.7%,#181818 75.5%,#0f0f0f 77.4%,#0d0d0d 78.2%,#0e0e0e 79%,#141414 81.2%,#161616 82.3%,#141414 83.1%,#0b0b0b 84.9%,#090909 85.8%,#0b0b0b 89.5%,#040404 94.1%,#020202)}
.u12{background:linear-gradient(#000,#030303 13.7%,#080808 18%,#0d0d0d 20.4%,#1f1f1f 26.1%,#2f2f2f 30.1%,#3d3d3d 32.3%,#626262 36.6%,#696969 38.2%,#6b6b6b 39.5%,#656565 43.3%,#545454 48.7%,#3e3e3e 53%,#393939 53.8%,#292929 55.4%,#202020 56.7%,#1a1a1a 58.1%,#161616 59.4%,#0f0f0f 67.7%,#0f0f0f 69.9%,#111 71%,#1d1d1d 73.7%,#1e1e1e 74.7%,#1c1c1c 75.5%,#121212 77.4%,#0f0f0f 78.2%,#101010 79%,#171717 81.2%,#191919 82.3%,#171717 83.1%,#0d0d0d 84.9%,#0a0a0a 85.8%,#0d0d0d 89.5%,#040404 94.1%,#020202)}
.u13{background:linear-gradient(#000,#040404 13.7%,#090909 17.7%,#0e0e0e 20.2%,#232323 25.8%,#363636 30.1%,#3b3b3b 30.9%,#474747 32.3%,#6e6e6e 36.3%,#777 37.9%,#7a7a7a 39.2%,#787878 40.6%,#737373 43%,#676767 46.5%,#5e5e5e 48.7%,#464646 53%,#3f3f3f 53.8%,#303030 55.4%,#262626 56.7%,#1f1f1f 58.1%,#1b1b1b 59.4%,#121212 67.7%,#121212 69.9%,#131313 71%,#212121 73.7%,#232323 74.7%,#202020 75.5%,#141414 77.4%,#121212 78.2%,#121212 79%,#1b1b1b 81.2%,#1d1d1d 82.3%,#1b1b1b 83.1%,#0f0f0f 84.9%,#0c0c0c 85.8%,#0f0f0f 89.5%,#050505 94.1%,#020202)}
.u14{background:linear-gradient(#000,#040404 13.7%,#0a0a0a 17.7%,#101010 20.2%,#272727 25.8%,#3d3d3d 30.1%,#434343 30.9%,#505050 32.3%,#7d7d7d 36.3%,#868686 37.9%,#898989 39.2%,#888 40.3%,#828282 42.7%,#6a6a6a 48.4%,#4c4c4c 53.2%,#444 54%,#363636 55.4%,#2d2d2d 56.5%,#242424 58.1%,#202020 59.4%,#151515 67.7%,#141414 70.2%,#171717 71.2%,#252525 73.7%,#272727 74.7%,#252525 75.5%,#171717 77.4%,#141414 78.2%,#151515 79%,#1e1e1e 81.2%,#212121 82.3%,#1e1e1e 83.1%,#101010 84.9%,#0d0d0d 85.8%,#111 89.5%,#0f0f0f 90.6%,#060606 94.1%,#030303)}
.u15{background:linear-gradient(#000,#020202 8.6%,#050505 13.7%,#0a0a0a 17.5%,#111 19.9%,#232323 23.9%,#353535 27.4%,#434343 29.8%,#494949 30.6%,#545454 31.7%,#8a8a8a 36.3%,#949494 37.9%,#979797 39.2%,#969696 40.3%,#8e8e8e 42.7%,#737373 48.4%,#545454 53%,#4d4d4d 53.8%,#3c3c3c 55.4%,#343434 56.5%,#2b2b2b 57.8%,#252525 59.4%,#191919 67.7%,#171717 70.2%,#1a1a1a 71.2%,#2a2a2a 73.7%,#2c2c2c 74.7%,#292929 75.5%,#1a1a1a 77.4%,#161616 78.2%,#171717 79%,#222 81.2%,#252525 82.3%,#222 83.1%,#121212 84.9%,#0f0f0f 85.8%,#131313 89.5%,#111 90.6%,#060606 94.1%,#030303)}
.u16{background:linear-gradient(#000,#020202 8.6%,#050505 13.7%,#0b0b0b 17.5%,#131313 19.9%,#262626 23.9%,#3a3a3a 27.4%,#4a4a4a 29.8%,#515151 30.6%,#5c5c5c 31.7%,#989898 36.3%,#a2a2a2 37.9%,#a6a6a6 39.2%,#a4a4a4 40.3%,#9c9c9c 42.7%,#808080 48.1%,#757575 49.7%,#5d5d5d 53%,#555 53.8%,#424242 55.4%,#3b3b3b 56.2%,#313131 57.8%,#2b2b2b 59.4%,#1d1d1d 67.7%,#1a1a1a 70.4%,#1e1e1e 71.5%,#2d2d2d 73.7%,#303030 74.7%,#2d2d2d 75.5%,#1c1c1c 77.4%,#181818 78.2%,#191919 79%,#252525 81.2%,#282828 82.3%,#252525 83.1%,#141414 84.9%,#101010 85.8%,#151515 89.5%,#131313 90.6%,#070707 94.1%,#030303)}
.u17{background:linear-gradient(#000,#020202 8.6%,#060606 13.7%,#0d0d0d 17.5%,#151515 19.9%,#2a2a2a 23.9%,#404040 27.4%,#525252 29.8%,#595959 30.6%,#666 31.7%,#9d9d9d 35.5%,#a7a7a7 36.3%,#b2b2b2 37.9%,#b6b6b6 39.2%,#b4b4b4 40.3%,#aaa 42.7%,#8b8b8b 48.1%,#7f7f7f 49.7%,#656565 53%,#5d5d5d 53.8%,#484848 55.4%,#414141 56.2%,#363636 57.8%,#303030 59.4%,#1d1d1d 70.2%,#202020 71.2%,#323232 73.7%,#353535 74.7%,#313131 75.5%,#1f1f1f 77.4%,#1b1b1b 78.2%,#1c1c1c 79%,#292929 81.2%,#2d2d2d 82.3%,#292929 83.1%,#161616 84.9%,#121212 85.8%,#171717 89.5%,#151515 90.6%,#080808 94.1%,#040404)}
.u18{background:linear-gradient(#000,#030303 8.6%,#060606 13.7%,#0e0e0e 17.5%,#171717 19.9%,#2e2e2e 23.9%,#464646 27.4%,#595959 29.8%,#616161 30.6%,#6f6f6f 31.7%,#a9a9a9 35.5%,#b4b4b4 36.3%,#c0c0c0 37.9%,#c4c4c4 39%,#c2c2c2 40.1%,#b8b8b8 42.5%,#989898 47.6%,#888 49.7%,#6b6b6b 53%,#636363 53.8%,#515151 55.1%,#494949 55.9%,#3e3e3e 57.5%,#363636 59.4%,#242424 67.7%,#202020 70.4%,#242424 71.5%,#363636 73.7%,#393939 74.2%,#3a3a3a 74.7%,#363636 75.5%,#222 77.4%,#1d1d1d 78.2%,#1e1e1e 79%,#2d2d2d 81.2%,#303030 82.3%,#2c2c2c 83.1%,#181818 84.9%,#131313 85.8%,#191919 89.5%,#171717 90.6%,#080808 94.1%,#040404)}
.u19{background:linear-gradient(#000,#030303 8.6%,#070707 13.7%,#0f0f0f 17.5%,#191919 19.9%,#323232 23.9%,#4b4b4b 27.4%,#5f5f5f 29.8%,#686868 30.6%,#737373 31.5%,#838383 32.5%,#b5b5b5 35.5%,#c0c0c0 36.3%,#ccc 37.9%,#d0d0d0 39%,#cecece 40.1%,#c3c3c3 42.5%,#a1a1a1 47.6%,#909090 49.7%,#717171 53%,#696969 53.8%,#575757 55.1%,#4f4f4f 55.9%,#454545 57.3%,#3c3c3c 59.1%,#222 70.4%,#232323 71%,#272727 71.5%,#3a3a3a 73.7%,#3d3d3d 74.2%,#3e3e3e 74.7%,#393939 75.5%,#242424 77.4%,#1f1f1f 78.2%,#202020 79%,#303030 81.2%,#333 82.3%,#2f2f2f 83.1%,#1a1a1a 84.9%,#151515 85.8%,#1b1b1b 89.5%,#181818 90.6%,#090909 94.1%,#050505 97.3%,#040404)}
.u20{background:linear-gradient(#000,#030303 8.6%,#070707 13.7%,#101010 17.5%,#1a1a1a 19.9%,#343434 23.9%,#4f4f4f 27.4%,#656565 29.8%,#6e6e6e 30.6%,#7a7a7a 31.5%,#8b8b8b 32.5%,#bfbfbf 35.5%,#cbcbcb 36.3%,#d0d0d0 36.8%,#d8d8d8 37.9%,#dbdbdb 39%,#d9d9d9 40.1%,#cdcdcd 42.5%,#ababab 47.3%,#999 49.5%,#777 53%,#6b6b6b 54%,#5b5b5b 55.1%,#535353 55.9%,#494949 57.3%,#414141 59.1%,#242424 70.4%,#262626 71%,#292929 71.5%,#3d3d3d 73.7%,#404040 74.2%,#414141 74.7%,#3c3c3c 75.5%,#262626 77.4%,#212121 78.2%,#222 79%,#323232 81.2%,#363636 82.3%,#323232 83.1%,#1b1b1b 84.9%,#161616 85.8%,#161616 86.6%,#1c1c1c 88.7%,#1c1c1c 89.5%,#191919 90.6%,#0a0a0a 94.1%,#060606 97.3%,#040404)}
.u21{background:linear-gradient(#000,#030303 8.6%,#070707 13.7%,#101010 17.5%,#1b1b1b 19.9%,#373737 23.9%,#535353 27.4%,#6a6a6a 29.8%,#737373 30.6%,#808080 31.5%,#929292 32.5%,#c8c8c8 35.5%,#d4d4d4 36.3%,#dadada 36.8%,#e2e2e2 37.9%,#e5e5e5 39%,#e3e3e3 40.1%,#d6d6d6 42.5%,#b2b2b2 47.3%,#a0a0a0 49.5%,#7c7c7c 53%,#737373 53.8%,#606060 55.1%,#5a5a5a 55.6%,#4e4e4e 57.3%,#464646 58.9%,#262626 70.4%,#282828 71%,#2b2b2b 71.5%,#3e3e3e 73.4%,#444 74.5%,#434343 75%,#3f3f3f 75.5%,#282828 77.4%,#222 78.2%,#242424 79%,#353535 81.2%,#393939 82.3%,#353535 83.1%,#1c1c1c 84.9%,#171717 85.8%,#181818 86.6%,#1d1d1d 88.7%,#1e1e1e 89.5%,#1b1b1b 90.6%,#0a0a0a 94.1%,#060606 97.3%,#050505)}
.u22{background:linear-gradient(#000,#030303 8.6%,#080808 13.7%,#111 17.5%,#151515 18.5%,#1d1d1d 19.9%,#2d2d2d 22.3%,#393939 23.9%,#575757 27.4%,#6f6f6f 29.8%,#787878 30.6%,#858585 31.5%,#989898 32.5%,#d0d0d0 35.5%,#ddd 36.3%,#e3e3e3 36.8%,#ebebeb 37.9%,#eee 39%,#ececec 40.1%,#dfdfdf 42.5%,#b9b9b9 47.3%,#a6a6a6 49.5%,#818181 53%,#777 53.8%,#646464 55.1%,#5e5e5e 55.6%,#535353 57%,#4a4a4a 58.9%,#3b3b3b 64.2%,#282828 70.4%,#292929 71%,#2d2d2d 71.5%,#414141 73.4%,#454545 73.9%,#474747 74.5%,#464646 75%,#424242 75.5%,#292929 77.4%,#242424 78.2%,#252525 79%,#373737 81.2%,#3b3b3b 82.3%,#373737 83.1%,#1e1e1e 84.9%,#181818 85.8%,#191919 86.6%,#1e1e1e 88.7%,#1f1f1f 89.5%,#1c1c1c 90.6%,#0a0a0a 94.1%,#060606 97.3%,#050505)}
.u23{background:linear-gradient(#000,#030303 8.6%,#080808 13.7%,#121212 17.5%,#161616 18.5%,#1e1e1e 19.9%,#2f2f2f 22.3%,#3c3c3c 23.9%,#5a5a5a 27.4%,#737373 29.8%,#7d7d7d 30.6%,#8a8a8a 31.5%,#9e9e9e 32.5%,#d8d8d8 35.5%,#e5e5e5 36.3%,#ebebeb 36.8%,#f3f3f3 37.9%,#f7f7f7 39%,#f5f5f5 40.1%,#e8e8e8 42.2%,#c2c2c2 47%,#ababab 49.5%,#858585 53%,#7c7c7c 53.8%,#676767 55.1%,#616161 55.6%,#565656 57%,#4d4d4d 58.9%,#3e3e3e 64.2%,#2a2a2a 70.4%,#2b2b2b 71%,#2f2f2f 71.5%,#434343 73.4%,#484848 73.9%,#4a4a4a 74.5%,#494949 75%,#444 75.5%,#2b2b2b 77.4%,#252525 78.2%,#272727 79%,#393939 81.2%,#3c3c3c 81.7%,#3e3e3e 82.3%,#393939 83.1%,#1f1f1f 84.9%,#191919 85.8%,#191919 86.6%,#202020 88.7%,#202020 89.5%,#1d1d1d 90.6%,#0b0b0b 94.1%,#060606 97.3%,#050505)}
.u24{background:linear-gradient(#000,#030303 8.6%,#080808 13.7%,#121212 17.5%,#171717 18.5%,#1e1e1e 19.9%,#303030 22.3%,#3d3d3d 23.9%,#5d5d5d 27.4%,#767676 29.8%,#808080 30.6%,#8d8d8d 31.5%,#a2a2a2 32.5%,#ddd 35.5%,#eaeaea 36.3%,#f0f0f0 36.8%,#f9f9f9 37.9%,#fcfcfc 39%,#fafafa 40.1%,#ededed 42.2%,#c5c5c5 47%,#afafaf 49.5%,#888 53%,#7e7e7e 53.8%,#6a6a6a 55.1%,#636363 55.6%,#595959 57%,#505050 58.6%,#3f3f3f 64.5%,#2b2b2b 70.4%,#2c2c2c 71%,#303030 71.5%,#454545 73.4%,#494949 73.9%,#4c4c4c 74.5%,#4b4b4b 75%,#464646 75.5%,#2c2c2c 77.4%,#262626 78.2%,#282828 79%,#3a3a3a 81.2%,#3e3e3e 81.7%,#3f3f3f 82.3%,#3a3a3a 83.1%,#1f1f1f 84.9%,#191919 85.8%,#1a1a1a 86.6%,#202020 88.7%,#212121 89.5%,#1d1d1d 90.6%,#101010 93%,#0b0b0b 94.1%,#060606 97.3%,#050505)}
.u25{background:linear-gradient(#000,#030303 8.6%,#080808 13.7%,#121212 17.5%,#171717 18.5%,#1f1f1f 19.9%,#303030 22.3%,#3e3e3e 23.9%,#5e5e5e 27.4%,#777 29.8%,#828282 30.6%,#8f8f8f 31.5%,#a3a3a3 32.5%,#dfdfdf 35.5%,#ededed 36.3%,#f3f3f3 36.8%,#fbfbfb 37.9%,#fff 39%,#fcfcfc 40.1%,#efefef 42.2%,#c7c7c7 47%,#b0b0b0 49.5%,#898989 53%,#7f7f7f 53.8%,#6b6b6b 55.1%,#656565 55.6%,#5a5a5a 57%,#525252 58.6%,#404040 64.5%,#2b2b2b 70.4%,#2d2d2d 71%,#303030 71.5%,#454545 73.4%,#4a4a4a 73.9%,#4c4c4c 74.5%,#4b4b4b 75%,#474747 75.5%,#2c2c2c 77.4%,#262626 78.2%,#282828 79%,#3b3b3b 81.2%,#3e3e3e 81.7%,#404040 82.3%,#3f3f3f 82.5%,#3b3b3b 83.1%,#202020 84.9%,#1a1a1a 85.8%,#1a1a1a 86.6%,#212121 88.7%,#212121 89.5%,#1e1e1e 90.6%,#101010 93%,#0b0b0b 94.1%,#070707 97.3%,#050505)}
.u26{background:linear-gradient(#000,#030303 8.6%,#080808 13.7%,#121212 17.5%,#171717 18.5%,#1e1e1e 19.9%,#303030 22.3%,#3d3d3d 23.9%,#5d5d5d 27.4%,#767676 29.8%,#808080 30.6%,#8d8d8d 31.5%,#a2a2a2 32.5%,#ddd 35.5%,#eaeaea 36.3%,#f0f0f0 36.8%,#f9f9f9 37.9%,#fcfcfc 39%,#fafafa 40.1%,#ededed 42.2%,#c5c5c5 47%,#afafaf 49.5%,#888 53%,#7e7e7e 53.8%,#6a6a6a 55.1%,#636363 55.6%,#595959 57%,#505050 58.6%,#3f3f3f 64.5%,#2b2b2b 70.4%,#2c2c2c 71%,#303030 71.5%,#454545 73.4%,#494949 73.9%,#4c4c4c 74.5%,#4b4b4b 75%,#464646 75.5%,#2c2c2c 77.4%,#262626 78.2%,#282828 79%,#3a3a3a 81.2%,#3e3e3e 81.7%,#3f3f3f 82.3%,#3a3a3a 83.1%,#1f1f1f 84.9%,#191919 85.8%,#1a1a1a 86.6%,#202020 88.7%,#212121 89.5%,#1d1d1d 90.6%,#101010 93%,#0b0b0b 94.1%,#060606 97.3%,#050505)}
.u27{background:linear-gradient(#000,#030303 8.6%,#080808 13.7%,#121212 17.5%,#161616 18.5%,#1e1e1e 19.9%,#2f2f2f 22.3%,#3c3c3c 23.9%,#5a5a5a 27.4%,#737373 29.8%,#7d7d7d 30.6%,#8a8a8a 31.5%,#9e9e9e 32.5%,#d8d8d8 35.5%,#e5e5e5 36.3%,#ebebeb 36.8%,#f3f3f3 37.9%,#f7f7f7 39%,#f5f5f5 40.1%,#e8e8e8 42.2%,#c2c2c2 47%,#ababab 49.5%,#858585 53%,#7c7c7c 53.8%,#676767 55.1%,#616161 55.6%,#565656 57%,#4d4d4d 58.9%,#3e3e3e 64.2%,#2a2a2a 70.4%,#2b2b2b 71%,#2f2f2f 71.5%,#434343 73.4%,#484848 73.9%,#4a4a4a 74.5%,#494949 75%,#444 75.5%,#2b2b2b 77.4%,#252525 78.2%,#272727 79%,#393939 81.2%,#3c3c3c 81.7%,#3e3e3e 82.3%,#393939 83.1%,#1f1f1f 84.9%,#191919 85.8%,#191919 86.6%,#202020 88.7%,#202020 89.5%,#1d1d1d 90.6%,#0b0b0b 94.1%,#060606 97.3%,#050505)}
.u28{background:linear-gradient(#000,#030303 8.6%,#080808 13.7%,#111 17.5%,#151515 18.5%,#1d1d1d 19.9%,#2d2d2d 22.3%,#393939 23.9%,#575757 27.4%,#6f6f6f 29.8%,#787878 30.6%,#858585 31.5%,#989898 32.5%,#d0d0d0 35.5%,#ddd 36.3%,#e3e3e3 36.8%,#ebebeb 37.9%,#eee 39%,#ececec 40.1%,#dfdfdf 42.5%,#b9b9b9 47.3%,#a6a6a6 49.5%,#818181 53%,#777 53.8%,#646464 55.1%,#5e5e5e 55.6%,#535353 57%,#4a4a4a 58.9%,#3b3b3b 64.2%,#282828 70.4%,#292929 71%,#2d2d2d 71.5%,#414141 73.4%,#454545 73.9%,#474747 74.5%,#464646 75%,#424242 75.5%,#292929 77.4%,#242424 78.2%,#252525 79%,#373737 81.2%,#3b3b3b 82.3%,#373737 83.1%,#1e1e1e 84.9%,#181818 85.8%,#191919 86.6%,#1e1e1e 88.7%,#1f1f1f 89.5%,#1c1c1c 90.6%,#0a0a0a 94.1%,#060606 97.3%,#050505)}
.u29{background:linear-gradient(#000,#030303 8.6%,#070707 13.7%,#101010 17.5%,#1b1b1b 19.9%,#373737 23.9%,#535353 27.4%,#6a6a6a 29.8%,#737373 30.6%,#808080 31.5%,#929292 32.5%,#c8c8c8 35.5%,#d4d4d4 36.3%,#dadada 36.8%,#e2e2e2 37.9%,#e5e5e5 39%,#e3e3e3 40.1%,#d6d6d6 42.5%,#b2b2b2 47.3%,#a0a0a0 49.5%,#7c7c7c 53%,#737373 53.8%,#606060 55.1%,#5a5a5a 55.6%,#4e4e4e 57.3%,#464646 58.9%,#262626 70.4%,#282828 71%,#2b2b2b 71.5%,#3e3e3e 73.4%,#444 74.5%,#434343 75%,#3f3f3f 75.5%,#282828 77.4%,#222 78.2%,#242424 79%,#353535 81.2%,#393939 82.3%,#353535 83.1%,#1c1c1c 84.9%,#171717 85.8%,#181818 86.6%,#1d1d1d 88.7%,#1e1e1e 89.5%,#1b1b1b 90.6%,#0a0a0a 94.1%,#060606 97.3%,#050505)}
.u30{background:linear-gradient(#000,#030303 8.6%,#070707 13.7%,#101010 17.5%,#1a1a1a 19.9%,#343434 23.9%,#4f4f4f 27.4%,#656565 29.8%,#6e6e6e 30.6%,#7a7a7a 31.5%,#8b8b8b 32.5%,#bfbfbf 35.5%,#cbcbcb 36.3%,#d0d0d0 36.8%,#d8d8d8 37.9%,#dbdbdb 39%,#d9d9d9 40.1%,#cdcdcd 42.5%,#ababab 47.3%,#999 49.5%,#777 53%,#6b6b6b 54%,#5b5b5b 55.1%,#535353 55.9%,#494949 57.3%,#414141 59.1%,#242424 70.4%,#262626 71%,#292929 71.5%,#3d3d3d 73.7%,#404040 74.2%,#414141 74.7%,#3c3c3c 75.5%,#262626 77.4%,#212121 78.2%,#222 79%,#323232 81.2%,#363636 82.3%,#323232 83.1%,#1b1b1b 84.9%,#161616 85.8%,#161616 86.6%,#1c1c1c 88.7%,#1c1c1c 89.5%,#191919 90.6%,#0a0a0a 94.1%,#060606 97.3%,#040404)}
.u31{background:linear-gradient(#000,#030303 8.6%,#070707 13.7%,#0f0f0f 17.5%,#191919 19.9%,#323232 23.9%,#4b4b4b 27.4%,#5f5f5f 29.8%,#686868 30.6%,#737373 31.5%,#838383 32.5%,#b5b5b5 35.5%,#c0c0c0 36.3%,#ccc 37.9%,#d0d0d0 39%,#cecece 40.1%,#c3c3c3 42.5%,#a1a1a1 47.6%,#909090 49.7%,#717171 53%,#696969 53.8%,#575757 55.1%,#4f4f4f 55.9%,#454545 57.3%,#3c3c3c 59.1%,#222 70.4%,#232323 71%,#272727 71.5%,#3a3a3a 73.7%,#3d3d3d 74.2%,#3e3e3e 74.7%,#393939 75.5%,#242424 77.4%,#1f1f1f 78.2%,#202020 79%,#303030 81.2%,#333 82.3%,#2f2f2f 83.1%,#1a1a1a 84.9%,#151515 85.8%,#1b1b1b 89.5%,#181818 90.6%,#090909 94.1%,#050505 97.3%,#040404)}
.u32{background:linear-gradient(#000,#030303 8.6%,#060606 13.7%,#0e0e0e 17.5%,#171717 19.9%,#2e2e2e 23.9%,#464646 27.4%,#595959 29.8%,#616161 30.6%,#6f6f6f 31.7%,#a9a9a9 35.5%,#b4b4b4 36.3%,#c0c0c0 37.9%,#c4c4c4 39%,#c2c2c2 40.1%,#b8b8b8 42.5%,#989898 47.6%,#888 49.7%,#6b6b6b 53%,#636363 53.8%,#515151 55.1%,#494949 55.9%,#3e3e3e 57.5%,#363636 59.4%,#242424 67.7%,#202020 70.4%,#242424 71.5%,#363636 73.7%,#393939 74.2%,#3a3a3a 74.7%,#363636 75.5%,#222 77.4%,#1d1d1d 78.2%,#1e1e1e 79%,#2d2d2d 81.2%,#303030 82.3%,#2c2c2c 83.1%,#181818 84.9%,#131313 85.8%,#191919 89.5%,#171717 90.6%,#080808 94.1%,#040404)}
.u33{background:linear-gradient(#000,#020202 8.6%,#060606 13.7%,#0d0d0d 17.5%,#151515 19.9%,#2a2a2a 23.9%,#404040 27.4%,#525252 29.8%,#595959 30.6%,#666 31.7%,#9d9d9d 35.5%,#a7a7a7 36.3%,#b2b2b2 37.9%,#b6b6b6 39.2%,#b4b4b4 40.3%,#aaa 42.7%,#8b8b8b 48.1%,#7f7f7f 49.7%,#656565 53%,#5d5d5d 53.8%,#484848 55.4%,#414141 56.2%,#363636 57.8%,#303030 59.4%,#1d1d1d 70.2%,#202020 71.2%,#323232 73.7%,#353535 74.7%,#313131 75.5%,#1f1f1f 77.4%,#1b1b1b 78.2%,#1c1c1c 79%,#292929 81.2%,#2d2d2d 82.3%,#292929 83.1%,#161616 84.9%,#121212 85.8%,#171717 89.5%,#151515 90.6%,#080808 94.1%,#040404)}
.u34{background:linear-gradient(#000,#020202 8.6%,#050505 13.7%,#0b0b0b 17.5%,#131313 19.9%,#262626 23.9%,#3a3a3a 27.4%,#4a4a4a 29.8%,#515151 30.6%,#5c5c5c 31.7%,#989898 36.3%,#a2a2a2 37.9%,#a6a6a6 39.2%,#a4a4a4 40.3%,#9c9c9c 42.7%,#808080 48.1%,#757575 49.7%,#5d5d5d 53%,#555 53.8%,#424242 55.4%,#3b3b3b 56.2%,#313131 57.8%,#2b2b2b 59.4%,#1d1d1d 67.7%,#1a1a1a 70.4%,#1e1e1e 71.5%,#2d2d2d 73.7%,#303030 74.7%,#2d2d2d 75.5%,#1c1c1c 77.4%,#181818 78.2%,#191919 79%,#252525 81.2%,#282828 82.3%,#252525 83.1%,#141414 84.9%,#101010 85.8%,#151515 89.5%,#131313 90.6%,#070707 94.1%,#030303)}
.u35{background:linear-gradient(#000,#020202 8.6%,#050505 13.7%,#0a0a0a 17.5%,#111 19.9%,#232323 23.9%,#353535 27.4%,#434343 29.8%,#494949 30.6%,#545454 31.7%,#8a8a8a 36.3%,#949494 37.9%,#979797 39.2%,#969696 40.3%,#8e8e8e 42.7%,#737373 48.4%,#545454 53%,#4d4d4d 53.8%,#3c3c3c 55.4%,#343434 56.5%,#2b2b2b 57.8%,#252525 59.4%,#191919 67.7%,#171717 70.2%,#1a1a1a 71.2%,#2a2a2a 73.7%,#2c2c2c 74.7%,#292929 75.5%,#1a1a1a 77.4%,#161616 78.2%,#171717 79%,#222 81.2%,#252525 82.3%,#222 83.1%,#121212 84.9%,#0f0f0f 85.8%,#131313 89.5%,#111 90.6%,#060606 94.1%,#030303)}
.u36{background:linear-gradient(#000,#040404 13.7%,#0a0a0a 17.7%,#101010 20.2%,#272727 25.8%,#3d3d3d 30.1%,#434343 30.9%,#505050 32.3%,#7d7d7d 36.3%,#868686 37.9%,#898989 39.2%,#888 40.3%,#828282 42.7%,#6a6a6a 48.4%,#4c4c4c 53.2%,#444 54%,#363636 55.4%,#2d2d2d 56.5%,#242424 58.1%,#202020 59.4%,#151515 67.7%,#141414 70.2%,#171717 71.2%,#252525 73.7%,#272727 74.7%,#252525 75.5%,#171717 77.4%,#141414 78.2%,#151515 79%,#1e1e1e 81.2%,#212121 82.3%,#1e1e1e 83.1%,#101010 84.9%,#0d0d0d 85.8%,#111 89.5%,#0f0f0f 90.6%,#060606 94.1%,#030303)}
.u37{background:linear-gradient(#000,#040404 13.7%,#090909 17.7%,#0e0e0e 20.2%,#232323 25.8%,#363636 30.1%,#3b3b3b 30.9%,#474747 32.3%,#6e6e6e 36.3%,#777 37.9%,#7a7a7a 39.2%,#787878 40.6%,#737373 43%,#676767 46.5%,#5e5e5e 48.7%,#464646 53%,#3f3f3f 53.8%,#303030 55.4%,#262626 56.7%,#1f1f1f 58.1%,#1b1b1b 59.4%,#121212 67.7%,#121212 69.9%,#131313 71%,#212121 73.7%,#232323 74.7%,#202020 75.5%,#141414 77.4%,#121212 78.2%,#121212 79%,#1b1b1b 81.2%,#1d1d1d 82.3%,#1b1b1b 83.1%,#0f0f0f 84.9%,#0c0c0c 85.8%,#0f0f0f 89.5%,#050505 94.1%,#020202)}
.u38{background:linear-gradient(#000,#030303 13.7%,#080808 18%,#0d0d0d 20.4%,#1f1f1f 26.1%,#2f2f2f 30.1%,#3d3d3d 32.3%,#626262 36.6%,#696969 38.2%,#6b6b6b 39.5%,#656565 43.3%,#545454 48.7%,#3e3e3e 53%,#393939 53.8%,#292929 55.4%,#202020 56.7%,#1a1a1a 58.1%,#161616 59.4%,#0f0f0f 67.7%,#0f0f0f 69.9%,#111 71%,#1d1d1d 73.7%,#1e1e1e 74.7%,#1c1c1c 75.5%,#121212 77.4%,#0f0f0f 78.2%,#101010 79%,#171717 81.2%,#191919 82.3%,#171717 83.1%,#0d0d0d 84.9%,#0a0a0a 85.8%,#0d0d0d 89.5%,#040404 94.1%,#020202)}
.u39{background:linear-gradient(#000,#030303 14%,#070707 18%,#0c0c0c 20.7%,#1c1c1c 26.6%,#292929 30.4%,#363636 32.5%,#555 36.6%,#5b5b5b 38.2%,#5d5d5d 39.5%,#585858 43.3%,#4a4a4a 48.7%,#373737 53%,#313131 53.8%,#242424 55.4%,#1c1c1c 56.7%,#141414 59.4%,#0d0d0d 67.7%,#0d0d0d 69.9%,#0e0e0e 71%,#191919 73.7%,#1a1a1a 74.7%,#181818 75.5%,#0f0f0f 77.4%,#0d0d0d 78.2%,#0e0e0e 79%,#141414 81.2%,#161616 82.3%,#141414 83.1%,#0b0b0b 84.9%,#090909 85.8%,#0b0b0b 89.5%,#040404 94.1%,#020202)}
.u40{background:linear-gradient(#000,#020202 13.7%,#060606 18%,#0a0a0a 20.4%,#171717 26.1%,#232323 30.1%,#2d2d2d 32.3%,#494949 36.6%,#4e4e4e 38.2%,#505050 39.5%,#4c4c4c 43.3%,#404040 48.7%,#2f2f2f 53%,#1f1f1f 55.4%,#191919 56.5%,#141414 58.1%,#101010 59.7%,#0b0b0b 67.7%,#0b0b0b 69.9%,#0c0c0c 71%,#151515 73.7%,#161616 74.7%,#0b0b0b 78.2%,#131313 82.3%,#111 83.1%,#090909 84.9%,#080808 85.8%,#0a0a0a 89.5%,#030303 94.1%,#020202)}
.u41{background:linear-gradient(#000,#020202 13.7%,#050505 18%,#090909 20.4%,#141414 26.1%,#1f1f1f 30.1%,#282828 32.3%,#404040 36.3%,#454545 38.2%,#474747 39.5%,#434343 43.3%,#373737 48.9%,#292929 53%,#1b1b1b 55.4%,#141414 57%,#0d0d0d 59.7%,#090909 68.5%,#0a0a0a 70.7%,#131313 73.7%,#141414 74.7%,#0a0a0a 78.2%,#111 82.3%,#0f0f0f 83.1%,#080808 84.9%,#070707 85.8%,#090909 89.5%,#030303 94.1%,#010101)}
.u42{background:linear-gradient(#000,#020202 14%,#040404 18%,#080808 20.7%,#131313 26.6%,#1c1c1c 30.4%,#242424 32.5%,#393939 36.6%,#3e3e3e 38.2%,#3f3f3f 39.5%,#3b3b3b 43.5%,#303030 49.2%,#242424 53.2%,#181818 55.4%,#0f0f0f 57.5%,#0a0a0a 59.7%,#070707 68.3%,#090909 70.7%,#111 73.7%,#121212 74.7%,#090909 78.2%,#0f0f0f 82.3%,#060606 85.8%,#080808 89.5%,#030303 94.1%,#010101)}
.u43{background:linear-gradient(#000,#020202 14.5%,#040404 18.5%,#090909 22.3%,#171717 30.4%,#1f1f1f 32.5%,#313131 36.6%,#363636 38.4%,#373737 39.8%,#343434 44.1%,#2b2b2b 49.5%,#202020 53.2%,#0c0c0c 57.3%,#070707 59.7%,#050505 68.3%,#070707 70.7%,#0e0e0e 73.4%,#0f0f0f 74.7%,#080808 78.2%,#0d0d0d 82.3%,#050505 85.8%,#060606 89.5%,#020202 94.1%,#010101)}
.u44{background:linear-gradient(#000,#010101 14.8%,#070707 22.6%,#131313 30.6%,#191919 32.8%,#292929 36.6%,#2d2d2d 38.4%,#2e2e2e 40.3%,#2c2c2c 45.2%,#252525 49.7%,#1d1d1d 53%,#0b0b0b 56.7%,#040404 59.4%,#030303 68.3%,#0c0c0c 74.7%,#060606 78.2%,#0a0a0a 82.3%,#040404 85.8%,#050505 89.5%,#020202 94.1%,#010101)}
.u45{background:linear-gradient(#000,#010101 14.8%,#060606 22.8%,#0e0e0e 30.6%,#222 37.6%,#252525 39.2%,#252525 41.9%,#232323 46.8%,#1d1d1d 50.5%,#171717 53.2%,#0c0c0c 55.6%,#060606 57.3%,#030303 59.4%,#020202 68.3%,#090909 74.7%,#050505 78.2%,#080808 82.3%,#030303 85.8%,#040404 89.5%,#010101 94.1%,#010101)}
.u46{background:linear-gradient(#000,#010101 15.3%,#050505 23.7%,#0a0a0a 30.9%,#1b1b1b 38.4%,#1d1d1d 42.7%,#1b1b1b 47.8%,#141414 52.4%,#121212 53.5%,#060606 56.5%,#020202 58.9%,#010101 68.5%,#070707 74.7%,#030303 78.2%,#060606 82.3%,#020202 85.8%,#030303 89.5%,#000)}
.u47{background:linear-gradient(#000,#010101 16.9%,#050505 27.4%,#080808 32%,#141414 38.7%,#161616 43.8%,#151515 48.1%,#0f0f0f 52.7%,#050505 55.9%,#020202 57.8%,#010101 69.6%,#050505 74.7%,#020202 78.2%,#040404 82.3%,#020202 85.8%,#000)}
.u48{background:linear-gradient(#000,#010101 18%,#040404 29.3%,#060606 32.5%,#0d0d0d 38.7%,#101010 45.4%,#0f0f0f 48.7%,#0b0b0b 52.7%,#030303 56.2%,#010101 57.8%,#010101 70.2%,#030303 74.7%,#020202 78.2%,#030303 82.3%,#010101 85.8%,#000)}
.u49{background:linear-gradient(#000,#000 18%,#020202 29.8%,#090909 39%,#0b0b0b 45.7%,#080808 52.7%,#020202 55.6%,#010101 58.6%,#020202 74.7%,#000)}
.u50{background:linear-gradient(#000,#010101 22.8%,#070707 47%,#050505 52.4%,#020202 54.8%,#010101 59.1%,#000)}
.x0{left:0.00px}
.x1{left:5.34px}
.x2{left:10.69px}
.x3{left:16.03px}
.x4{left:21.37px}
.x5{left:26.72px}
.x6{left:32.06px}
.x7{left:37.40px}
.x8{left:42.75px}
.x9{left:48.09px}
.x10{left:53.43px}
.x11{left:58.77px}
.x12{left:64.12px}
.x13{left:69.46px}
.x14{left:74.80px}
.x15{left:80.15px}
.x16{left:85.49px}
.x17{left:90.83px}
.x18{left:96.18px}
.x19{left:101.52px}
.x20{left:106.86px}
.x21{left:112.21px}
.x22{left:117.55px}
.x23{left:122.89px}
.x24{left:128.24px}
.x25{left:133.58px}
.x26{left:138.92px}
.x27{left:144.26px}
.x28{left:149.61px}
.x29{left:154.95px}
.x30{left:160.29px}
.x31{left:165.64px}
.x32{left:170.98px}
.x33{left:176.32px}
.x34{left:181.67px}
.x35{left:187.01px}
.x36{left:192.35px}
.x37{left:197.70px}
.x38{left:203.04px}
.x39{left:208.38px}
.x40{left:213.73px}
.x41{left:219.07px}
.x42{left:224.41px}
.x43{left:229.75px}
.x44{left:235.10px}
.x45{left:240.44px}
.x46{left:245.78px}
.x47{left:251.13px}
.x48{left:256.47px}
.x49{left:261.81px}
.x50{left:267.16px}
.x51{left:272.50px}
.x52{left:277.84px}
.x53{left:283.19px}
.x54{left:288.53px}
</style></head><body>
<div id="fig">
<svg width="0" height="0" style="position:absolute"><defs><filter id="tw" color-interpolation-filters="sRGB" x="0" y="0" width="100%" height="100%"><feGaussianBlur stdDeviation="0.75 0.4"/><feComponentTransfer><feFuncR type="table" tableValues=".886 .880 .870 .858 .844 .828 .810 .789 .768 .745 .721 .697 .673 .650 .627 .604 .583 .563 .543 .525 .507 .491 .475 .461 .448 .436 .425 .416 .407 .400 .394 .388 .384 .381 .378 .376 .374 .373 .372 .371 .370 .369 .368 .366 .365 .362 .359 .355 .351 .345 .338 .329 .319 .308 .296 .283 .270 .257 .244 .231 .220 .210 .202 .194 .185 .193 .203 .213 .226 .240 .256 .273 .291 .310 .330 .351 .371 .392 .413 .433 .454 .474 .493 .512 .531 .548 .565 .581 .597 .611 .626 .639 .652 .664 .676 .687 .698 .708 .718 .727 .735 .743 .750 .756 .763 .768 .773 .778 .783 .787 .792 .796 .800 .805 .810 .815 .821 .828 .835 .842 .849 .856 .863 .868 .873 .878 .882 .885 .886"/><feFuncG type="table" tableValues=".850 .852 .852 .849 .844 .837 .829 .820 .810 .799 .787 .775 .763 .750 .737 .723 .710 .696 .682 .667 .653 .638 .623 .608 .592 .577 .561 .545 .529 .512 .495 .479 .461 .444 .426 .409 .391 .372 .354 .335 .316 .297 .278 .259 .240 .221 .202 .184 .166 .149 .133 .119 .107 .096 .088 .081 .075 .071 .068 .067 .066 .066 .068 .072 .079 .074 .069 .068 .067 .068 .070 .072 .075 .078 .082 .087 .092 .097 .103 .109 .116 .124 .133 .143 .154 .166 .179 .193 .207 .222 .238 .253 .270 .286 .303 .321 .338 .356 .374 .393 .411 .430 .449 .468 .487 .506 .526 .545 .565 .584 .603 .622 .641 .660 .678 .696 .714 .731 .748 .764 .780 .795 .808 .820 .831 .840 .846 .849 .850"/><feFuncB type="table" tableValues=".888 .885 .881 .874 .867 .859 .851 .842 .833 .824 .815 .807 .800 .794 .788 .784 .779 .775 .772 .769 .766 .763 .761 .758 .756 .753 .751 .748 .745 .742 .739 .735 .731 .726 .721 .716 .709 .702 .695 .686 .677 .667 .656 .643 .630 .615 .599 .581 .561 .540 .517 .493 .467 .440 .413 .387 .361 .336 .312 .291 .271 .254 .239 .226 .213 .215 .218 .222 .227 .234 .241 .249 .258 .266 .274 .282 .289 .296 .302 .306 .310 .312 .314 .315 .315 .315 .314 .313 .313 .312 .312 .312 .313 .314 .316 .319 .322 .326 .332 .338 .345 .354 .363 .374 .387 .401 .416 .433 .451 .471 .492 .514 .537 .562 .587 .613 .640 .667 .694 .720 .747 .772 .796 .818 .837 .853 .867 .878 .886"/><feFuncA type="linear" slope="0" intercept="1"/></feComponentTransfer></filter></defs></svg><div class="hm" style="left:81.8px;top:124.9px;width:272.5px;height:186.1px"><div class="hc" style="left:-10.69px;width:293.87px"><i class="x0 p0"></i><i class="x1 p0"></i><i class="x2 p0"></i><i class="x3 p1"></i><i class="x4 p2"></i><i class="x5 p3"></i><i class="x6 p4"></i><i class="x7 p5"></i><i class="x8 p6"></i><i class="x9 p7"></i><i class="x10 p8"></i><i class="x11 p9"></i><i class="x12 p10"></i><i class="x13 p11"></i><i class="x14 p12"></i><i class="x15 p13"></i><i class="x16 p14"></i><i class="x17 p15"></i><i class="x18 p16"></i><i class="x19 p17"></i><i class="x20 p18"></i><i class="x21 p19"></i><i class="x22 p20"></i><i class="x23 p21"></i><i class="x24 p22"></i><i class="x25 p23"></i><i class="x26 p24"></i><i class="x27 p25"></i><i class="x28 p26"></i><i class="x29 p27"></i><i class="x30 p28"></i><i class="x31 p29"></i><i class="x32 p30"></i><i class="x33 p31"></i><i class="x34 p32"></i><i class="x35 p33"></i><i class="x36 p34"></i><i class="x37 p35"></i><i class="x38 p36"></i><i class="x39 p37"></i><i class="x40 p38"></i><i class="x41 p39"></i><i class="x42 p40"></i><i class="x43 p41"></i><i class="x44 p42"></i><i class="x45 p43"></i><i class="x46 p44"></i><i class="x47 p45"></i><i class="x48 p46"></i><i class="x49 p47"></i><i class="x50 p48"></i><i class="x51 p49"></i><i class="x52 p50"></i><i class="x53 p50"></i><i class="x54 p50"></i></div></div><div class="hm" style="left:405.7px;top:124.9px;width:272.5px;height:186.1px"><div class="hc" style="left:-10.69px;width:293.87px"><i class="x0 q0"></i><i class="x1 q0"></i><i class="x2 q0"></i><i class="x3 q1"></i><i class="x4 q2"></i><i class="x5 q3"></i><i class="x6 q4"></i><i class="x7 q5"></i><i class="x8 q6"></i><i class="x9 q7"></i><i class="x10 q8"></i><i class="x11 q9"></i><i class="x12 q10"></i><i class="x13 q11"></i><i class="x14 q12"></i><i class="x15 q13"></i><i class="x16 q14"></i><i class="x17 q15"></i><i class="x18 q16"></i><i class="x19 q17"></i><i class="x20 q18"></i><i class="x21 q19"></i><i class="x22 q20"></i><i class="x23 q21"></i><i class="x24 q22"></i><i class="x25 q23"></i><i class="x26 q24"></i><i class="x27 q25"></i><i class="x28 q26"></i><i class="x29 q27"></i><i class="x30 q28"></i><i class="x31 q29"></i><i class="x32 q30"></i><i class="x33 q31"></i><i class="x34 q32"></i><i class="x35 q33"></i><i class="x36 q34"></i><i class="x37 q35"></i><i class="x38 q36"></i><i class="x39 q37"></i><i class="x40 q38"></i><i class="x41 q39"></i><i class="x42 q40"></i><i class="x43 q41"></i><i class="x44 q42"></i><i class="x45 q43"></i><i class="x46 q44"></i><i class="x47 q45"></i><i class="x48 q46"></i><i class="x49 q47"></i><i class="x50 q48"></i><i class="x51 q49"></i><i class="x52 q50"></i><i class="x53 q50"></i><i class="x54 q50"></i></div></div><div class="hm" style="left:729.6px;top:124.9px;width:272.5px;height:186.1px"><div class="hc" style="left:-10.69px;width:293.87px"><i class="x0 r0"></i><i class="x1 r0"></i><i class="x2 r0"></i><i class="x3 r1"></i><i class="x4 r2"></i><i class="x5 r3"></i><i class="x6 r4"></i><i class="x7 r5"></i><i class="x8 r6"></i><i class="x9 r7"></i><i class="x10 r8"></i><i class="x11 r9"></i><i class="x12 r10"></i><i class="x13 r11"></i><i class="x14 r12"></i><i class="x15 r13"></i><i class="x16 r14"></i><i class="x17 r15"></i><i class="x18 r16"></i><i class="x19 r17"></i><i class="x20 r18"></i><i class="x21 r19"></i><i class="x22 r20"></i><i class="x23 r21"></i><i class="x24 r22"></i><i class="x25 r23"></i><i class="x26 r24"></i><i class="x27 r25"></i><i class="x28 r26"></i><i class="x29 r27"></i><i class="x30 r28"></i><i class="x31 r29"></i><i class="x32 r30"></i><i class="x33 r31"></i><i class="x34 r32"></i><i class="x35 r33"></i><i class="x36 r34"></i><i class="x37 r35"></i><i class="x38 r36"></i><i class="x39 r37"></i><i class="x40 r38"></i><i class="x41 r39"></i><i class="x42 r40"></i><i class="x43 r41"></i><i class="x44 r42"></i><i class="x45 r43"></i><i class="x46 r44"></i><i class="x47 r45"></i><i class="x48 r46"></i><i class="x49 r47"></i><i class="x50 r48"></i><i class="x51 r49"></i><i class="x52 r50"></i><i class="x53 r50"></i><i class="x54 r50"></i></div></div><div class="hm" style="left:1053.5px;top:124.9px;width:272.5px;height:186.1px"><div class="hc" style="left:-10.69px;width:293.87px"><i class="x0 r0"></i><i class="x1 r0"></i><i class="x2 r0"></i><i class="x3 r1"></i><i class="x4 r2"></i><i class="x5 r3"></i><i class="x6 r4"></i><i class="x7 r5"></i><i class="x8 r6"></i><i class="x9 r7"></i><i class="x10 r8"></i><i class="x11 r9"></i><i class="x12 r10"></i><i class="x13 r11"></i><i class="x14 r12"></i><i class="x15 r13"></i><i class="x16 r14"></i><i class="x17 r15"></i><i class="x18 r16"></i><i class="x19 r17"></i><i class="x20 r18"></i><i class="x21 r19"></i><i class="x22 r20"></i><i class="x23 r21"></i><i class="x24 r22"></i><i class="x25 r23"></i><i class="x26 r24"></i><i class="x27 r25"></i><i class="x28 r26"></i><i class="x29 r27"></i><i class="x30 r28"></i><i class="x31 r29"></i><i class="x32 r30"></i><i class="x33 r31"></i><i class="x34 r32"></i><i class="x35 r33"></i><i class="x36 r34"></i><i class="x37 r35"></i><i class="x38 r36"></i><i class="x39 r37"></i><i class="x40 r38"></i><i class="x41 r39"></i><i class="x42 r40"></i><i class="x43 r41"></i><i class="x44 r42"></i><i class="x45 r43"></i><i class="x46 r44"></i><i class="x47 r45"></i><i class="x48 r46"></i><i class="x49 r47"></i><i class="x50 r48"></i><i class="x51 r49"></i><i class="x52 r50"></i><i class="x53 r50"></i><i class="x54 r50"></i></div></div><div class="hm" style="left:81.8px;top:396.9px;width:272.5px;height:186.1px"><div class="hc" style="left:-10.69px;width:293.87px"><i class="x0 s0"></i><i class="x1 s0"></i><i class="x2 s0"></i><i class="x3 s1"></i><i class="x4 s2"></i><i class="x5 s3"></i><i class="x6 s4"></i><i class="x7 s5"></i><i class="x8 s6"></i><i class="x9 s7"></i><i class="x10 s8"></i><i class="x11 s9"></i><i class="x12 s10"></i><i class="x13 s11"></i><i class="x14 s12"></i><i class="x15 s13"></i><i class="x16 s14"></i><i class="x17 s15"></i><i class="x18 s16"></i><i class="x19 s17"></i><i class="x20 s18"></i><i class="x21 s19"></i><i class="x22 s20"></i><i class="x23 s21"></i><i class="x24 s22"></i><i class="x25 s23"></i><i class="x26 s24"></i><i class="x27 s25"></i><i class="x28 s26"></i><i class="x29 s27"></i><i class="x30 s28"></i><i class="x31 s29"></i><i class="x32 s30"></i><i class="x33 s31"></i><i class="x34 s32"></i><i class="x35 s33"></i><i class="x36 s34"></i><i class="x37 s35"></i><i class="x38 s36"></i><i class="x39 s37"></i><i class="x40 s38"></i><i class="x41 s39"></i><i class="x42 s40"></i><i class="x43 s41"></i><i class="x44 s42"></i><i class="x45 s43"></i><i class="x46 s44"></i><i class="x47 s45"></i><i class="x48 s46"></i><i class="x49 s47"></i><i class="x50 s48"></i><i class="x51 s49"></i><i class="x52 s50"></i><i class="x53 s50"></i><i class="x54 s50"></i></div></div><div class="hm" style="left:405.7px;top:396.9px;width:272.5px;height:186.1px"><div class="hc" style="left:-10.69px;width:293.87px"><i class="x0 t0"></i><i class="x1 t0"></i><i class="x2 t0"></i><i class="x3 t1"></i><i class="x4 t2"></i><i class="x5 t3"></i><i class="x6 t4"></i><i class="x7 t5"></i><i class="x8 t6"></i><i class="x9 t7"></i><i class="x10 t8"></i><i class="x11 t9"></i><i class="x12 t10"></i><i class="x13 t11"></i><i class="x14 t12"></i><i class="x15 t13"></i><i class="x16 t14"></i><i class="x17 t15"></i><i class="x18 t16"></i><i class="x19 t17"></i><i class="x20 t18"></i><i class="x21 t19"></i><i class="x22 t20"></i><i class="x23 t21"></i><i class="x24 t22"></i><i class="x25 t23"></i><i class="x26 t24"></i><i class="x27 t25"></i><i class="x28 t26"></i><i class="x29 t27"></i><i class="x30 t28"></i><i class="x31 t29"></i><i class="x32 t30"></i><i class="x33 t31"></i><i class="x34 t32"></i><i class="x35 t33"></i><i class="x36 t34"></i><i class="x37 t35"></i><i class="x38 t36"></i><i class="x39 t37"></i><i class="x40 t38"></i><i class="x41 t39"></i><i class="x42 t40"></i><i class="x43 t41"></i><i class="x44 t42"></i><i class="x45 t43"></i><i class="x46 t44"></i><i class="x47 t45"></i><i class="x48 t46"></i><i class="x49 t47"></i><i class="x50 t48"></i><i class="x51 t49"></i><i class="x52 t50"></i><i class="x53 t50"></i><i class="x54 t50"></i></div></div><div class="hm" style="left:729.6px;top:396.9px;width:272.5px;height:186.1px"><div class="hc" style="left:-10.69px;width:293.87px"><i class="x0 u0"></i><i class="x1 u0"></i><i class="x2 u0"></i><i class="x3 u1"></i><i class="x4 u2"></i><i class="x5 u3"></i><i class="x6 u4"></i><i class="x7 u5"></i><i class="x8 u6"></i><i class="x9 u7"></i><i class="x10 u8"></i><i class="x11 u9"></i><i class="x12 u10"></i><i class="x13 u11"></i><i class="x14 u12"></i><i class="x15 u13"></i><i class="x16 u14"></i><i class="x17 u15"></i><i class="x18 u16"></i><i class="x19 u17"></i><i class="x20 u18"></i><i class="x21 u19"></i><i class="x22 u20"></i><i class="x23 u21"></i><i class="x24 u22"></i><i class="x25 u23"></i><i class="x26 u24"></i><i class="x27 u25"></i><i class="x28 u26"></i><i class="x29 u27"></i><i class="x30 u28"></i><i class="x31 u29"></i><i class="x32 u30"></i><i class="x33 u31"></i><i class="x34 u32"></i><i class="x35 u33"></i><i class="x36 u34"></i><i class="x37 u35"></i><i class="x38 u36"></i><i class="x39 u37"></i><i class="x40 u38"></i><i class="x41 u39"></i><i class="x42 u40"></i><i class="x43 u41"></i><i class="x44 u42"></i><i class="x45 u43"></i><i class="x46 u44"></i><i class="x47 u45"></i><i class="x48 u46"></i><i class="x49 u47"></i><i class="x50 u48"></i><i class="x51 u49"></i><i class="x52 u50"></i><i class="x53 u50"></i><i class="x54 u50"></i></div></div><div class="hm" style="left:1053.5px;top:396.9px;width:272.5px;height:186.1px"><div class="hc" style="left:-10.69px;width:293.87px"><i class="x0 u0"></i><i class="x1 u0"></i><i class="x2 u0"></i><i class="x3 u1"></i><i class="x4 u2"></i><i class="x5 u3"></i><i class="x6 u4"></i><i class="x7 u5"></i><i class="x8 u6"></i><i class="x9 u7"></i><i class="x10 u8"></i><i class="x11 u9"></i><i class="x12 u10"></i><i class="x13 u11"></i><i class="x14 u12"></i><i class="x15 u13"></i><i class="x16 u14"></i><i class="x17 u15"></i><i class="x18 u16"></i><i class="x19 u17"></i><i class="x20 u18"></i><i class="x21 u19"></i><i class="x22 u20"></i><i class="x23 u21"></i><i class="x24 u22"></i><i class="x25 u23"></i><i class="x26 u24"></i><i class="x27 u25"></i><i class="x28 u26"></i><i class="x29 u27"></i><i class="x30 u28"></i><i class="x31 u29"></i><i class="x32 u30"></i><i class="x33 u31"></i><i class="x34 u32"></i><i class="x35 u33"></i><i class="x36 u34"></i><i class="x37 u35"></i><i class="x38 u36"></i><i class="x39 u37"></i><i class="x40 u38"></i><i class="x41 u39"></i><i class="x42 u40"></i><i class="x43 u41"></i><i class="x44 u42"></i><i class="x45 u43"></i><i class="x46 u44"></i><i class="x47 u45"></i><i class="x48 u46"></i><i class="x49 u47"></i><i class="x50 u48"></i><i class="x51 u49"></i><i class="x52 u50"></i><i class="x53 u50"></i><i class="x54 u50"></i></div></div><div class="hm" style="left:492.9px;top:39.5px;width:421.4px;height:20.8px;background:linear-gradient(90deg,#e2d9e2,#d7d7dd,#c4ced4,#acc2cc,#95b5c7,#81a6c3,#7297c1,#6887be,#6276ba,#5f64b5,#5e51ad,#5d3da1,#592a8f,#511b77,#45135c,#381145,#2f1436,#3a113a,#4a1342,#5f174a,#741e4f,#872750,#983550,#a64550,#b25652,#bb6958,#c27c63,#c89073,#cca389,#d1b6a3,#d8c7be,#dfd4d6,#e2d9e2)"></div>
<svg width="2164" height="666" viewBox="0 0 2164 666" fill="none">
<clipPath id="ce"><rect x="1438.3" y="124.9" width="272.5" height="186.1"/></clipPath>
<clipPath id="ck"><rect x="1438.3" y="396.9" width="272.5" height="186.1"/></clipPath>
<path d="M1435.9 307.0C1439.3 306.9 1450.1 306.9 1456.5 306.7C1462.9 306.4 1468.8 305.5 1474.2 305.5C1479.6 305.5 1484.5 306.4 1488.9 306.7C1493.3 307.0 1496.2 307.3 1500.7 307.2C1505.1 307.2 1511.0 306.6 1515.4 306.4C1519.8 306.2 1524.2 306.5 1527.2 306.1C1530.1 305.7 1531.1 305.6 1533.0 304.0C1535.0 302.4 1537.2 299.8 1538.9 296.6C1540.7 293.5 1541.9 290.3 1543.4 284.9C1544.8 279.5 1546.3 272.1 1547.8 264.3C1549.2 256.4 1550.7 247.1 1552.2 237.8C1553.7 228.4 1555.1 218.1 1556.6 208.3C1558.1 198.5 1559.5 187.7 1561.0 178.9C1562.5 170.1 1564.0 162.0 1565.4 155.3C1566.9 148.7 1568.4 142.9 1569.8 139.1C1571.3 135.4 1572.8 133.4 1574.3 133.0C1575.7 132.5 1577.2 133.4 1578.7 136.2C1580.2 138.9 1581.6 143.8 1583.1 149.4C1584.6 155.1 1586.0 163.2 1587.5 170.1C1589.0 176.9 1590.5 183.3 1591.9 190.7C1593.4 198.0 1594.9 206.4 1596.3 214.2C1597.8 222.1 1599.0 229.9 1600.8 237.8C1602.5 245.6 1604.7 254.7 1606.6 261.3C1608.6 267.9 1610.6 273.1 1612.5 277.5C1614.5 281.9 1616.0 284.9 1618.4 287.8C1620.9 290.8 1624.3 293.0 1627.3 295.2C1630.2 297.4 1633.1 299.3 1636.1 301.1C1639.0 302.8 1642.0 304.5 1644.9 305.5C1647.9 306.5 1650.3 307.2 1653.8 307.2C1657.2 307.3 1661.6 306.5 1665.5 306.1C1669.5 305.6 1673.4 304.5 1677.3 304.6C1681.2 304.6 1685.2 305.9 1689.1 306.4C1693.0 306.8 1696.9 307.2 1700.9 307.2C1704.8 307.3 1710.7 307.0 1712.6 307.0" stroke="#c57a63" stroke-width="3.7" stroke-linejoin="round" clip-path="url(#ce)"/>
<path d="M1435.9 307.0C1439.3 306.9 1450.1 306.9 1456.5 306.7C1462.9 306.5 1468.8 305.8 1474.2 305.8C1479.6 305.8 1484.5 306.4 1488.9 306.7C1493.3 306.9 1496.2 307.3 1500.7 307.2C1505.1 307.2 1511.2 306.6 1515.4 306.4C1519.6 306.2 1523.2 306.5 1526.0 306.1C1528.7 305.7 1529.9 305.6 1531.9 304.0C1533.8 302.4 1536.0 299.8 1537.8 296.6C1539.5 293.5 1540.7 290.3 1542.2 284.9C1543.6 279.5 1545.1 272.1 1546.6 264.3C1548.1 256.4 1549.5 247.1 1551.0 237.8C1552.5 228.4 1553.9 218.1 1555.4 208.3C1556.9 198.5 1558.4 187.7 1559.8 178.9C1561.3 170.1 1562.8 162.0 1564.3 155.3C1565.7 148.7 1567.0 143.0 1568.4 139.1C1569.7 135.3 1571.0 133.0 1572.5 132.4C1574.0 131.7 1575.6 132.5 1577.2 135.3C1578.8 138.2 1580.6 143.7 1582.2 149.4C1583.8 155.2 1585.4 163.2 1586.9 170.1C1588.5 176.9 1590.1 183.3 1591.6 190.7C1593.2 198.0 1594.8 206.4 1596.3 214.2C1597.9 222.1 1599.0 230.0 1600.8 237.8C1602.5 245.5 1604.7 254.2 1606.6 260.7C1608.6 267.3 1610.6 272.5 1612.5 276.9C1614.5 281.3 1616.0 284.2 1618.4 287.2C1620.9 290.2 1624.3 292.6 1627.3 294.9C1630.2 297.1 1633.1 299.0 1636.1 300.8C1639.0 302.5 1642.0 304.4 1644.9 305.5C1647.9 306.6 1650.3 307.1 1653.8 307.2C1657.2 307.4 1661.6 306.8 1665.5 306.4C1669.5 306.0 1673.4 304.9 1677.3 304.9C1681.2 304.9 1685.2 306.0 1689.1 306.4C1693.0 306.8 1696.9 307.2 1700.9 307.2C1704.8 307.3 1710.7 307.0 1712.6 307.0" stroke="#4b1c87" stroke-width="3.5" stroke-dasharray="2.8 6.1" stroke-dashoffset="0" stroke-linejoin="round" clip-path="url(#ce)"/>
<path d="M1435.9 579.0C1444.7 579.0 1478.6 579.1 1488.9 579.0C1499.2 578.9 1494.8 578.9 1497.7 578.4C1500.7 577.9 1503.6 577.1 1506.5 576.0C1509.5 574.9 1512.4 573.6 1515.4 571.6C1518.3 569.6 1521.5 566.9 1524.2 564.2C1526.9 561.5 1529.4 558.8 1531.6 555.4C1533.8 552.0 1535.7 547.8 1537.5 543.6C1539.2 539.5 1540.4 535.3 1541.9 530.4C1543.4 525.5 1544.8 520.3 1546.3 514.2C1547.8 508.0 1549.2 500.9 1550.7 493.6C1552.2 486.2 1553.7 477.9 1555.1 470.0C1556.6 462.2 1558.1 453.8 1559.5 446.5C1561.0 439.1 1562.5 431.7 1564.0 425.9C1565.4 420.0 1567.1 414.7 1568.4 411.1C1569.7 407.6 1570.8 405.8 1571.9 404.4C1573.0 402.9 1573.7 402.2 1574.9 402.3C1576.0 402.5 1577.3 403.0 1578.7 405.2C1580.1 407.5 1581.6 411.1 1583.1 415.6C1584.6 420.0 1586.0 425.6 1587.5 431.7C1589.0 437.9 1590.5 445.0 1591.9 452.4C1593.4 459.7 1594.9 468.1 1596.3 475.9C1597.8 483.8 1599.3 492.1 1600.8 499.5C1602.2 506.8 1603.7 513.7 1605.2 520.1C1606.6 526.5 1608.1 532.6 1609.6 537.7C1611.1 542.9 1612.3 546.8 1614.0 551.0C1615.7 555.2 1617.7 559.4 1619.9 562.8C1622.1 566.1 1624.6 568.8 1627.3 571.0C1630.0 573.2 1632.7 574.8 1636.1 576.0C1639.5 577.2 1643.9 577.9 1647.9 578.4C1651.8 578.9 1648.8 578.9 1659.6 579.0C1670.4 579.1 1703.8 579.0 1712.6 579.0" stroke="#c57a63" stroke-width="3.7" stroke-linejoin="round" clip-path="url(#ck)"/>
<path d="M1435.3 579.0C1444.1 579.0 1478.0 579.1 1488.3 579.0C1498.6 578.9 1494.2 578.9 1497.1 578.4C1500.1 577.9 1503.0 577.1 1506.0 576.0C1508.9 574.9 1511.8 573.6 1514.8 571.6C1517.7 569.6 1520.9 566.9 1523.6 564.2C1526.3 561.5 1528.8 558.8 1531.0 555.4C1533.2 552.0 1535.2 547.8 1536.9 543.6C1538.6 539.5 1539.8 535.3 1541.3 530.4C1542.8 525.5 1544.2 520.3 1545.7 514.2C1547.2 508.0 1548.6 500.9 1550.1 493.6C1551.6 486.2 1553.1 477.9 1554.5 470.0C1556.0 462.2 1557.5 453.8 1559.0 446.5C1560.4 439.1 1561.9 431.7 1563.4 425.9C1564.8 420.0 1566.5 414.7 1567.8 411.1C1569.1 407.6 1570.1 405.8 1571.3 404.4C1572.5 402.9 1573.6 402.2 1574.9 402.3C1576.1 402.5 1577.3 403.0 1578.7 405.2C1580.1 407.5 1581.6 411.1 1583.1 415.6C1584.6 420.0 1586.0 425.6 1587.5 431.7C1589.0 437.9 1590.5 445.0 1591.9 452.4C1593.4 459.7 1594.9 468.1 1596.3 475.9C1597.8 483.8 1599.3 492.1 1600.8 499.5C1602.2 506.8 1603.7 513.7 1605.2 520.1C1606.6 526.5 1608.1 532.6 1609.6 537.7C1611.1 542.9 1612.3 546.8 1614.0 551.0C1615.7 555.2 1617.7 559.4 1619.9 562.8C1622.1 566.1 1624.6 568.8 1627.3 571.0C1630.0 573.2 1632.7 574.8 1636.1 576.0C1639.5 577.2 1643.9 577.9 1647.9 578.4C1651.8 578.9 1648.8 578.9 1659.6 579.0C1670.4 579.1 1703.8 579.0 1712.6 579.0" stroke="#4b1c87" stroke-width="3.5" stroke-dasharray="2.8 6.1" stroke-dashoffset="0" stroke-linejoin="round" clip-path="url(#ck)"/>
<clipPath id="cf"><rect x="1807.4" y="124.9" width="272.5" height="186.1"/></clipPath>
<clipPath id="cl"><rect x="1807.4" y="396.9" width="272.5" height="186.1"/></clipPath>
<path d="M1807.4 124.9L1805.9 190.1L1814.7 192.1L1820.6 190.1L1829.4 193.0L1836.8 190.1L1839.7 171.5L1844.2 178.9L1848.6 180.4L1853.0 186.2L1857.4 181.8L1860.4 173.0L1864.2 162.7L1867.1 168.6L1870.1 148.0L1873.6 174.5L1877.1 170.1L1881.0 172.4L1883.9 164.2L1886.9 153.9L1889.8 161.2L1891.9 149.4L1893.0 125.3L1893.0 124.9Z" fill="#ecd5ce" stroke="none" clip-path="url(#cf)"/>
<path d="M2064.4 124.9L2064.4 125.3L2066.4 131.8L2069.4 140.6L2072.3 149.4L2076.8 158.3L2081.2 164.2L2079.9 124.9Z" fill="#ecd5ce" stroke="none" clip-path="url(#cf)"/>
<path d="M1805.9 307.0C1814.7 307.0 1847.1 307.1 1858.9 307.0C1870.7 306.8 1872.1 306.4 1876.5 306.1C1881.0 305.7 1882.9 306.0 1885.4 304.9C1887.8 303.8 1889.3 301.5 1891.3 299.6C1893.2 297.7 1895.2 295.3 1897.2 293.7C1899.1 292.1 1900.6 291.5 1903.0 290.2C1905.5 288.8 1909.4 287.1 1911.9 285.5C1914.3 283.8 1915.8 282.5 1917.8 280.5C1919.7 278.4 1921.7 276.8 1923.7 273.1C1925.6 269.4 1927.6 263.8 1929.5 258.4C1931.5 253.0 1933.5 247.1 1935.4 240.7C1937.4 234.3 1939.4 228.0 1941.3 220.1C1943.3 212.3 1945.2 202.4 1947.2 193.6C1949.2 184.8 1951.1 175.2 1953.1 167.1C1955.1 159.0 1957.3 150.5 1959.0 145.0C1960.7 139.5 1961.7 136.6 1963.4 134.1C1965.1 131.7 1967.3 130.2 1969.3 130.3C1971.3 130.4 1973.2 132.3 1975.2 134.7C1977.1 137.2 1978.9 140.9 1981.1 145.0C1983.3 149.2 1986.2 155.1 1988.4 159.7C1990.6 164.4 1992.4 167.8 1994.3 173.0C1996.3 178.1 1998.2 184.8 2000.2 190.7C2002.2 196.5 2004.1 202.4 2006.1 208.3C2008.1 214.2 2010.0 220.1 2012.0 226.0C2013.9 231.9 2015.9 238.3 2017.9 243.7C2019.8 249.1 2021.8 253.5 2023.8 258.4C2025.7 263.3 2027.7 268.7 2029.6 273.1C2031.6 277.5 2033.6 281.2 2035.5 284.9C2037.5 288.6 2039.5 292.2 2041.4 295.2C2043.4 298.1 2045.3 300.7 2047.3 302.5C2049.3 304.4 2051.2 305.6 2053.2 306.4C2055.2 307.2 2057.1 307.4 2059.1 307.2C2061.0 307.1 2063.5 305.9 2065.0 305.5C2066.4 305.1 2066.4 304.8 2067.9 304.9C2069.4 305.0 2071.6 305.7 2073.8 306.1C2076.0 306.5 2079.9 307.1 2081.2 307.2L2081.2 311.0L1805.9 311.0Z" fill="#f7f2f0" stroke="none" clip-path="url(#cf)"/>
<path d="M1805.9 307.0C1814.7 307.0 1847.1 307.1 1858.9 307.0C1870.7 306.8 1872.1 306.4 1876.5 306.1C1881.0 305.7 1882.9 306.0 1885.4 304.9C1887.8 303.8 1889.3 301.5 1891.3 299.6C1893.2 297.7 1895.2 295.3 1897.2 293.7C1899.1 292.1 1900.6 291.5 1903.0 290.2C1905.5 288.8 1909.4 287.1 1911.9 285.5C1914.3 283.8 1915.8 282.5 1917.8 280.5C1919.7 278.4 1921.7 276.8 1923.7 273.1C1925.6 269.4 1927.6 263.8 1929.5 258.4C1931.5 253.0 1933.5 247.1 1935.4 240.7C1937.4 234.3 1939.4 228.0 1941.3 220.1C1943.3 212.3 1945.2 202.4 1947.2 193.6C1949.2 184.8 1951.1 175.2 1953.1 167.1C1955.1 159.0 1957.3 150.5 1959.0 145.0C1960.7 139.5 1961.7 136.6 1963.4 134.1C1965.1 131.7 1967.3 130.2 1969.3 130.3C1971.3 130.4 1973.2 132.3 1975.2 134.7C1977.1 137.2 1978.9 140.9 1981.1 145.0C1983.3 149.2 1986.2 155.1 1988.4 159.7C1990.6 164.4 1992.4 167.8 1994.3 173.0C1996.3 178.1 1998.2 184.8 2000.2 190.7C2002.2 196.5 2004.1 202.4 2006.1 208.3C2008.1 214.2 2010.0 220.1 2012.0 226.0C2013.9 231.9 2015.9 238.3 2017.9 243.7C2019.8 249.1 2021.8 253.5 2023.8 258.4C2025.7 263.3 2027.7 268.7 2029.6 273.1C2031.6 277.5 2033.6 281.2 2035.5 284.9C2037.5 288.6 2039.5 292.2 2041.4 295.2C2043.4 298.1 2045.3 300.7 2047.3 302.5C2049.3 304.4 2051.2 305.6 2053.2 306.4C2055.2 307.2 2057.1 307.4 2059.1 307.2C2061.0 307.1 2063.5 305.9 2065.0 305.5C2066.4 305.1 2066.4 304.8 2067.9 304.9C2069.4 305.0 2071.6 305.7 2073.8 306.1C2076.0 306.5 2079.9 307.1 2081.2 307.2" stroke="#e2cdc1" stroke-width="2.4" stroke-linejoin="round" clip-path="url(#cf)"/>
<path d="M1873.4 125.5L1878.4 139.8L1882 125.5Z" fill="#fff"/>
<path d="M1841.2 121.5C1841.5 122.2 1843.4 127.4 1844.2 128.8C1844.9 130.3 1847.7 135.0 1848.6 136.2C1849.5 137.4 1852.3 139.8 1853.0 140.6C1853.7 141.4 1855.2 144.3 1855.9 144.1C1856.7 144.0 1859.6 139.5 1860.4 139.1C1861.1 138.7 1862.6 139.6 1863.3 140.0C1864.0 140.5 1866.4 144.2 1867.1 143.6C1867.9 142.9 1870.0 132.7 1870.7 133.2C1871.3 133.8 1873.0 147.4 1873.6 149.4C1874.3 151.4 1876.4 153.3 1877.1 153.3C1877.9 153.3 1880.3 150.7 1881.0 149.4C1881.6 148.2 1883.4 142.4 1883.9 140.6C1884.4 138.8 1885.7 131.6 1886.3 131.2C1886.9 130.7 1889.2 134.1 1889.8 136.2C1890.4 138.3 1891.4 148.4 1891.9 152.4C1892.3 156.4 1893.7 171.5 1894.2 175.9C1894.7 180.4 1896.6 193.0 1897.2 196.5C1897.7 200.1 1899.5 208.9 1900.1 211.3C1900.7 213.6 1902.4 218.7 1903.0 220.1C1903.7 221.5 1905.8 224.7 1906.6 225.4C1907.4 226.1 1910.3 227.1 1911.3 227.2C1912.3 227.2 1915.1 226.5 1916.3 226.0C1917.5 225.5 1922.0 222.9 1923.7 222.2C1925.3 221.4 1930.7 219.1 1932.5 218.6C1934.3 218.1 1939.3 217.3 1941.3 217.2C1943.4 217.0 1950.2 217.1 1953.1 217.2C1956.0 217.2 1967.2 217.9 1970.8 218.0C1974.3 218.2 1985.5 218.2 1988.4 218.3C1991.4 218.5 1998.1 219.1 2000.2 219.5C2002.3 219.9 2007.3 221.9 2009.0 222.5C2010.8 223.0 2016.1 224.8 2017.9 225.4C2019.6 226.0 2025.2 227.8 2026.7 228.1C2028.2 228.3 2031.4 228.4 2032.6 228.1C2033.8 227.7 2037.3 225.6 2038.5 224.5C2039.7 223.4 2043.2 219.2 2044.4 217.2C2045.5 215.1 2049.1 207.1 2050.3 203.9C2051.4 200.7 2055.1 188.7 2056.1 184.8C2057.2 180.8 2059.8 168.0 2060.6 164.2C2061.3 160.3 2062.9 150.0 2063.5 146.5C2064.1 143.0 2065.9 131.8 2066.4 128.8C2066.9 125.9 2068.3 118.2 2068.5 117.1" stroke="#c57a63" stroke-width="4.3" stroke-linejoin="round" clip-path="url(#cf)"/>
<path d="M2073.8 117.1C2074.1 118.4 2075.0 122.8 2075.6 125.3C2076.2 127.8 2076.7 129.4 2077.3 131.8C2078.0 134.1 2078.8 137.0 2079.7 139.4C2080.6 141.9 2082.1 145.3 2082.6 146.5" stroke="#c57a63" stroke-width="4.3" stroke-linejoin="round" clip-path="url(#cf)"/>
<path d="M1807.1 231.9C1807.3 235.3 1807.9 243.7 1808.2 252.5C1808.6 261.3 1808.9 275.5 1809.1 284.9C1809.4 294.2 1809.6 304.5 1809.7 308.4" stroke="#4b1c87" stroke-width="3.5" stroke-dasharray="3.3 5.7" stroke-dashoffset="0" stroke-linejoin="round" clip-path="url(#cf)"/>
<path d="M1874.2 308.4C1874.4 307.9 1875.5 305.4 1876.0 304.0C1876.4 302.6 1877.5 297.0 1878.0 296.6C1878.5 296.3 1879.6 300.0 1880.1 301.1C1880.6 302.2 1882.0 306.1 1882.4 306.1C1882.9 306.1 1883.9 302.3 1884.2 301.1C1884.5 299.8 1885.0 297.8 1885.4 295.2C1885.7 292.6 1886.7 282.9 1887.1 279.0C1887.6 275.0 1888.4 265.4 1888.9 261.3C1889.4 257.2 1890.7 246.9 1891.3 243.7C1891.9 240.4 1893.4 235.4 1894.2 233.4C1895.1 231.3 1897.6 227.1 1898.6 226.0C1899.7 224.9 1901.8 224.0 1903.0 223.6C1904.2 223.3 1907.2 223.2 1908.9 223.0C1910.7 222.9 1915.7 222.8 1917.8 222.5C1919.8 222.1 1924.5 220.7 1926.6 220.1C1928.7 219.6 1933.4 218.2 1935.4 217.7C1937.5 217.3 1942.2 216.7 1944.3 216.6C1946.3 216.4 1950.0 216.4 1953.1 216.6C1956.2 216.7 1966.6 217.5 1970.8 217.7C1974.9 218.0 1985.0 218.1 1988.4 218.3C1991.9 218.5 1997.8 219.0 2000.2 219.5C2002.6 220.0 2007.0 221.8 2009.0 222.5C2011.1 223.1 2015.8 224.7 2017.9 225.4C2019.9 226.1 2025.0 227.7 2026.7 228.1C2028.4 228.4 2031.2 228.9 2032.6 228.3C2034.0 227.8 2037.3 224.7 2038.5 223.0C2039.7 221.4 2041.9 216.8 2042.9 214.2C2043.9 211.6 2046.4 204.1 2047.3 201.0C2048.2 197.9 2050.1 191.0 2050.8 187.7C2051.6 184.5 2053.2 175.7 2053.8 173.0C2054.4 170.2 2055.6 163.5 2056.1 164.2C2056.7 164.8 2057.9 175.1 2058.5 178.9C2059.1 182.7 2060.7 193.1 2061.4 196.5C2062.2 200.0 2064.2 206.0 2065.0 208.3C2065.8 210.7 2067.6 216.6 2068.5 216.6C2069.4 216.6 2071.5 210.7 2072.3 208.3C2073.1 206.0 2074.6 199.1 2075.3 196.5C2076.0 194.0 2077.5 188.0 2078.2 186.2C2078.9 184.5 2080.8 182.3 2081.2 181.8" stroke="#4b1c87" stroke-width="3.5" stroke-dasharray="3.3 5.7" stroke-dashoffset="0" stroke-linejoin="round" clip-path="url(#cf)"/>
<path d="M1807.4 396.9L1805.9 440.6L1810.3 443.5L1814.7 449.4L1818.3 446.5L1822.1 442.1L1825.9 450.9L1829.4 440.6L1833.9 449.4L1836.8 433.2L1839.7 421.4L1844.2 420.0L1847.1 428.8L1850.1 430.3L1853.0 424.4L1855.9 415.6L1858.9 403.8L1860.1 397.3L1860.1 396.9Z" fill="#ecd5ce" stroke="none" clip-path="url(#cl)"/>
<path d="M2040.8 396.9L2040.8 397.3L2044.4 403.8L2050.3 412.6L2056.1 427.3L2060.6 433.2L2065.0 430.3L2069.4 424.4L2073.8 427.3L2081.2 436.2L2079.9 396.9Z" fill="#ecd5ce" stroke="none" clip-path="url(#cl)"/>
<path d="M2016.4 492.1L2022.3 480.3L2028.2 462.7L2034.1 439.1L2038.5 418.5L2041.4 403.8L2042.9 397.3L2047.3 397.3L2044.4 409.7L2039.9 430.3L2035.5 450.9L2029.6 471.5L2023.8 486.2L2019.3 495.0Z" fill="#ecd5ce" stroke="none" clip-path="url(#cl)"/>
<path d="M1805.9 579.2C1814.7 579.2 1848.6 579.6 1858.9 579.2C1869.2 578.9 1865.3 577.4 1867.7 576.9C1870.2 576.4 1871.6 575.9 1873.6 576.0C1875.6 576.1 1877.5 577.3 1879.5 577.5C1881.5 577.6 1883.7 577.9 1885.4 576.9C1887.1 575.9 1888.3 574.4 1889.8 571.6C1891.3 568.7 1892.7 564.7 1894.2 559.8C1895.7 554.9 1897.2 549.0 1898.6 542.2C1900.1 535.3 1901.6 526.9 1903.0 518.6C1904.5 510.3 1906.0 500.9 1907.5 492.1C1908.9 483.3 1910.4 473.9 1911.9 465.6C1913.4 457.3 1914.8 448.9 1916.3 442.1C1917.8 435.2 1919.2 429.5 1920.7 424.4C1922.2 419.2 1923.7 414.5 1925.1 411.1C1926.6 407.8 1927.8 405.9 1929.5 404.4C1931.3 402.8 1933.5 401.3 1935.4 401.7C1937.4 402.1 1939.6 403.9 1941.3 406.7C1943.0 409.5 1944.3 413.8 1945.7 418.5C1947.2 423.2 1948.7 428.8 1950.2 434.7C1951.6 440.6 1953.1 447.2 1954.6 453.8C1956.0 460.5 1957.5 467.6 1959.0 474.4C1960.5 481.3 1961.9 488.2 1963.4 495.0C1964.9 501.9 1966.3 509.3 1967.8 515.7C1969.3 522.0 1970.8 527.9 1972.2 533.3C1973.7 538.7 1974.9 543.4 1976.6 548.0C1978.4 552.7 1980.6 557.9 1982.5 561.3C1984.5 564.7 1986.0 566.4 1988.4 568.6C1990.9 570.9 1994.3 573.1 1997.3 574.5C2000.2 576.0 2002.7 576.7 2006.1 577.5C2009.5 578.2 2013.0 578.7 2017.9 579.0C2022.8 579.2 2031.6 579.6 2035.5 579.2C2039.5 578.9 2039.5 577.0 2041.4 576.9C2043.4 576.8 2044.9 578.4 2047.3 578.7C2049.8 578.9 2050.5 578.3 2056.1 578.4C2061.8 578.5 2077.0 579.1 2081.2 579.2L2081.2 583.0L1805.9 583.0Z" fill="#f7f2f0" stroke="none" clip-path="url(#cl)"/>
<path d="M1805.9 579.2C1814.7 579.2 1848.6 579.6 1858.9 579.2C1869.2 578.9 1865.3 577.4 1867.7 576.9C1870.2 576.4 1871.6 575.9 1873.6 576.0C1875.6 576.1 1877.5 577.3 1879.5 577.5C1881.5 577.6 1883.7 577.9 1885.4 576.9C1887.1 575.9 1888.3 574.4 1889.8 571.6C1891.3 568.7 1892.7 564.7 1894.2 559.8C1895.7 554.9 1897.2 549.0 1898.6 542.2C1900.1 535.3 1901.6 526.9 1903.0 518.6C1904.5 510.3 1906.0 500.9 1907.5 492.1C1908.9 483.3 1910.4 473.9 1911.9 465.6C1913.4 457.3 1914.8 448.9 1916.3 442.1C1917.8 435.2 1919.2 429.5 1920.7 424.4C1922.2 419.2 1923.7 414.5 1925.1 411.1C1926.6 407.8 1927.8 405.9 1929.5 404.4C1931.3 402.8 1933.5 401.3 1935.4 401.7C1937.4 402.1 1939.6 403.9 1941.3 406.7C1943.0 409.5 1944.3 413.8 1945.7 418.5C1947.2 423.2 1948.7 428.8 1950.2 434.7C1951.6 440.6 1953.1 447.2 1954.6 453.8C1956.0 460.5 1957.5 467.6 1959.0 474.4C1960.5 481.3 1961.9 488.2 1963.4 495.0C1964.9 501.9 1966.3 509.3 1967.8 515.7C1969.3 522.0 1970.8 527.9 1972.2 533.3C1973.7 538.7 1974.9 543.4 1976.6 548.0C1978.4 552.7 1980.6 557.9 1982.5 561.3C1984.5 564.7 1986.0 566.4 1988.4 568.6C1990.9 570.9 1994.3 573.1 1997.3 574.5C2000.2 576.0 2002.7 576.7 2006.1 577.5C2009.5 578.2 2013.0 578.7 2017.9 579.0C2022.8 579.2 2031.6 579.6 2035.5 579.2C2039.5 578.9 2039.5 577.0 2041.4 576.9C2043.4 576.8 2044.9 578.4 2047.3 578.7C2049.8 578.9 2050.5 578.3 2056.1 578.4C2061.8 578.5 2077.0 579.1 2081.2 579.2" stroke="#e2cdc1" stroke-width="2.4" stroke-linejoin="round" clip-path="url(#cl)"/>
<path d="M1804.4 400.8C1804.7 401.0 1806.5 401.9 1807.1 402.3C1807.7 402.7 1809.5 404.7 1810.3 405.2C1811.1 405.8 1813.9 408.5 1814.7 408.2C1815.5 407.9 1817.5 403.0 1818.3 402.3C1819.0 401.6 1821.3 400.1 1822.1 400.8C1822.9 401.6 1825.6 409.5 1826.5 409.7C1827.4 409.8 1830.0 402.5 1830.9 402.3C1831.8 402.2 1834.4 408.3 1835.3 408.2C1836.2 408.0 1838.9 401.7 1839.7 400.8C1840.6 399.9 1843.3 399.4 1844.2 399.4C1845.0 399.3 1847.8 399.8 1848.6 400.2C1849.3 400.7 1850.9 404.1 1851.5 403.8C1852.1 403.5 1854.0 398.8 1854.5 397.3C1854.9 395.8 1855.8 389.9 1855.9 389.1" stroke="#c57a63" stroke-width="4.3" stroke-linejoin="round" clip-path="url(#cl)"/>
<path d="M1859.8 389.1C1859.9 390.4 1860.1 393.9 1860.4 397.3C1860.6 400.7 1860.7 404.2 1861.2 409.7C1861.7 415.2 1862.5 422.9 1863.3 430.3C1864.1 437.6 1865.0 446.0 1866.2 453.8C1867.5 461.7 1869.2 470.8 1870.7 477.4C1872.1 484.0 1873.6 489.6 1875.1 493.6C1876.5 497.5 1878.0 499.3 1879.5 500.9C1881.0 502.6 1882.4 503.0 1883.9 503.3C1885.4 503.5 1886.1 503.3 1888.3 502.4C1890.5 501.5 1894.2 499.5 1897.2 498.0C1900.1 496.5 1903.0 494.8 1906.0 493.6C1908.9 492.4 1911.4 491.6 1914.8 490.9C1918.3 490.3 1922.2 489.9 1926.6 489.7C1931.0 489.5 1936.9 489.5 1941.3 489.7C1945.7 490.0 1949.2 490.6 1953.1 491.2C1957.0 491.9 1960.9 492.5 1964.9 493.6C1968.8 494.6 1972.7 496.1 1976.6 497.4C1980.6 498.7 1985.0 500.4 1988.4 501.5C1991.9 502.6 1994.8 503.6 1997.3 503.9C1999.7 504.2 2001.2 503.9 2003.1 503.3C2005.1 502.7 2007.1 501.9 2009.0 500.1C2011.0 498.2 2013.0 495.4 2014.9 492.1C2016.9 488.8 2018.8 485.2 2020.8 480.3C2022.8 475.4 2024.7 469.5 2026.7 462.7C2028.7 455.8 2030.9 446.5 2032.6 439.1C2034.3 431.7 2035.8 424.4 2037.0 418.5C2038.2 412.6 2039.2 407.3 2039.9 403.8C2040.7 400.2 2041.0 399.8 2041.4 397.3C2041.9 394.8 2042.4 390.4 2042.6 389.1" stroke="#c57a63" stroke-width="4.3" stroke-linejoin="round" clip-path="url(#cl)"/>
<path d="M2056.7 389.1C2056.8 389.8 2057.4 395.2 2057.8 396.8C2058.1 398.4 2059.5 402.9 2060.0 404.6C2060.4 406.3 2061.6 412.2 2062.2 413.4C2062.9 414.6 2066.0 416.5 2066.7 416.2C2067.5 415.9 2069.4 410.4 2070.1 410.0C2070.8 409.6 2072.7 412.3 2073.4 412.3C2074.0 412.4 2076.2 411.2 2076.8 410.6C2077.3 410.0 2078.5 407.4 2079.1 406.6C2079.7 405.8 2082.3 402.7 2082.6 402.3" stroke="#c57a63" stroke-width="4.3" stroke-linejoin="round" clip-path="url(#cl)"/>
<path d="M1825.0 580.4C1825.1 578.5 1825.2 571.7 1825.6 568.6C1826.0 565.6 1826.5 562.7 1827.4 562.2C1828.3 561.7 1829.8 563.2 1830.9 565.7C1832.0 568.3 1833.1 574.8 1833.9 577.5C1834.6 580.2 1835.1 581.2 1835.3 581.9" stroke="#4b1c87" stroke-width="3.5" stroke-dasharray="3.3 5.7" stroke-dashoffset="0" stroke-linejoin="round" clip-path="url(#cl)"/>
<path d="M1843.6 581.9C1843.8 581.1 1844.3 576.9 1844.8 576.9C1845.2 576.9 1846.2 581.1 1846.5 581.9" stroke="#4b1c87" stroke-width="3.5" stroke-dasharray="3.3 5.7" stroke-dashoffset="0" stroke-linejoin="round" clip-path="url(#cl)"/>
<path d="M1860.1 581.9C1860.2 579.7 1860.9 567.4 1861.2 562.8C1861.6 558.1 1862.8 546.3 1863.3 542.2C1863.8 538.0 1864.8 530.9 1865.4 527.4C1865.9 524.0 1867.5 515.5 1868.3 512.7C1869.1 510.0 1871.2 505.4 1872.1 503.9C1873.1 502.3 1875.3 500.1 1876.5 499.5C1877.8 498.8 1880.4 498.3 1882.4 498.0C1884.5 497.6 1891.5 497.0 1894.2 496.5C1897.0 496.0 1903.6 494.2 1906.0 493.6C1908.4 492.9 1912.4 491.4 1914.8 490.9C1917.2 490.5 1923.5 489.9 1926.6 489.7C1929.7 489.6 1938.2 489.6 1941.3 489.7C1944.4 489.9 1950.3 490.8 1953.1 491.2C1955.8 491.7 1962.1 492.9 1964.9 493.6C1967.6 494.3 1973.9 496.5 1976.6 497.4C1979.4 498.3 1986.0 500.8 1988.4 501.5C1990.8 502.3 1995.5 503.7 1997.3 503.9C1999.0 504.1 2001.9 503.8 2003.1 503.3C2004.3 502.8 2006.5 501.1 2007.6 499.5C2008.6 497.8 2010.9 492.1 2012.0 489.2C2013.0 486.2 2015.4 477.9 2016.4 474.4C2017.4 471.0 2019.6 463.6 2020.4 459.8C2021.3 456.0 2023.2 445.0 2023.8 441.8C2024.5 438.7 2025.6 434.9 2026.0 432.8C2026.5 430.7 2027.5 425.8 2027.7 423.8C2028.0 421.8 2027.9 417.3 2028.3 415.3C2028.8 413.3 2031.1 407.1 2031.7 406.9C2032.4 406.7 2033.5 411.8 2033.9 413.6C2034.4 415.5 2035.1 420.6 2035.6 422.7C2036.1 424.8 2037.5 430.2 2038.4 431.7C2039.3 433.2 2042.6 436.1 2043.5 435.6C2044.5 435.1 2045.7 429.2 2046.3 427.2C2046.9 425.2 2047.9 419.8 2048.6 418.2C2049.4 416.6 2051.3 414.5 2052.5 413.6C2053.7 412.7 2057.6 412.1 2058.7 410.8C2059.9 409.5 2062.0 404.0 2062.6 402.4C2063.3 400.8 2064.0 398.0 2064.3 396.8C2064.7 395.6 2065.4 392.6 2065.6 392.0" stroke="#4b1c87" stroke-width="3.5" stroke-dasharray="3.3 5.7" stroke-dashoffset="0" stroke-linejoin="round" clip-path="url(#cl)"/>
<circle cx="1897.7" cy="552.2" r="5.1" stroke="#000" stroke-width="2.1"/>
<path d="M1896.0 547.2C1888.3 541.6 1878.0 543.3 1872.1 543.3" stroke="#000" stroke-width="2.1"/>
<path d="M1866.8 543.3l10.5 -5.2l-2.6 5.2l2.6 5.2z" fill="#000"/>
<circle cx="2015.5" cy="482.4" r="5.1" stroke="#000" stroke-width="2.1"/>
<path d="M2019.0 486.2C2025.2 492.1 2035.5 491.2 2042.9 491.2" stroke="#000" stroke-width="2.1"/>
<path d="M2048.5 491.2l-10.5 -5.2l2.6 5.2l-2.6 5.2z" fill="#000"/>
<rect x="492.9" y="39.5" width="421.4" height="20.8" fill="none" stroke="#262626" stroke-width="1.5"/>
<path d="M492.9 39.5L492.9 27.5" stroke="#262626" stroke-width="1.5"/>
<text x="485.02" y="17.30" font-size="23" textLength="15.72" lengthAdjust="spacingAndGlyphs">0</text>
<path d="M703.6 39.5L703.6 27.5" stroke="#262626" stroke-width="1.5"/>
<text x="685.72" y="17.30" font-size="23" textLength="35.76" lengthAdjust="spacingAndGlyphs">0.5</text>
<path d="M914.3 39.5L914.3 27.5" stroke="#262626" stroke-width="1.5"/>
<text x="898.27" y="17.30" font-size="23" textLength="31.23" lengthAdjust="spacingAndGlyphs">1.0</text>
<text x="1543.14" y="41.90" font-size="27.5" textLength="66.51" lengthAdjust="spacingAndGlyphs">TDSE</text>
<path d="M1621 33.7H1679" stroke="#4b1c87" stroke-width="3.6" stroke-dasharray="3 4.77"/>
<text x="1714.50" y="41.90" font-size="27.5" textLength="194.04" lengthAdjust="spacingAndGlyphs">TDSE Retrieved</text>
<path d="M1918 33.9H1974.7" stroke="#c57a63" stroke-width="4"/>
<text x="81.53" y="117.30" font-size="38" font-weight="bold" textLength="21.72" lengthAdjust="spacingAndGlyphs" stroke="#000" stroke-width="0.8" stroke-linejoin="round">a</text>
<text x="403.72" y="117.30" font-size="38" font-weight="bold" textLength="27.10" lengthAdjust="spacingAndGlyphs" stroke="#000" stroke-width="0.8" stroke-linejoin="round">b</text>
<text x="728.82" y="117.30" font-size="38" font-weight="bold" textLength="23.39" lengthAdjust="spacingAndGlyphs" stroke="#000" stroke-width="0.8" stroke-linejoin="round">c</text>
<text x="1052.66" y="117.30" font-size="38" font-weight="bold" textLength="26.61" lengthAdjust="spacingAndGlyphs" stroke="#000" stroke-width="0.8" stroke-linejoin="round">d</text>
<text x="1437.43" y="117.30" font-size="38" font-weight="bold" textLength="24.67" lengthAdjust="spacingAndGlyphs" stroke="#000" stroke-width="0.8" stroke-linejoin="round">e</text>
<text x="1807.54" y="117.30" font-size="38" font-weight="bold" textLength="14.37" lengthAdjust="spacingAndGlyphs" stroke="#000" stroke-width="0.8" stroke-linejoin="round">f</text>
<rect x="81.8" y="124.9" width="272.5" height="186.1" fill="none" stroke="#262626" stroke-width="1.5"/>
<text x="154.95" y="113.80" font-size="27.5" textLength="126.68" lengthAdjust="spacingAndGlyphs">Measured</text>
<path d="M81.8 124.9L70.8 124.9" stroke="#262626" stroke-width="1.5"/>
<text x="46.75" y="135.10" font-size="23" textLength="13.55" lengthAdjust="spacingAndGlyphs">4</text>
<path d="M81.8 217.9L70.8 217.9" stroke="#262626" stroke-width="1.5"/>
<text x="46.28" y="228.15" font-size="23" textLength="14.67" lengthAdjust="spacingAndGlyphs">2</text>
<path d="M81.8 311.0L70.8 311.0" stroke="#262626" stroke-width="1.5"/>
<text x="44.97" y="321.20" font-size="23" textLength="15.72" lengthAdjust="spacingAndGlyphs">0</text>
<text transform="translate(20.40,294.95) rotate(-90)" font-size="27.5" textLength="148.76" lengthAdjust="spacingAndGlyphs">Energy (eV)</text>
<rect x="405.7" y="124.9" width="272.5" height="186.1" fill="none" stroke="#262626" stroke-width="1.5"/>
<text x="453.13" y="113.80" font-size="27.5" textLength="177.53" lengthAdjust="spacingAndGlyphs">Exp. retrieved</text>
<rect x="729.6" y="124.9" width="272.5" height="186.1" fill="none" stroke="#262626" stroke-width="1.5"/>
<text x="832.74" y="113.80" font-size="27.5" textLength="66.92" lengthAdjust="spacingAndGlyphs">TDSE</text>
<rect x="1053.5" y="124.9" width="272.5" height="186.1" fill="none" stroke="#262626" stroke-width="1.5"/>
<text x="1091.39" y="113.80" font-size="27.5" textLength="195.06" lengthAdjust="spacingAndGlyphs">TDSE Retrieved</text>
<rect x="1438.3" y="124.9" width="272.5" height="186.4" fill="none" stroke="#3a3a3a" stroke-width="1.4"/>
<path d="M1438.3 130.4L1426.3 130.4" stroke="#262626" stroke-width="1.5"/>
<text x="1405.52" y="139.80" font-size="23" textLength="9.52" lengthAdjust="spacingAndGlyphs">1</text>
<path d="M1438.3 307.9L1426.3 307.9" stroke="#262626" stroke-width="1.5"/>
<text x="1399.87" y="317.60" font-size="23" textLength="15.72" lengthAdjust="spacingAndGlyphs">0</text>
<text transform="translate(1385.40,295.59) rotate(-90)" font-size="27.5" textLength="151.06" lengthAdjust="spacingAndGlyphs">Power (a.u.)</text>
<text x="1621.69" y="147.70" font-size="26.0" font-style="italic" style="font-family:'Liberation Serif',serif" textLength="10.76" lengthAdjust="spacingAndGlyphs">ε</text>
<text x="1635.79" y="147.70" font-size="23" textLength="11.80" lengthAdjust="spacingAndGlyphs">=</text>
<text x="1653.59" y="147.70" font-size="23" textLength="51.65" lengthAdjust="spacingAndGlyphs">4.6%</text>
<rect x="1807.4" y="124.9" width="272.5" height="186.1" fill="none" stroke="#000" stroke-width="1.8"/>
<path d="M1807.4 130.4L1795.4 130.4" stroke="#262626" stroke-width="1.5"/>
<text x="1774.62" y="139.80" font-size="23" textLength="9.52" lengthAdjust="spacingAndGlyphs">1</text>
<path d="M1807.4 307.9L1795.4 307.9" stroke="#262626" stroke-width="1.5"/>
<text x="1768.97" y="317.60" font-size="23" textLength="15.72" lengthAdjust="spacingAndGlyphs">0</text>
<text transform="translate(1755.40,288.42) rotate(-90)" font-size="27.5" textLength="137.94" lengthAdjust="spacingAndGlyphs">Amp. (a.u.)</text>
<path d="M2079.9 135.1L2091.9 135.1" stroke="#262626" stroke-width="1.5"/>
<text x="2100.92" y="143.02" font-size="23" textLength="14.08" lengthAdjust="spacingAndGlyphs">8</text>
<path d="M2079.9 176.6L2091.9 176.6" stroke="#262626" stroke-width="1.5"/>
<text x="2101.45" y="184.46" font-size="23" textLength="13.55" lengthAdjust="spacingAndGlyphs">4</text>
<path d="M2079.9 218.0L2091.9 218.0" stroke="#262626" stroke-width="1.5"/>
<text x="2100.87" y="225.90" font-size="23" textLength="15.72" lengthAdjust="spacingAndGlyphs">0</text>
<path d="M2079.9 259.4L2091.9 259.4" stroke="#262626" stroke-width="1.5"/>
<text x="2100.87" y="267.34" font-size="23" textLength="25.75" lengthAdjust="spacingAndGlyphs">−4</text>
<path d="M2079.9 300.9L2091.9 300.9" stroke="#262626" stroke-width="1.5"/>
<text x="2100.85" y="308.78" font-size="23" textLength="26.12" lengthAdjust="spacingAndGlyphs">−8</text>
<text transform="translate(2140.90,147.30) rotate(90)" font-size="27.5" textLength="142.45" lengthAdjust="spacingAndGlyphs">Phase (rad)</text>
<text x="80.94" y="379.90" font-size="38" font-weight="bold" textLength="26.85" lengthAdjust="spacingAndGlyphs" stroke="#000" stroke-width="0.8" stroke-linejoin="round">g</text>
<text x="403.54" y="379.90" font-size="38" font-weight="bold" textLength="26.73" lengthAdjust="spacingAndGlyphs" stroke="#000" stroke-width="0.8" stroke-linejoin="round">h</text>
<text x="726.22" y="379.90" font-size="38" font-weight="bold" textLength="16.97" lengthAdjust="spacingAndGlyphs" stroke="#000" stroke-width="0.8" stroke-linejoin="round">i</text>
<text x="1054.53" y="379.90" font-size="38" font-weight="bold" textLength="13.61" lengthAdjust="spacingAndGlyphs" stroke="#000" stroke-width="0.8" stroke-linejoin="round">j</text>
<text x="1436.11" y="379.90" font-size="38" font-weight="bold" textLength="24.53" lengthAdjust="spacingAndGlyphs" stroke="#000" stroke-width="0.8" stroke-linejoin="round">k</text>
<text x="1804.33" y="379.90" font-size="38" font-weight="bold" textLength="15.76" lengthAdjust="spacingAndGlyphs" stroke="#000" stroke-width="0.8" stroke-linejoin="round">l</text>
<rect x="81.8" y="396.9" width="272.5" height="186.1" fill="none" stroke="#262626" stroke-width="1.5"/>
<path d="M81.8 396.9L70.8 396.9" stroke="#262626" stroke-width="1.5"/>
<text x="46.75" y="407.10" font-size="23" textLength="13.55" lengthAdjust="spacingAndGlyphs">4</text>
<path d="M81.8 489.9L70.8 489.9" stroke="#262626" stroke-width="1.5"/>
<text x="46.28" y="500.15" font-size="23" textLength="14.67" lengthAdjust="spacingAndGlyphs">2</text>
<path d="M81.8 583.0L70.8 583.0" stroke="#262626" stroke-width="1.5"/>
<text x="44.97" y="593.20" font-size="23" textLength="15.72" lengthAdjust="spacingAndGlyphs">0</text>
<text transform="translate(20.40,566.95) rotate(-90)" font-size="27.5" textLength="148.76" lengthAdjust="spacingAndGlyphs">Energy (eV)</text>
<path d="M81.8 583.0L81.8 594.0" stroke="#262626" stroke-width="1.5"/>
<text x="69.10" y="620.00" font-size="23" textLength="25.19" lengthAdjust="spacingAndGlyphs">−5</text>
<path d="M218.1 583.0L218.1 594.0" stroke="#262626" stroke-width="1.5"/>
<text x="210.17" y="620.00" font-size="23" textLength="15.72" lengthAdjust="spacingAndGlyphs">0</text>
<path d="M354.3 583.0L354.3 594.0" stroke="#262626" stroke-width="1.5"/>
<text x="347.64" y="620.00" font-size="23" textLength="13.35" lengthAdjust="spacingAndGlyphs">5</text>
<text x="158.13" y="655.90" font-size="27.5" textLength="120.10" lengthAdjust="spacingAndGlyphs">Delay (fs)</text>
<rect x="405.7" y="396.9" width="272.5" height="186.1" fill="none" stroke="#262626" stroke-width="1.5"/>
<path d="M405.7 583.0L405.7 594.0" stroke="#262626" stroke-width="1.5"/>
<text x="393.00" y="620.00" font-size="23" textLength="25.19" lengthAdjust="spacingAndGlyphs">−5</text>
<path d="M542.0 583.0L542.0 594.0" stroke="#262626" stroke-width="1.5"/>
<text x="534.07" y="620.00" font-size="23" textLength="15.72" lengthAdjust="spacingAndGlyphs">0</text>
<path d="M678.2 583.0L678.2 594.0" stroke="#262626" stroke-width="1.5"/>
<text x="671.54" y="620.00" font-size="23" textLength="13.35" lengthAdjust="spacingAndGlyphs">5</text>
<text x="482.03" y="655.90" font-size="27.5" textLength="120.10" lengthAdjust="spacingAndGlyphs">Delay (fs)</text>
<rect x="729.6" y="396.9" width="272.5" height="186.1" fill="none" stroke="#262626" stroke-width="1.5"/>
<path d="M729.6 583.0L729.6 594.0" stroke="#262626" stroke-width="1.5"/>
<text x="716.90" y="620.00" font-size="23" textLength="25.19" lengthAdjust="spacingAndGlyphs">−5</text>
<path d="M865.9 583.0L865.9 594.0" stroke="#262626" stroke-width="1.5"/>
<text x="857.97" y="620.00" font-size="23" textLength="15.72" lengthAdjust="spacingAndGlyphs">0</text>
<path d="M1002.1 583.0L1002.1 594.0" stroke="#262626" stroke-width="1.5"/>
<text x="995.44" y="620.00" font-size="23" textLength="13.35" lengthAdjust="spacingAndGlyphs">5</text>
<text x="805.93" y="655.90" font-size="27.5" textLength="120.10" lengthAdjust="spacingAndGlyphs">Delay (fs)</text>
<rect x="1053.5" y="396.9" width="272.5" height="186.1" fill="none" stroke="#262626" stroke-width="1.5"/>
<path d="M1053.5 583.0L1053.5 594.0" stroke="#262626" stroke-width="1.5"/>
<text x="1040.80" y="620.00" font-size="23" textLength="25.19" lengthAdjust="spacingAndGlyphs">−5</text>
<path d="M1189.8 583.0L1189.8 594.0" stroke="#262626" stroke-width="1.5"/>
<text x="1181.87" y="620.00" font-size="23" textLength="15.72" lengthAdjust="spacingAndGlyphs">0</text>
<path d="M1326.0 583.0L1326.0 594.0" stroke="#262626" stroke-width="1.5"/>
<text x="1319.34" y="620.00" font-size="23" textLength="13.35" lengthAdjust="spacingAndGlyphs">5</text>
<text x="1129.83" y="655.90" font-size="27.5" textLength="120.10" lengthAdjust="spacingAndGlyphs">Delay (fs)</text>
<rect x="1438.3" y="396.9" width="272.5" height="186.4" fill="none" stroke="#000" stroke-width="1.6"/>
<path d="M1438.3 402.4L1426.3 402.4" stroke="#262626" stroke-width="1.5"/>
<text x="1405.52" y="411.80" font-size="23" textLength="9.52" lengthAdjust="spacingAndGlyphs">1</text>
<path d="M1438.3 579.9L1426.3 579.9" stroke="#262626" stroke-width="1.5"/>
<text x="1399.87" y="589.60" font-size="23" textLength="15.72" lengthAdjust="spacingAndGlyphs">0</text>
<text transform="translate(1385.40,567.59) rotate(-90)" font-size="27.5" textLength="151.06" lengthAdjust="spacingAndGlyphs">Power (a.u.)</text>
<text x="1620.69" y="419.70" font-size="26.0" font-style="italic" style="font-family:'Liberation Serif',serif" textLength="10.76" lengthAdjust="spacingAndGlyphs">ε</text>
<text x="1636.82" y="419.70" font-size="23" textLength="11.44" lengthAdjust="spacingAndGlyphs">=</text>
<text x="1654.85" y="419.70" font-size="23" textLength="51.38" lengthAdjust="spacingAndGlyphs">3.3%</text>
<path d="M1494.6 583.0L1494.6 594.0" stroke="#262626" stroke-width="1.5"/>
<text x="1481.90" y="622.10" font-size="23" textLength="25.19" lengthAdjust="spacingAndGlyphs">−5</text>
<path d="M1574.3 583.0L1574.3 594.0" stroke="#262626" stroke-width="1.5"/>
<text x="1566.42" y="622.10" font-size="23" textLength="15.72" lengthAdjust="spacingAndGlyphs">0</text>
<path d="M1654.0 583.0L1654.0 594.0" stroke="#262626" stroke-width="1.5"/>
<text x="1647.34" y="622.10" font-size="23" textLength="13.35" lengthAdjust="spacingAndGlyphs">5</text>
<text x="1520.27" y="655.90" font-size="27.5" textLength="109.46" lengthAdjust="spacingAndGlyphs">Time (fs)</text>
<rect x="1807.4" y="396.9" width="272.5" height="186.1" fill="none" stroke="#000" stroke-width="1.8"/>
<path d="M1807.4 402.4L1795.4 402.4" stroke="#262626" stroke-width="1.5"/>
<text x="1774.62" y="411.80" font-size="23" textLength="9.52" lengthAdjust="spacingAndGlyphs">1</text>
<path d="M1807.4 579.9L1795.4 579.9" stroke="#262626" stroke-width="1.5"/>
<text x="1768.97" y="589.60" font-size="23" textLength="15.72" lengthAdjust="spacingAndGlyphs">0</text>
<text transform="translate(1755.40,560.42) rotate(-90)" font-size="27.5" textLength="137.94" lengthAdjust="spacingAndGlyphs">Amp. (a.u.)</text>
<path d="M2079.9 407.1L2091.9 407.1" stroke="#262626" stroke-width="1.5"/>
<text x="2100.92" y="415.02" font-size="23" textLength="14.08" lengthAdjust="spacingAndGlyphs">8</text>
<path d="M2079.9 448.6L2091.9 448.6" stroke="#262626" stroke-width="1.5"/>
<text x="2101.45" y="456.46" font-size="23" textLength="13.55" lengthAdjust="spacingAndGlyphs">4</text>
<path d="M2079.9 490.0L2091.9 490.0" stroke="#262626" stroke-width="1.5"/>
<text x="2100.87" y="497.90" font-size="23" textLength="15.72" lengthAdjust="spacingAndGlyphs">0</text>
<path d="M2079.9 531.4L2091.9 531.4" stroke="#262626" stroke-width="1.5"/>
<text x="2100.87" y="539.34" font-size="23" textLength="25.75" lengthAdjust="spacingAndGlyphs">−4</text>
<path d="M2079.9 572.9L2091.9 572.9" stroke="#262626" stroke-width="1.5"/>
<text x="2100.85" y="580.78" font-size="23" textLength="26.12" lengthAdjust="spacingAndGlyphs">−8</text>
<text transform="translate(2140.90,419.30) rotate(90)" font-size="27.5" textLength="142.45" lengthAdjust="spacingAndGlyphs">Phase (rad)</text>
<path d="M1867.6 583.0L1867.6 594.0" stroke="#262626" stroke-width="1.5"/>
<text x="1847.37" y="619.80" font-size="23" textLength="39.59" lengthAdjust="spacingAndGlyphs">150</text>
<path d="M1943.3 583.0L1943.3 594.0" stroke="#262626" stroke-width="1.5"/>
<text x="1924.93" y="619.80" font-size="23" textLength="36.00" lengthAdjust="spacingAndGlyphs">175</text>
<path d="M2019.0 583.0L2019.0 594.0" stroke="#262626" stroke-width="1.5"/>
<text x="1995.93" y="619.80" font-size="23" textLength="45.83" lengthAdjust="spacingAndGlyphs">200</text>
<text x="1836.16" y="660.00" font-size="27.5" textLength="216.51" lengthAdjust="spacingAndGlyphs">Wavelength (nm)</text>
</svg>
</div>
</body></html>
